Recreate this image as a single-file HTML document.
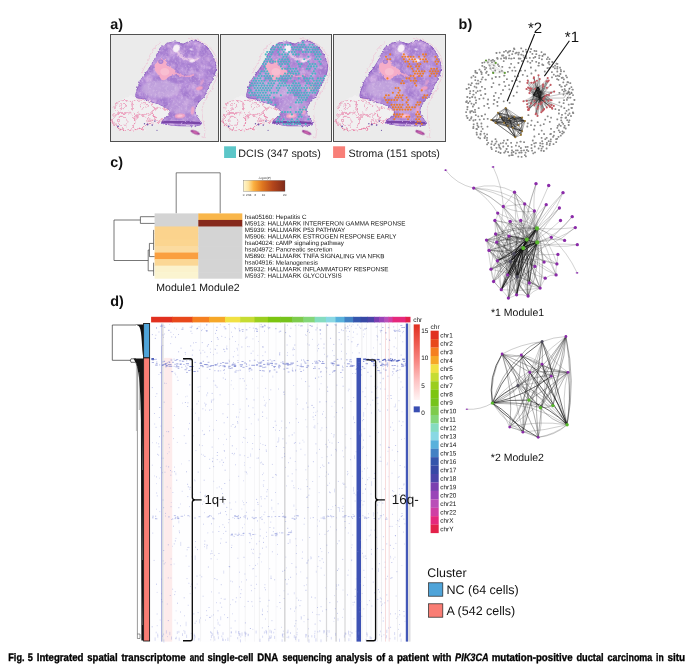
<!DOCTYPE html>
<html lang="en"><head><meta charset="utf-8"><title>Fig. 5</title>
<style>
html,body{margin:0;padding:0;background:#fff;}
body{width:692px;height:666px;overflow:hidden;position:relative;font-family:"Liberation Sans",sans-serif;}
svg{position:absolute;left:0;top:0;display:block;will-change:transform}
text{font-family:"Liberation Sans",sans-serif;text-rendering:geometricPrecision;}
</style></head><body>
<svg width="692" height="666" viewBox="0 0 692 666">
<defs><filter id="b1" x="-10%" y="-10%" width="120%" height="120%"><feGaussianBlur stdDeviation="0.5"/></filter><filter id="b2" x="-20%" y="-20%" width="140%" height="140%"><feGaussianBlur stdDeviation="1.1"/></filter><filter id="b3" x="-5%" y="-5%" width="110%" height="110%"><feGaussianBlur stdDeviation="0.35"/></filter><filter id="rg" x="-10%" y="-10%" width="120%" height="120%"><feTurbulence type="fractalNoise" baseFrequency="0.4" numOctaves="2" seed="5" result="n"/><feDisplacementMap in="SourceGraphic" in2="n" scale="3" xChannelSelector="R" yChannelSelector="G"/><feGaussianBlur stdDeviation="0.4"/></filter><filter id="rg2" x="-10%" y="-10%" width="120%" height="120%"><feTurbulence type="fractalNoise" baseFrequency="0.3" numOctaves="2" seed="9" result="n"/><feDisplacementMap in="SourceGraphic" in2="n" scale="3.5" xChannelSelector="R" yChannelSelector="G"/><feGaussianBlur stdDeviation="0.4"/></filter><filter id="rg3" x="-10%" y="-10%" width="120%" height="120%"><feTurbulence type="fractalNoise" baseFrequency="0.22" numOctaves="3" seed="14" result="n"/><feDisplacementMap in="SourceGraphic" in2="n" scale="7" xChannelSelector="R" yChannelSelector="G"/><feGaussianBlur stdDeviation="0.35"/></filter><filter id="tx" x="0" y="0" width="100%" height="100%"><feTurbulence type="fractalNoise" baseFrequency="0.45" numOctaves="2" seed="3" result="n"/><feColorMatrix in="n" type="matrix" values="0 0 0 0 0.88  0 0 0 0 0.76  0 0 0 0 0.93  2.0 0 0 0 -1.0"/><feGaussianBlur stdDeviation="0.4"/></filter><filter id="tx2" x="0" y="0" width="100%" height="100%"><feTurbulence type="fractalNoise" baseFrequency="0.1" numOctaves="3" seed="8" result="n"/><feColorMatrix in="n" type="matrix" values="0 0 0 0 0.53  0 0 0 0 0.33  0 0 0 0 0.74  0 2.6 0 0 -1.0"/></filter><filter id="tx3" x="0" y="0" width="100%" height="100%"><feTurbulence type="fractalNoise" baseFrequency="0.14" numOctaves="3" seed="21" result="n"/><feColorMatrix in="n" type="matrix" values="0 0 0 0 0.86  0 0 0 0 0.62  0 0 0 0 0.86  0 0 2.6 0 -1.15"/></filter><clipPath id="cT"><path d="M46,21.7C46.9,19.7 47.7,17.7 48.6,16.1C49.4,14.6 50,13.5 51.2,12.5C52.3,11.4 54.1,10.6 55.5,9.9C56.9,9.2 57.8,8.7 59.5,8.3C61.1,7.9 63.6,7.5 65.4,7.6C67.2,7.7 68.8,8.5 70.2,8.8C71.6,9.2 72.4,9.8 73.7,9.5C75,9.3 76.5,8 78,7.5C79.6,6.9 81.2,6.4 83.1,6.4C84.9,6.5 87.5,7.2 89.3,7.8C91.1,8.4 92.4,9.1 93.8,10.2C95.3,11.3 96.8,13 98,14.4C99.2,15.8 99.9,16.8 100.9,18.6C101.9,20.3 103.3,22.8 104,25.1C104.8,27.5 105.5,30.1 105.6,32.6C105.7,35.1 105.1,37.6 104.4,39.9C103.7,42.2 102.2,44.3 101.3,46.3C100.3,48.3 99.3,50.1 98.5,52C97.7,53.9 97,55.8 96.2,57.6C95.4,59.3 94.8,60.9 93.6,62.4C92.5,64 90.6,65.2 89.3,66.8C88,68.3 86.6,70.2 85.8,72C85.1,73.7 84.5,75.4 84.6,77.2C84.8,78.9 85.8,80.8 86.7,82.4C87.6,84 89.2,85.4 89.8,86.7C90.5,88 91.3,89.4 90.5,90.2C89.7,90.9 87,91.2 85,91.4C82.9,91.6 81.5,91.4 78,91.4C74.6,91.3 68.5,91.5 64.2,91C59.8,90.6 53.6,89.9 52,88.8C50.4,87.6 53.4,85.6 54.6,84.1C55.8,82.6 58.5,81.1 59.3,79.8C60.1,78.5 60.6,77.6 59.6,76.3C58.7,75 56.2,73.3 53.8,72C51.3,70.7 48.3,69.7 45.1,68.5C41.9,67.3 37.9,65.5 34.7,64.5C31.5,63.6 27.3,64.3 26,62.8C24.7,61.3 26.4,57.7 26.9,55.5C27.4,53.3 28.1,51.4 29,49.4C29.8,47.4 30.5,45.7 32.1,43.4C33.6,41 36.4,37.8 38.1,35.2C39.9,32.6 41.5,30.2 42.8,27.9C44.1,25.7 45,23.6 46,21.7Z"/></clipPath><clipPath id="cF"><path d="M2.6,82.4C2.5,80.6 2.7,79.2 3.5,77.2C4.2,75.1 5.5,72.3 6.9,70.2C8.4,68.2 10.1,66.3 12.1,65C14.2,63.7 16.8,62.9 19.1,62.4C21.4,61.9 23.4,61.8 26,62.1C28.6,62.4 31.5,63.1 34.7,64.2C37.9,65.2 41.9,67.2 45.1,68.5C48.3,69.8 51.4,70.7 53.8,72C56.1,73.3 58.4,75.1 59.3,76.3C60.2,77.5 59.7,77.6 59,78.9C58.2,80.2 55.8,82.5 54.6,84.1C53.5,85.7 53.9,87.4 52,88.4C50.1,89.4 46,89.6 43.4,90.2C40.7,90.7 38.3,90.9 36.4,91.9C34.5,92.9 34.1,95.5 32.1,96.2C30.1,97 27,96.7 24.3,96.6C21.5,96.4 18.2,96.2 15.6,95.4C13,94.6 10.5,93.2 8.7,91.9C6.8,90.6 5.3,89.2 4.3,87.6C3.3,86 2.7,84.1 2.6,82.4Z"/></clipPath><linearGradient id="lg" x1="0" x2="1" y1="0" y2="0"><stop offset="0" stop-color="#fff7d0"/><stop offset="0.12" stop-color="#fde4a0"/><stop offset="0.25" stop-color="#fbb040"/><stop offset="0.45" stop-color="#e07820"/><stop offset="0.7" stop-color="#b5471c"/><stop offset="1" stop-color="#7f2a1a"/></linearGradient><linearGradient id="vg" x1="0" x2="0" y1="0" y2="1"><stop offset="0" stop-color="#e02f20"/><stop offset="0.25" stop-color="#ee5a50"/><stop offset="0.5" stop-color="#f88a86"/><stop offset="0.75" stop-color="#fdc4c4"/><stop offset="1" stop-color="#fff4f4"/></linearGradient></defs>
<g id="panel-a">
<rect x="110.5" y="34.5" width="108.0" height="107" fill="#ebebeb" stroke="#505050" stroke-width="1"/>
<g transform="translate(110.2 34.4) scale(1.0000 1)"><g><g fill="none" stroke="#f0a0c2" stroke-opacity="0.8" stroke-width="0.5" filter="url(#rg2)"><path d="M50.3,8.1C49.4,9 46.8,11 45.1,13C43.4,15 41.5,17.6 40.2,19.9C38.9,22.3 38.4,24.6 37.3,26.9C36.2,29.2 34.8,31.8 33.8,33.8C32.9,35.8 31.9,38.1 31.6,39"/><path d="M78,4C79.2,4.2 82.7,4.6 85,5.2C87.3,5.8 89.6,6.6 91.9,7.8C94.2,9 96.8,10.3 98.8,12.3C100.9,14.3 102.9,16.8 104.4,19.9C105.8,23.1 107,27.7 107.5,31.2C108,34.7 107.8,37.7 107.2,40.7C106.5,43.8 105,46.9 103.7,49.8C102.4,52.7 100.7,55.3 99.2,58.1C97.7,60.9 95.7,63.9 94.5,66.8C93.3,69.6 92.2,72.3 91.9,75.4C91.6,78.6 92.3,82.7 92.8,85.8C93.2,89 94.3,91.8 94.5,94.5C94.7,97.2 94.5,100.8 94,102.3C93.4,103.8 91.7,103.3 91.2,103.5"/></g><path d="M2.6,82.4C2.5,80.6 2.7,79.2 3.5,77.2C4.2,75.1 5.5,72.3 6.9,70.2C8.4,68.2 10.1,66.3 12.1,65C14.2,63.7 16.8,62.9 19.1,62.4C21.4,61.9 23.4,61.8 26,62.1C28.6,62.4 31.5,63.1 34.7,64.2C37.9,65.2 41.9,67.2 45.1,68.5C48.3,69.8 51.4,70.7 53.8,72C56.1,73.3 58.4,75.1 59.3,76.3C60.2,77.5 59.7,77.6 59,78.9C58.2,80.2 55.8,82.5 54.6,84.1C53.5,85.7 53.9,87.4 52,88.4C50.1,89.4 46,89.6 43.4,90.2C40.7,90.7 38.3,90.9 36.4,91.9C34.5,92.9 34.1,95.5 32.1,96.2C30.1,97 27,96.7 24.3,96.6C21.5,96.4 18.2,96.2 15.6,95.4C13,94.6 10.5,93.2 8.7,91.9C6.8,90.6 5.3,89.2 4.3,87.6C3.3,86 2.7,84.1 2.6,82.4Z" fill="#f3f1f2" fill-opacity="0.8" stroke="none" filter="url(#rg3)"/><path d="M4.9,69.6C5.5,68.6 6.7,67.8 8.5,67.2C10.2,66.6 13.4,65.8 15.6,66C17.7,66.2 20.2,67.2 21.5,68.4C22.8,69.6 23.5,71.6 23.3,73.1C23.1,74.6 22,76.4 20.3,77.3C18.6,78.1 15.4,78.5 13.2,78.4C11,78.3 8.6,77.6 7.3,76.7C5.9,75.8 5.5,74.3 5.1,73.1C4.8,71.9 4.4,70.5 4.9,69.6ZM2.5,82.6C3.1,81.2 4.3,80.2 6.1,79.6C7.9,79 10.8,78.9 13.2,79C15.6,79.1 18.4,79.2 20.3,80.2C22.2,81.2 24,83.2 24.5,85C25,86.7 24.2,89.2 23.3,90.9C22.4,92.6 21,94.2 19.1,95C17.3,95.8 14.2,96 12,95.6C9.8,95.2 7.7,93.9 6.1,92.7C4.5,91.4 3.1,89.6 2.5,87.9C1.9,86.2 1.9,84 2.5,82.6ZM22.1,67.2C22.9,65.6 25.1,65.1 27.4,64.8C29.7,64.5 33.3,64.8 35.7,65.4C38.1,66 40.4,67 41.6,68.4C42.9,69.8 43.6,72 43.4,73.7C43.2,75.4 42.1,77.4 40.5,78.4C38.8,79.5 35.7,80.1 33.3,80.2C31,80.3 28,80 26.2,79C24.5,78 23.4,76.3 22.7,74.3C22,72.3 21.3,68.8 22.1,67.2ZM25.6,81.6C26.8,80.2 29.7,80.6 31.6,80.8C33.4,81.1 35.9,81.9 36.9,83.2C37.9,84.5 38.1,86.7 37.5,88.5C36.9,90.3 35,92.9 33.3,93.8C31.7,94.8 28.9,95.1 27.4,94.4C25.9,93.7 24.8,91.8 24.5,89.7C24.2,87.6 24.5,83.1 25.6,81.6ZM43.4,76.1C44.2,74.7 46.9,73.9 48.7,73.7C50.6,73.5 52.9,74.1 54.7,74.9C56.4,75.7 58.7,77 59.4,78.4C60.1,79.9 59.8,82.5 58.8,83.8C57.8,85.1 55.4,85.8 53.5,86.1C51.6,86.5 49.2,86.8 47.6,86.1C45.9,85.5 44.5,83.7 43.8,82C43.1,80.3 42.6,77.5 43.4,76.1ZM9.6,71.3C10,70.5 13.4,69.9 14.4,70.1C15.4,70.4 16,72.3 15.6,73.1C15.2,73.9 13,75.2 12,74.9C11,74.6 9.3,72.1 9.6,71.3ZM29.8,69.6C30.6,68.7 33.3,67.9 34.5,68.4C35.7,68.9 37.1,71.3 36.9,72.5C36.7,73.7 34.6,75.3 33.3,75.5C32.1,75.7 30.1,74.7 29.6,73.7C29,72.7 29,70.4 29.8,69.6ZM38.1,81.4C38.4,80.3 41.7,79.6 42.8,80.2C43.9,80.8 44.9,83.9 44.6,85C44.3,86 42.1,87.3 41,86.7C40,86.1 37.8,82.5 38.1,81.4ZM8.5,83.8C9.4,82.8 13,82.6 14.4,83.2C15.8,83.8 17,86 16.8,87.3C16.6,88.6 14.5,90.6 13.2,90.9C11.9,91.2 9.8,90.3 9.1,89.1C8.3,87.9 7.6,84.8 8.5,83.8Z" fill="none" stroke="#e8729f" stroke-opacity="0.9" stroke-width="0.7" filter="url(#rg3)"/><path d="M3.1,86.1C3.4,86.9 3.8,89.5 4.9,90.9C6,92.3 7.7,93.8 9.6,94.7C11.6,95.6 14.2,96.1 16.8,96.2C19.3,96.3 22.5,95.6 25.1,95.4C27.6,95.1 30.4,95.4 32.2,94.7C33.9,93.9 34.1,91.9 35.7,90.9C37.3,89.9 39.7,88.9 41.6,88.5C43.6,88.1 46.6,88.3 47.6,88.3" fill="none" stroke="#e6608f" stroke-opacity="0.85" stroke-width="0.9" stroke-dasharray="3 1.5 1.5 1" filter="url(#rg3)"/><path d="M46,21.7C46.9,19.7 47.7,17.7 48.6,16.1C49.4,14.6 50,13.5 51.2,12.5C52.3,11.4 54.1,10.6 55.5,9.9C56.9,9.2 57.8,8.7 59.5,8.3C61.1,7.9 63.6,7.5 65.4,7.6C67.2,7.7 68.8,8.5 70.2,8.8C71.6,9.2 72.4,9.8 73.7,9.5C75,9.3 76.5,8 78,7.5C79.6,6.9 81.2,6.4 83.1,6.4C84.9,6.5 87.5,7.2 89.3,7.8C91.1,8.4 92.4,9.1 93.8,10.2C95.3,11.3 96.8,13 98,14.4C99.2,15.8 99.9,16.8 100.9,18.6C101.9,20.3 103.3,22.8 104,25.1C104.8,27.5 105.5,30.1 105.6,32.6C105.7,35.1 105.1,37.6 104.4,39.9C103.7,42.2 102.2,44.3 101.3,46.3C100.3,48.3 99.3,50.1 98.5,52C97.7,53.9 97,55.8 96.2,57.6C95.4,59.3 94.8,60.9 93.6,62.4C92.5,64 90.6,65.2 89.3,66.8C88,68.3 86.6,70.2 85.8,72C85.1,73.7 84.5,75.4 84.6,77.2C84.8,78.9 85.8,80.8 86.7,82.4C87.6,84 89.2,85.4 89.8,86.7C90.5,88 91.3,89.4 90.5,90.2C89.7,90.9 87,91.2 85,91.4C82.9,91.6 81.5,91.4 78,91.4C74.6,91.3 68.5,91.5 64.2,91C59.8,90.6 53.6,89.9 52,88.8C50.4,87.6 53.4,85.6 54.6,84.1C55.8,82.6 58.5,81.1 59.3,79.8C60.1,78.5 60.6,77.6 59.6,76.3C58.7,75 56.2,73.3 53.8,72C51.3,70.7 48.3,69.7 45.1,68.5C41.9,67.3 37.9,65.5 34.7,64.5C31.5,63.6 27.3,64.3 26,62.8C24.7,61.3 26.4,57.7 26.9,55.5C27.4,53.3 28.1,51.4 29,49.4C29.8,47.4 30.5,45.7 32.1,43.4C33.6,41 36.4,37.8 38.1,35.2C39.9,32.6 41.5,30.2 42.8,27.9C44.1,25.7 45,23.6 46,21.7Z" fill="#a47cd0" stroke="#8c5cc0" stroke-width="1" filter="url(#rg)"/><g clip-path="url(#cT)"><rect x="0" y="0" width="109" height="107" fill="#fff" opacity="0.9" filter="url(#tx2)"/><rect x="0" y="0" width="109" height="107" fill="#fff" opacity="0.5" filter="url(#tx3)"/><ellipse cx="50.3" cy="54.6" rx="19" ry="9" fill="#c9aee0" opacity="0.7" filter="url(#b2)"/><ellipse cx="72.8" cy="72" rx="14" ry="8" fill="#c5a6de" opacity="0.6" filter="url(#b2)"/><rect x="0" y="0" width="109" height="107" fill="#fff" opacity="0.45" filter="url(#tx)"/><path d="M44.4,31.2C44.7,29.8 45.9,28.8 46.8,27.7C47.7,26.7 48.6,25.5 49.9,25.1C51.2,24.8 53.6,24.8 54.6,25.5C55.7,26.2 55.6,28.3 56.4,29.5C57.1,30.6 58,31.5 59.3,32.4C60.6,33.4 63,34.2 64.2,35.2C65.3,36.2 66.2,37.3 66.2,38.1C66.2,39 65.4,39.7 64.2,40.4C62.9,41.1 60.4,41.4 59,42.1C57.5,42.9 56.7,44.5 55.5,45.1C54.3,45.7 52.8,46.3 51.7,45.6C50.5,44.9 49.7,42.6 48.6,41.1C47.5,39.6 45.8,38.1 45.1,36.4C44.4,34.8 44.1,32.7 44.4,31.2Z" fill="#f5adc8" filter="url(#rg)"/><ellipse cx="54.6" cy="37.3" rx="4.5" ry="3.8" fill="#f9c0d2" opacity="0.9" filter="url(#b1)"/><path d="M64.2,38.1C65.3,38.6 68.8,40.4 71.1,41.1C73.4,41.8 76,42.3 78,42.1C80.1,42 82.4,40.7 83.2,40.4" fill="none" stroke="#f3a8c8" stroke-width="1.8" stroke-linecap="round" opacity="0.8" filter="url(#rg2)"/><ellipse cx="50.6" cy="27.2" rx="2.6" ry="2.4" fill="#a87fd0" opacity="1" filter="url(#b1)"/><ellipse cx="50.6" cy="27.2" rx="1.2" ry="1.2" fill="#bf98da" opacity="1" filter="url(#b1)"/><ellipse cx="66.2" cy="14" rx="3.3" ry="4" fill="#f8f0f7" opacity="1" transform="rotate(25 66.2 14)" filter="url(#b1)"/><ellipse cx="81" cy="15.1" rx="1.7" ry="1" fill="#f2e6f4" opacity="0.9" transform="rotate(20 81 15.1)" filter="url(#b1)"/><path d="M67.6,17.9C68.4,18.7 70.2,21.7 72.5,23.1C74.8,24.4 78.9,25.6 81.5,25.8C84.1,26.1 87,24.7 88.1,24.4" fill="none" stroke="#f0d0e8" stroke-width="2" stroke-linecap="round" opacity="0.75" filter="url(#rg2)"/><ellipse cx="82" cy="26.5" rx="2.4" ry="1.4" fill="#f7eef6" opacity="0.95" transform="rotate(-8 82 26.5)" filter="url(#b1)"/><ellipse cx="89.3" cy="53.8" rx="3.5" ry="1.9" fill="#f3a2c2" opacity="0.95" transform="rotate(-15 89.3 53.8)" filter="url(#b1)"/><ellipse cx="69.7" cy="81.5" rx="5.2" ry="2.3" fill="#f5a6c4" opacity="0.95" transform="rotate(-5 69.7 81.5)" filter="url(#b1)"/><ellipse cx="69.7" cy="81.5" rx="2.8" ry="0.9" fill="#fbd0dc" opacity="0.9" transform="rotate(-5 69.7 81.5)" filter="url(#b1)"/><ellipse cx="82.4" cy="76.3" rx="1.6" ry="4.2" fill="#f0a6c8" opacity="0.9" transform="rotate(5 82.4 76.3)" filter="url(#b1)"/><ellipse cx="91.9" cy="47.7" rx="1.4" ry="3.1" fill="#eaa0cc" opacity="0.6" transform="rotate(25 91.9 47.7)" filter="url(#b1)"/><path d="M52.4,87.2C54.3,87.3 59.9,87.8 64.2,87.9C68.4,88.1 73.6,87.9 78,88.1C82.4,88.3 88.4,88.8 90.5,89" fill="none" stroke="#7a46a8" stroke-width="2.6" stroke-linecap="round" filter="url(#rg)"/></g><ellipse cx="85" cy="98" rx="4.9" ry="1.7" fill="#a2459c" opacity="1" transform="rotate(22 85 98)" filter="url(#b1)"/><ellipse cx="85" cy="98" rx="2.8" ry="0.7" fill="#e070b0" opacity="1" transform="rotate(22 85 98)" filter="url(#b1)"/><circle cx="7.8" cy="91.9" r="0.9" fill="#6f55a8" filter="url(#b3)"/><circle cx="37.3" cy="90.2" r="1.0" fill="#6f55a8" filter="url(#b3)"/><circle cx="42" cy="90.7" r="0.8" fill="#6f55a8" filter="url(#b3)"/><circle cx="46.8" cy="95.9" r="0.6" fill="#6f55a8" filter="url(#b3)"/><circle cx="34.3" cy="89.3" r="0.7" fill="#6f55a8" filter="url(#b3)"/><circle cx="44.7" cy="86.7" r="0.8" fill="#6f55a8" filter="url(#b3)"/></g>
</g>
<rect x="220.5" y="34.5" width="111.0" height="107" fill="#ebebeb" stroke="#505050" stroke-width="1"/>
<g transform="translate(220.8 34.4) scale(1.0100 1)"><g><g fill="none" stroke="#f0a0c2" stroke-opacity="0.8" stroke-width="0.5" filter="url(#rg2)"><path d="M50.3,8.1C49.4,9 46.8,11 45.1,13C43.4,15 41.5,17.6 40.2,19.9C38.9,22.3 38.4,24.6 37.3,26.9C36.2,29.2 34.8,31.8 33.8,33.8C32.9,35.8 31.9,38.1 31.6,39"/><path d="M78,4C79.2,4.2 82.7,4.6 85,5.2C87.3,5.8 89.6,6.6 91.9,7.8C94.2,9 96.8,10.3 98.8,12.3C100.9,14.3 102.9,16.8 104.4,19.9C105.8,23.1 107,27.7 107.5,31.2C108,34.7 107.8,37.7 107.2,40.7C106.5,43.8 105,46.9 103.7,49.8C102.4,52.7 100.7,55.3 99.2,58.1C97.7,60.9 95.7,63.9 94.5,66.8C93.3,69.6 92.2,72.3 91.9,75.4C91.6,78.6 92.3,82.7 92.8,85.8C93.2,89 94.3,91.8 94.5,94.5C94.7,97.2 94.5,100.8 94,102.3C93.4,103.8 91.7,103.3 91.2,103.5"/></g><path d="M2.6,82.4C2.5,80.6 2.7,79.2 3.5,77.2C4.2,75.1 5.5,72.3 6.9,70.2C8.4,68.2 10.1,66.3 12.1,65C14.2,63.7 16.8,62.9 19.1,62.4C21.4,61.9 23.4,61.8 26,62.1C28.6,62.4 31.5,63.1 34.7,64.2C37.9,65.2 41.9,67.2 45.1,68.5C48.3,69.8 51.4,70.7 53.8,72C56.1,73.3 58.4,75.1 59.3,76.3C60.2,77.5 59.7,77.6 59,78.9C58.2,80.2 55.8,82.5 54.6,84.1C53.5,85.7 53.9,87.4 52,88.4C50.1,89.4 46,89.6 43.4,90.2C40.7,90.7 38.3,90.9 36.4,91.9C34.5,92.9 34.1,95.5 32.1,96.2C30.1,97 27,96.7 24.3,96.6C21.5,96.4 18.2,96.2 15.6,95.4C13,94.6 10.5,93.2 8.7,91.9C6.8,90.6 5.3,89.2 4.3,87.6C3.3,86 2.7,84.1 2.6,82.4Z" fill="#f3f1f2" fill-opacity="0.8" stroke="none" filter="url(#rg3)"/><path d="M4.9,69.6C5.5,68.6 6.7,67.8 8.5,67.2C10.2,66.6 13.4,65.8 15.6,66C17.7,66.2 20.2,67.2 21.5,68.4C22.8,69.6 23.5,71.6 23.3,73.1C23.1,74.6 22,76.4 20.3,77.3C18.6,78.1 15.4,78.5 13.2,78.4C11,78.3 8.6,77.6 7.3,76.7C5.9,75.8 5.5,74.3 5.1,73.1C4.8,71.9 4.4,70.5 4.9,69.6ZM2.5,82.6C3.1,81.2 4.3,80.2 6.1,79.6C7.9,79 10.8,78.9 13.2,79C15.6,79.1 18.4,79.2 20.3,80.2C22.2,81.2 24,83.2 24.5,85C25,86.7 24.2,89.2 23.3,90.9C22.4,92.6 21,94.2 19.1,95C17.3,95.8 14.2,96 12,95.6C9.8,95.2 7.7,93.9 6.1,92.7C4.5,91.4 3.1,89.6 2.5,87.9C1.9,86.2 1.9,84 2.5,82.6ZM22.1,67.2C22.9,65.6 25.1,65.1 27.4,64.8C29.7,64.5 33.3,64.8 35.7,65.4C38.1,66 40.4,67 41.6,68.4C42.9,69.8 43.6,72 43.4,73.7C43.2,75.4 42.1,77.4 40.5,78.4C38.8,79.5 35.7,80.1 33.3,80.2C31,80.3 28,80 26.2,79C24.5,78 23.4,76.3 22.7,74.3C22,72.3 21.3,68.8 22.1,67.2ZM25.6,81.6C26.8,80.2 29.7,80.6 31.6,80.8C33.4,81.1 35.9,81.9 36.9,83.2C37.9,84.5 38.1,86.7 37.5,88.5C36.9,90.3 35,92.9 33.3,93.8C31.7,94.8 28.9,95.1 27.4,94.4C25.9,93.7 24.8,91.8 24.5,89.7C24.2,87.6 24.5,83.1 25.6,81.6ZM43.4,76.1C44.2,74.7 46.9,73.9 48.7,73.7C50.6,73.5 52.9,74.1 54.7,74.9C56.4,75.7 58.7,77 59.4,78.4C60.1,79.9 59.8,82.5 58.8,83.8C57.8,85.1 55.4,85.8 53.5,86.1C51.6,86.5 49.2,86.8 47.6,86.1C45.9,85.5 44.5,83.7 43.8,82C43.1,80.3 42.6,77.5 43.4,76.1ZM9.6,71.3C10,70.5 13.4,69.9 14.4,70.1C15.4,70.4 16,72.3 15.6,73.1C15.2,73.9 13,75.2 12,74.9C11,74.6 9.3,72.1 9.6,71.3ZM29.8,69.6C30.6,68.7 33.3,67.9 34.5,68.4C35.7,68.9 37.1,71.3 36.9,72.5C36.7,73.7 34.6,75.3 33.3,75.5C32.1,75.7 30.1,74.7 29.6,73.7C29,72.7 29,70.4 29.8,69.6ZM38.1,81.4C38.4,80.3 41.7,79.6 42.8,80.2C43.9,80.8 44.9,83.9 44.6,85C44.3,86 42.1,87.3 41,86.7C40,86.1 37.8,82.5 38.1,81.4ZM8.5,83.8C9.4,82.8 13,82.6 14.4,83.2C15.8,83.8 17,86 16.8,87.3C16.6,88.6 14.5,90.6 13.2,90.9C11.9,91.2 9.8,90.3 9.1,89.1C8.3,87.9 7.6,84.8 8.5,83.8Z" fill="none" stroke="#e8729f" stroke-opacity="0.9" stroke-width="0.7" filter="url(#rg3)"/><path d="M3.1,86.1C3.4,86.9 3.8,89.5 4.9,90.9C6,92.3 7.7,93.8 9.6,94.7C11.6,95.6 14.2,96.1 16.8,96.2C19.3,96.3 22.5,95.6 25.1,95.4C27.6,95.1 30.4,95.4 32.2,94.7C33.9,93.9 34.1,91.9 35.7,90.9C37.3,89.9 39.7,88.9 41.6,88.5C43.6,88.1 46.6,88.3 47.6,88.3" fill="none" stroke="#e6608f" stroke-opacity="0.85" stroke-width="0.9" stroke-dasharray="3 1.5 1.5 1" filter="url(#rg3)"/><path d="M46,21.7C46.9,19.7 47.7,17.7 48.6,16.1C49.4,14.6 50,13.5 51.2,12.5C52.3,11.4 54.1,10.6 55.5,9.9C56.9,9.2 57.8,8.7 59.5,8.3C61.1,7.9 63.6,7.5 65.4,7.6C67.2,7.7 68.8,8.5 70.2,8.8C71.6,9.2 72.4,9.8 73.7,9.5C75,9.3 76.5,8 78,7.5C79.6,6.9 81.2,6.4 83.1,6.4C84.9,6.5 87.5,7.2 89.3,7.8C91.1,8.4 92.4,9.1 93.8,10.2C95.3,11.3 96.8,13 98,14.4C99.2,15.8 99.9,16.8 100.9,18.6C101.9,20.3 103.3,22.8 104,25.1C104.8,27.5 105.5,30.1 105.6,32.6C105.7,35.1 105.1,37.6 104.4,39.9C103.7,42.2 102.2,44.3 101.3,46.3C100.3,48.3 99.3,50.1 98.5,52C97.7,53.9 97,55.8 96.2,57.6C95.4,59.3 94.8,60.9 93.6,62.4C92.5,64 90.6,65.2 89.3,66.8C88,68.3 86.6,70.2 85.8,72C85.1,73.7 84.5,75.4 84.6,77.2C84.8,78.9 85.8,80.8 86.7,82.4C87.6,84 89.2,85.4 89.8,86.7C90.5,88 91.3,89.4 90.5,90.2C89.7,90.9 87,91.2 85,91.4C82.9,91.6 81.5,91.4 78,91.4C74.6,91.3 68.5,91.5 64.2,91C59.8,90.6 53.6,89.9 52,88.8C50.4,87.6 53.4,85.6 54.6,84.1C55.8,82.6 58.5,81.1 59.3,79.8C60.1,78.5 60.6,77.6 59.6,76.3C58.7,75 56.2,73.3 53.8,72C51.3,70.7 48.3,69.7 45.1,68.5C41.9,67.3 37.9,65.5 34.7,64.5C31.5,63.6 27.3,64.3 26,62.8C24.7,61.3 26.4,57.7 26.9,55.5C27.4,53.3 28.1,51.4 29,49.4C29.8,47.4 30.5,45.7 32.1,43.4C33.6,41 36.4,37.8 38.1,35.2C39.9,32.6 41.5,30.2 42.8,27.9C44.1,25.7 45,23.6 46,21.7Z" fill="#a47cd0" stroke="#8c5cc0" stroke-width="1" filter="url(#rg)"/><g clip-path="url(#cT)"><rect x="0" y="0" width="109" height="107" fill="#fff" opacity="0.9" filter="url(#tx2)"/><rect x="0" y="0" width="109" height="107" fill="#fff" opacity="0.5" filter="url(#tx3)"/><ellipse cx="50.3" cy="54.6" rx="19" ry="9" fill="#c9aee0" opacity="0.7" filter="url(#b2)"/><ellipse cx="72.8" cy="72" rx="14" ry="8" fill="#c5a6de" opacity="0.6" filter="url(#b2)"/><rect x="0" y="0" width="109" height="107" fill="#fff" opacity="0.45" filter="url(#tx)"/><path d="M44.4,31.2C44.7,29.8 45.9,28.8 46.8,27.7C47.7,26.7 48.6,25.5 49.9,25.1C51.2,24.8 53.6,24.8 54.6,25.5C55.7,26.2 55.6,28.3 56.4,29.5C57.1,30.6 58,31.5 59.3,32.4C60.6,33.4 63,34.2 64.2,35.2C65.3,36.2 66.2,37.3 66.2,38.1C66.2,39 65.4,39.7 64.2,40.4C62.9,41.1 60.4,41.4 59,42.1C57.5,42.9 56.7,44.5 55.5,45.1C54.3,45.7 52.8,46.3 51.7,45.6C50.5,44.9 49.7,42.6 48.6,41.1C47.5,39.6 45.8,38.1 45.1,36.4C44.4,34.8 44.1,32.7 44.4,31.2Z" fill="#f5adc8" filter="url(#rg)"/><ellipse cx="54.6" cy="37.3" rx="4.5" ry="3.8" fill="#f9c0d2" opacity="0.9" filter="url(#b1)"/><path d="M64.2,38.1C65.3,38.6 68.8,40.4 71.1,41.1C73.4,41.8 76,42.3 78,42.1C80.1,42 82.4,40.7 83.2,40.4" fill="none" stroke="#f3a8c8" stroke-width="1.8" stroke-linecap="round" opacity="0.8" filter="url(#rg2)"/><ellipse cx="50.6" cy="27.2" rx="2.6" ry="2.4" fill="#a87fd0" opacity="1" filter="url(#b1)"/><ellipse cx="50.6" cy="27.2" rx="1.2" ry="1.2" fill="#bf98da" opacity="1" filter="url(#b1)"/><ellipse cx="66.2" cy="14" rx="3.3" ry="4" fill="#f8f0f7" opacity="1" transform="rotate(25 66.2 14)" filter="url(#b1)"/><ellipse cx="81" cy="15.1" rx="1.7" ry="1" fill="#f2e6f4" opacity="0.9" transform="rotate(20 81 15.1)" filter="url(#b1)"/><path d="M67.6,17.9C68.4,18.7 70.2,21.7 72.5,23.1C74.8,24.4 78.9,25.6 81.5,25.8C84.1,26.1 87,24.7 88.1,24.4" fill="none" stroke="#f0d0e8" stroke-width="2" stroke-linecap="round" opacity="0.75" filter="url(#rg2)"/><ellipse cx="82" cy="26.5" rx="2.4" ry="1.4" fill="#f7eef6" opacity="0.95" transform="rotate(-8 82 26.5)" filter="url(#b1)"/><ellipse cx="89.3" cy="53.8" rx="3.5" ry="1.9" fill="#f3a2c2" opacity="0.95" transform="rotate(-15 89.3 53.8)" filter="url(#b1)"/><ellipse cx="69.7" cy="81.5" rx="5.2" ry="2.3" fill="#f5a6c4" opacity="0.95" transform="rotate(-5 69.7 81.5)" filter="url(#b1)"/><ellipse cx="69.7" cy="81.5" rx="2.8" ry="0.9" fill="#fbd0dc" opacity="0.9" transform="rotate(-5 69.7 81.5)" filter="url(#b1)"/><ellipse cx="82.4" cy="76.3" rx="1.6" ry="4.2" fill="#f0a6c8" opacity="0.9" transform="rotate(5 82.4 76.3)" filter="url(#b1)"/><ellipse cx="91.9" cy="47.7" rx="1.4" ry="3.1" fill="#eaa0cc" opacity="0.6" transform="rotate(25 91.9 47.7)" filter="url(#b1)"/><path d="M52.4,87.2C54.3,87.3 59.9,87.8 64.2,87.9C68.4,88.1 73.6,87.9 78,88.1C82.4,88.3 88.4,88.8 90.5,89" fill="none" stroke="#7a46a8" stroke-width="2.6" stroke-linecap="round" filter="url(#rg)"/></g><ellipse cx="85" cy="98" rx="4.9" ry="1.7" fill="#a2459c" opacity="1" transform="rotate(22 85 98)" filter="url(#b1)"/><ellipse cx="85" cy="98" rx="2.8" ry="0.7" fill="#e070b0" opacity="1" transform="rotate(22 85 98)" filter="url(#b1)"/><circle cx="7.8" cy="91.9" r="0.9" fill="#6f55a8" filter="url(#b3)"/><circle cx="37.3" cy="90.2" r="1.0" fill="#6f55a8" filter="url(#b3)"/><circle cx="42" cy="90.7" r="0.8" fill="#6f55a8" filter="url(#b3)"/><circle cx="46.8" cy="95.9" r="0.6" fill="#6f55a8" filter="url(#b3)"/><circle cx="34.3" cy="89.3" r="0.7" fill="#6f55a8" filter="url(#b3)"/><circle cx="44.7" cy="86.7" r="0.8" fill="#6f55a8" filter="url(#b3)"/></g>
<g fill="#3fb6c2" fill-opacity="0.95"><circle cx="81.2" cy="8" r="1.05"/><circle cx="55.4" cy="10.4" r="1.05"/><circle cx="58.1" cy="10.4" r="1.05"/><circle cx="60.8" cy="10.4" r="1.05"/><circle cx="63.6" cy="10.4" r="1.05"/><circle cx="66.3" cy="10.4" r="1.05"/><circle cx="69" cy="10.4" r="1.05"/><circle cx="77.2" cy="10.4" r="1.05"/><circle cx="79.9" cy="10.4" r="1.05"/><circle cx="82.6" cy="10.4" r="1.05"/><circle cx="88" cy="10.4" r="1.05"/><circle cx="90.8" cy="10.4" r="1.05"/><circle cx="51.3" cy="12.8" r="1.05"/><circle cx="54" cy="12.8" r="1.05"/><circle cx="56.8" cy="12.8" r="1.05"/><circle cx="59.5" cy="12.8" r="1.05"/><circle cx="70.4" cy="12.8" r="1.05"/><circle cx="73.1" cy="12.8" r="1.05"/><circle cx="75.8" cy="12.8" r="1.05"/><circle cx="78.5" cy="12.8" r="1.05"/><circle cx="81.2" cy="12.8" r="1.05"/><circle cx="84" cy="12.8" r="1.05"/><circle cx="86.7" cy="12.8" r="1.05"/><circle cx="89.4" cy="12.8" r="1.05"/><circle cx="92.1" cy="12.8" r="1.05"/><circle cx="94.8" cy="12.8" r="1.05"/><circle cx="50" cy="15.2" r="1.05"/><circle cx="52.7" cy="15.2" r="1.05"/><circle cx="58.1" cy="15.2" r="1.05"/><circle cx="60.8" cy="15.2" r="1.05"/><circle cx="63.6" cy="15.2" r="1.05"/><circle cx="71.7" cy="15.2" r="1.05"/><circle cx="74.4" cy="15.2" r="1.05"/><circle cx="77.2" cy="15.2" r="1.05"/><circle cx="79.9" cy="15.2" r="1.05"/><circle cx="85.3" cy="15.2" r="1.05"/><circle cx="88" cy="15.2" r="1.05"/><circle cx="90.8" cy="15.2" r="1.05"/><circle cx="93.5" cy="15.2" r="1.05"/><circle cx="96.2" cy="15.2" r="1.05"/><circle cx="45.9" cy="17.6" r="1.05"/><circle cx="48.6" cy="17.6" r="1.05"/><circle cx="51.3" cy="17.6" r="1.05"/><circle cx="56.8" cy="17.6" r="1.05"/><circle cx="62.2" cy="17.6" r="1.05"/><circle cx="67.6" cy="17.6" r="1.05"/><circle cx="70.4" cy="17.6" r="1.05"/><circle cx="73.1" cy="17.6" r="1.05"/><circle cx="81.2" cy="17.6" r="1.05"/><circle cx="84" cy="17.6" r="1.05"/><circle cx="86.7" cy="17.6" r="1.05"/><circle cx="89.4" cy="17.6" r="1.05"/><circle cx="92.1" cy="17.6" r="1.05"/><circle cx="94.8" cy="17.6" r="1.05"/><circle cx="97.6" cy="17.6" r="1.05"/><circle cx="44.5" cy="20" r="1.05"/><circle cx="50" cy="20" r="1.05"/><circle cx="58.1" cy="20" r="1.05"/><circle cx="60.8" cy="20" r="1.05"/><circle cx="63.6" cy="20" r="1.05"/><circle cx="66.3" cy="20" r="1.05"/><circle cx="71.7" cy="20" r="1.05"/><circle cx="74.4" cy="20" r="1.05"/><circle cx="77.2" cy="20" r="1.05"/><circle cx="93.5" cy="20" r="1.05"/><circle cx="96.2" cy="20" r="1.05"/><circle cx="98.9" cy="20" r="1.05"/><circle cx="45.9" cy="22.4" r="1.05"/><circle cx="48.6" cy="22.4" r="1.05"/><circle cx="62.2" cy="22.4" r="1.05"/><circle cx="64.9" cy="22.4" r="1.05"/><circle cx="86.7" cy="22.4" r="1.05"/><circle cx="94.8" cy="22.4" r="1.05"/><circle cx="97.6" cy="22.4" r="1.05"/><circle cx="44.5" cy="24.8" r="1.05"/><circle cx="47.2" cy="24.8" r="1.05"/><circle cx="50" cy="24.8" r="1.05"/><circle cx="58.1" cy="24.8" r="1.05"/><circle cx="60.8" cy="24.8" r="1.05"/><circle cx="63.6" cy="24.8" r="1.05"/><circle cx="66.3" cy="24.8" r="1.05"/><circle cx="82.6" cy="24.8" r="1.05"/><circle cx="93.5" cy="24.8" r="1.05"/><circle cx="96.2" cy="24.8" r="1.05"/><circle cx="98.9" cy="24.8" r="1.05"/><circle cx="43.2" cy="27.2" r="1.05"/><circle cx="45.9" cy="27.2" r="1.05"/><circle cx="48.6" cy="27.2" r="1.05"/><circle cx="51.3" cy="27.2" r="1.05"/><circle cx="54" cy="27.2" r="1.05"/><circle cx="56.8" cy="27.2" r="1.05"/><circle cx="59.5" cy="27.2" r="1.05"/><circle cx="62.2" cy="27.2" r="1.05"/><circle cx="64.9" cy="27.2" r="1.05"/><circle cx="67.6" cy="27.2" r="1.05"/><circle cx="75.8" cy="27.2" r="1.05"/><circle cx="86.7" cy="27.2" r="1.05"/><circle cx="97.6" cy="27.2" r="1.05"/><circle cx="41.8" cy="29.6" r="1.05"/><circle cx="44.5" cy="29.6" r="1.05"/><circle cx="58.1" cy="29.6" r="1.05"/><circle cx="60.8" cy="29.6" r="1.05"/><circle cx="63.6" cy="29.6" r="1.05"/><circle cx="66.3" cy="29.6" r="1.05"/><circle cx="77.2" cy="29.6" r="1.05"/><circle cx="79.9" cy="29.6" r="1.05"/><circle cx="88" cy="29.6" r="1.05"/><circle cx="90.8" cy="29.6" r="1.05"/><circle cx="93.5" cy="29.6" r="1.05"/><circle cx="98.9" cy="29.6" r="1.05"/><circle cx="43.2" cy="32" r="1.05"/><circle cx="59.5" cy="32" r="1.05"/><circle cx="67.6" cy="32" r="1.05"/><circle cx="78.5" cy="32" r="1.05"/><circle cx="86.7" cy="32" r="1.05"/><circle cx="89.4" cy="32" r="1.05"/><circle cx="92.1" cy="32" r="1.05"/><circle cx="94.8" cy="32" r="1.05"/><circle cx="44.5" cy="34.4" r="1.05"/><circle cx="60.8" cy="34.4" r="1.05"/><circle cx="63.6" cy="34.4" r="1.05"/><circle cx="66.3" cy="34.4" r="1.05"/><circle cx="69" cy="34.4" r="1.05"/><circle cx="71.7" cy="34.4" r="1.05"/><circle cx="74.4" cy="34.4" r="1.05"/><circle cx="85.3" cy="34.4" r="1.05"/><circle cx="88" cy="34.4" r="1.05"/><circle cx="93.5" cy="34.4" r="1.05"/><circle cx="40.4" cy="36.8" r="1.05"/><circle cx="43.2" cy="36.8" r="1.05"/><circle cx="45.9" cy="36.8" r="1.05"/><circle cx="67.6" cy="36.8" r="1.05"/><circle cx="70.4" cy="36.8" r="1.05"/><circle cx="73.1" cy="36.8" r="1.05"/><circle cx="75.8" cy="36.8" r="1.05"/><circle cx="92.1" cy="36.8" r="1.05"/><circle cx="39.1" cy="39.2" r="1.05"/><circle cx="44.5" cy="39.2" r="1.05"/><circle cx="47.2" cy="39.2" r="1.05"/><circle cx="63.6" cy="39.2" r="1.05"/><circle cx="66.3" cy="39.2" r="1.05"/><circle cx="69" cy="39.2" r="1.05"/><circle cx="71.7" cy="39.2" r="1.05"/><circle cx="74.4" cy="39.2" r="1.05"/><circle cx="77.2" cy="39.2" r="1.05"/><circle cx="90.8" cy="39.2" r="1.05"/><circle cx="93.5" cy="39.2" r="1.05"/><circle cx="37.7" cy="41.6" r="1.05"/><circle cx="40.4" cy="41.6" r="1.05"/><circle cx="43.2" cy="41.6" r="1.05"/><circle cx="45.9" cy="41.6" r="1.05"/><circle cx="48.6" cy="41.6" r="1.05"/><circle cx="51.3" cy="41.6" r="1.05"/><circle cx="59.5" cy="41.6" r="1.05"/><circle cx="62.2" cy="41.6" r="1.05"/><circle cx="64.9" cy="41.6" r="1.05"/><circle cx="67.6" cy="41.6" r="1.05"/><circle cx="70.4" cy="41.6" r="1.05"/><circle cx="81.2" cy="41.6" r="1.05"/><circle cx="89.4" cy="41.6" r="1.05"/><circle cx="103" cy="41.6" r="1.05"/><circle cx="33.6" cy="44" r="1.05"/><circle cx="36.4" cy="44" r="1.05"/><circle cx="39.1" cy="44" r="1.05"/><circle cx="44.5" cy="44" r="1.05"/><circle cx="47.2" cy="44" r="1.05"/><circle cx="50" cy="44" r="1.05"/><circle cx="55.4" cy="44" r="1.05"/><circle cx="58.1" cy="44" r="1.05"/><circle cx="60.8" cy="44" r="1.05"/><circle cx="63.6" cy="44" r="1.05"/><circle cx="66.3" cy="44" r="1.05"/><circle cx="69" cy="44" r="1.05"/><circle cx="77.2" cy="44" r="1.05"/><circle cx="82.6" cy="44" r="1.05"/><circle cx="85.3" cy="44" r="1.05"/><circle cx="88" cy="44" r="1.05"/><circle cx="90.8" cy="44" r="1.05"/><circle cx="96.2" cy="44" r="1.05"/><circle cx="98.9" cy="44" r="1.05"/><circle cx="101.6" cy="44" r="1.05"/><circle cx="32.3" cy="46.4" r="1.05"/><circle cx="35" cy="46.4" r="1.05"/><circle cx="37.7" cy="46.4" r="1.05"/><circle cx="40.4" cy="46.4" r="1.05"/><circle cx="43.2" cy="46.4" r="1.05"/><circle cx="48.6" cy="46.4" r="1.05"/><circle cx="51.3" cy="46.4" r="1.05"/><circle cx="54" cy="46.4" r="1.05"/><circle cx="56.8" cy="46.4" r="1.05"/><circle cx="59.5" cy="46.4" r="1.05"/><circle cx="62.2" cy="46.4" r="1.05"/><circle cx="64.9" cy="46.4" r="1.05"/><circle cx="73.1" cy="46.4" r="1.05"/><circle cx="84" cy="46.4" r="1.05"/><circle cx="86.7" cy="46.4" r="1.05"/><circle cx="92.1" cy="46.4" r="1.05"/><circle cx="94.8" cy="46.4" r="1.05"/><circle cx="97.6" cy="46.4" r="1.05"/><circle cx="100.3" cy="46.4" r="1.05"/><circle cx="30.9" cy="48.8" r="1.05"/><circle cx="33.6" cy="48.8" r="1.05"/><circle cx="36.4" cy="48.8" r="1.05"/><circle cx="39.1" cy="48.8" r="1.05"/><circle cx="41.8" cy="48.8" r="1.05"/><circle cx="47.2" cy="48.8" r="1.05"/><circle cx="50" cy="48.8" r="1.05"/><circle cx="52.7" cy="48.8" r="1.05"/><circle cx="58.1" cy="48.8" r="1.05"/><circle cx="60.8" cy="48.8" r="1.05"/><circle cx="63.6" cy="48.8" r="1.05"/><circle cx="71.7" cy="48.8" r="1.05"/><circle cx="74.4" cy="48.8" r="1.05"/><circle cx="77.2" cy="48.8" r="1.05"/><circle cx="85.3" cy="48.8" r="1.05"/><circle cx="88" cy="48.8" r="1.05"/><circle cx="90.8" cy="48.8" r="1.05"/><circle cx="93.5" cy="48.8" r="1.05"/><circle cx="96.2" cy="48.8" r="1.05"/><circle cx="98.9" cy="48.8" r="1.05"/><circle cx="29.6" cy="51.2" r="1.05"/><circle cx="32.3" cy="51.2" r="1.05"/><circle cx="35" cy="51.2" r="1.05"/><circle cx="37.7" cy="51.2" r="1.05"/><circle cx="40.4" cy="51.2" r="1.05"/><circle cx="43.2" cy="51.2" r="1.05"/><circle cx="45.9" cy="51.2" r="1.05"/><circle cx="48.6" cy="51.2" r="1.05"/><circle cx="51.3" cy="51.2" r="1.05"/><circle cx="56.8" cy="51.2" r="1.05"/><circle cx="59.5" cy="51.2" r="1.05"/><circle cx="62.2" cy="51.2" r="1.05"/><circle cx="64.9" cy="51.2" r="1.05"/><circle cx="67.6" cy="51.2" r="1.05"/><circle cx="70.4" cy="51.2" r="1.05"/><circle cx="73.1" cy="51.2" r="1.05"/><circle cx="75.8" cy="51.2" r="1.05"/><circle cx="78.5" cy="51.2" r="1.05"/><circle cx="84" cy="51.2" r="1.05"/><circle cx="89.4" cy="51.2" r="1.05"/><circle cx="92.1" cy="51.2" r="1.05"/><circle cx="94.8" cy="51.2" r="1.05"/><circle cx="97.6" cy="51.2" r="1.05"/><circle cx="28.2" cy="53.6" r="1.05"/><circle cx="33.6" cy="53.6" r="1.05"/><circle cx="36.4" cy="53.6" r="1.05"/><circle cx="39.1" cy="53.6" r="1.05"/><circle cx="41.8" cy="53.6" r="1.05"/><circle cx="44.5" cy="53.6" r="1.05"/><circle cx="47.2" cy="53.6" r="1.05"/><circle cx="50" cy="53.6" r="1.05"/><circle cx="55.4" cy="53.6" r="1.05"/><circle cx="58.1" cy="53.6" r="1.05"/><circle cx="66.3" cy="53.6" r="1.05"/><circle cx="69" cy="53.6" r="1.05"/><circle cx="71.7" cy="53.6" r="1.05"/><circle cx="74.4" cy="53.6" r="1.05"/><circle cx="77.2" cy="53.6" r="1.05"/><circle cx="79.9" cy="53.6" r="1.05"/><circle cx="82.6" cy="53.6" r="1.05"/><circle cx="85.3" cy="53.6" r="1.05"/><circle cx="88" cy="53.6" r="1.05"/><circle cx="90.8" cy="53.6" r="1.05"/><circle cx="93.5" cy="53.6" r="1.05"/><circle cx="96.2" cy="53.6" r="1.05"/><circle cx="29.6" cy="56" r="1.05"/><circle cx="35" cy="56" r="1.05"/><circle cx="37.7" cy="56" r="1.05"/><circle cx="40.4" cy="56" r="1.05"/><circle cx="43.2" cy="56" r="1.05"/><circle cx="45.9" cy="56" r="1.05"/><circle cx="48.6" cy="56" r="1.05"/><circle cx="56.8" cy="56" r="1.05"/><circle cx="67.6" cy="56" r="1.05"/><circle cx="70.4" cy="56" r="1.05"/><circle cx="73.1" cy="56" r="1.05"/><circle cx="75.8" cy="56" r="1.05"/><circle cx="78.5" cy="56" r="1.05"/><circle cx="84" cy="56" r="1.05"/><circle cx="89.4" cy="56" r="1.05"/><circle cx="92.1" cy="56" r="1.05"/><circle cx="94.8" cy="56" r="1.05"/><circle cx="28.2" cy="58.4" r="1.05"/><circle cx="30.9" cy="58.4" r="1.05"/><circle cx="33.6" cy="58.4" r="1.05"/><circle cx="36.4" cy="58.4" r="1.05"/><circle cx="39.1" cy="58.4" r="1.05"/><circle cx="41.8" cy="58.4" r="1.05"/><circle cx="44.5" cy="58.4" r="1.05"/><circle cx="50" cy="58.4" r="1.05"/><circle cx="52.7" cy="58.4" r="1.05"/><circle cx="55.4" cy="58.4" r="1.05"/><circle cx="66.3" cy="58.4" r="1.05"/><circle cx="69" cy="58.4" r="1.05"/><circle cx="71.7" cy="58.4" r="1.05"/><circle cx="74.4" cy="58.4" r="1.05"/><circle cx="77.2" cy="58.4" r="1.05"/><circle cx="79.9" cy="58.4" r="1.05"/><circle cx="82.6" cy="58.4" r="1.05"/><circle cx="85.3" cy="58.4" r="1.05"/><circle cx="88" cy="58.4" r="1.05"/><circle cx="90.8" cy="58.4" r="1.05"/><circle cx="93.5" cy="58.4" r="1.05"/><circle cx="29.6" cy="60.8" r="1.05"/><circle cx="32.3" cy="60.8" r="1.05"/><circle cx="35" cy="60.8" r="1.05"/><circle cx="37.7" cy="60.8" r="1.05"/><circle cx="40.4" cy="60.8" r="1.05"/><circle cx="43.2" cy="60.8" r="1.05"/><circle cx="45.9" cy="60.8" r="1.05"/><circle cx="48.6" cy="60.8" r="1.05"/><circle cx="59.5" cy="60.8" r="1.05"/><circle cx="73.1" cy="60.8" r="1.05"/><circle cx="75.8" cy="60.8" r="1.05"/><circle cx="78.5" cy="60.8" r="1.05"/><circle cx="81.2" cy="60.8" r="1.05"/><circle cx="84" cy="60.8" r="1.05"/><circle cx="86.7" cy="60.8" r="1.05"/><circle cx="36.4" cy="63.2" r="1.05"/><circle cx="39.1" cy="63.2" r="1.05"/><circle cx="41.8" cy="63.2" r="1.05"/><circle cx="44.5" cy="63.2" r="1.05"/><circle cx="47.2" cy="63.2" r="1.05"/><circle cx="52.7" cy="63.2" r="1.05"/><circle cx="77.2" cy="63.2" r="1.05"/><circle cx="79.9" cy="63.2" r="1.05"/><circle cx="82.6" cy="63.2" r="1.05"/><circle cx="85.3" cy="63.2" r="1.05"/><circle cx="40.4" cy="65.6" r="1.05"/><circle cx="43.2" cy="65.6" r="1.05"/><circle cx="45.9" cy="65.6" r="1.05"/><circle cx="48.6" cy="65.6" r="1.05"/><circle cx="75.8" cy="65.6" r="1.05"/><circle cx="78.5" cy="65.6" r="1.05"/><circle cx="81.2" cy="65.6" r="1.05"/><circle cx="84" cy="65.6" r="1.05"/><circle cx="47.2" cy="68" r="1.05"/><circle cx="50" cy="68" r="1.05"/><circle cx="74.4" cy="68" r="1.05"/><circle cx="77.2" cy="68" r="1.05"/><circle cx="79.9" cy="68" r="1.05"/><circle cx="54" cy="70.4" r="1.05"/><circle cx="69" cy="72.8" r="1.05"/><circle cx="82.6" cy="72.8" r="1.05"/><circle cx="78.5" cy="75.2" r="1.05"/><circle cx="81.2" cy="75.2" r="1.05"/><circle cx="84" cy="75.2" r="1.05"/><circle cx="60.8" cy="77.6" r="1.05"/><circle cx="63.6" cy="77.6" r="1.05"/><circle cx="66.3" cy="77.6" r="1.05"/><circle cx="69" cy="77.6" r="1.05"/><circle cx="74.4" cy="77.6" r="1.05"/><circle cx="77.2" cy="77.6" r="1.05"/><circle cx="79.9" cy="77.6" r="1.05"/><circle cx="70.4" cy="80" r="1.05"/><circle cx="78.5" cy="80" r="1.05"/><circle cx="58.1" cy="82.4" r="1.05"/><circle cx="77.2" cy="82.4" r="1.05"/><circle cx="79.9" cy="82.4" r="1.05"/><circle cx="56.8" cy="84.8" r="1.05"/><circle cx="62.2" cy="84.8" r="1.05"/><circle cx="70.4" cy="84.8" r="1.05"/><circle cx="75.8" cy="84.8" r="1.05"/><circle cx="86.7" cy="84.8" r="1.05"/><circle cx="55.4" cy="87.2" r="1.05"/><circle cx="58.1" cy="87.2" r="1.05"/><circle cx="60.8" cy="87.2" r="1.05"/><circle cx="66.3" cy="87.2" r="1.05"/><circle cx="69" cy="87.2" r="1.05"/><circle cx="71.7" cy="87.2" r="1.05"/><circle cx="74.4" cy="87.2" r="1.05"/><circle cx="77.2" cy="87.2" r="1.05"/><circle cx="62.2" cy="89.6" r="1.05"/><circle cx="64.9" cy="89.6" r="1.05"/><circle cx="67.6" cy="89.6" r="1.05"/><circle cx="70.4" cy="89.6" r="1.05"/><circle cx="73.1" cy="89.6" r="1.05"/><circle cx="75.8" cy="89.6" r="1.05"/><circle cx="78.5" cy="89.6" r="1.05"/><circle cx="84" cy="89.6" r="1.05"/></g>
</g>
<rect x="333.5" y="34.5" width="112.0" height="107" fill="#ebebeb" stroke="#505050" stroke-width="1"/>
<g transform="translate(334.2 34.4) scale(1.0100 1)"><g><g fill="none" stroke="#f0a0c2" stroke-opacity="0.8" stroke-width="0.5" filter="url(#rg2)"><path d="M50.3,8.1C49.4,9 46.8,11 45.1,13C43.4,15 41.5,17.6 40.2,19.9C38.9,22.3 38.4,24.6 37.3,26.9C36.2,29.2 34.8,31.8 33.8,33.8C32.9,35.8 31.9,38.1 31.6,39"/><path d="M78,4C79.2,4.2 82.7,4.6 85,5.2C87.3,5.8 89.6,6.6 91.9,7.8C94.2,9 96.8,10.3 98.8,12.3C100.9,14.3 102.9,16.8 104.4,19.9C105.8,23.1 107,27.7 107.5,31.2C108,34.7 107.8,37.7 107.2,40.7C106.5,43.8 105,46.9 103.7,49.8C102.4,52.7 100.7,55.3 99.2,58.1C97.7,60.9 95.7,63.9 94.5,66.8C93.3,69.6 92.2,72.3 91.9,75.4C91.6,78.6 92.3,82.7 92.8,85.8C93.2,89 94.3,91.8 94.5,94.5C94.7,97.2 94.5,100.8 94,102.3C93.4,103.8 91.7,103.3 91.2,103.5"/></g><path d="M2.6,82.4C2.5,80.6 2.7,79.2 3.5,77.2C4.2,75.1 5.5,72.3 6.9,70.2C8.4,68.2 10.1,66.3 12.1,65C14.2,63.7 16.8,62.9 19.1,62.4C21.4,61.9 23.4,61.8 26,62.1C28.6,62.4 31.5,63.1 34.7,64.2C37.9,65.2 41.9,67.2 45.1,68.5C48.3,69.8 51.4,70.7 53.8,72C56.1,73.3 58.4,75.1 59.3,76.3C60.2,77.5 59.7,77.6 59,78.9C58.2,80.2 55.8,82.5 54.6,84.1C53.5,85.7 53.9,87.4 52,88.4C50.1,89.4 46,89.6 43.4,90.2C40.7,90.7 38.3,90.9 36.4,91.9C34.5,92.9 34.1,95.5 32.1,96.2C30.1,97 27,96.7 24.3,96.6C21.5,96.4 18.2,96.2 15.6,95.4C13,94.6 10.5,93.2 8.7,91.9C6.8,90.6 5.3,89.2 4.3,87.6C3.3,86 2.7,84.1 2.6,82.4Z" fill="#f3f1f2" fill-opacity="0.8" stroke="none" filter="url(#rg3)"/><path d="M4.9,69.6C5.5,68.6 6.7,67.8 8.5,67.2C10.2,66.6 13.4,65.8 15.6,66C17.7,66.2 20.2,67.2 21.5,68.4C22.8,69.6 23.5,71.6 23.3,73.1C23.1,74.6 22,76.4 20.3,77.3C18.6,78.1 15.4,78.5 13.2,78.4C11,78.3 8.6,77.6 7.3,76.7C5.9,75.8 5.5,74.3 5.1,73.1C4.8,71.9 4.4,70.5 4.9,69.6ZM2.5,82.6C3.1,81.2 4.3,80.2 6.1,79.6C7.9,79 10.8,78.9 13.2,79C15.6,79.1 18.4,79.2 20.3,80.2C22.2,81.2 24,83.2 24.5,85C25,86.7 24.2,89.2 23.3,90.9C22.4,92.6 21,94.2 19.1,95C17.3,95.8 14.2,96 12,95.6C9.8,95.2 7.7,93.9 6.1,92.7C4.5,91.4 3.1,89.6 2.5,87.9C1.9,86.2 1.9,84 2.5,82.6ZM22.1,67.2C22.9,65.6 25.1,65.1 27.4,64.8C29.7,64.5 33.3,64.8 35.7,65.4C38.1,66 40.4,67 41.6,68.4C42.9,69.8 43.6,72 43.4,73.7C43.2,75.4 42.1,77.4 40.5,78.4C38.8,79.5 35.7,80.1 33.3,80.2C31,80.3 28,80 26.2,79C24.5,78 23.4,76.3 22.7,74.3C22,72.3 21.3,68.8 22.1,67.2ZM25.6,81.6C26.8,80.2 29.7,80.6 31.6,80.8C33.4,81.1 35.9,81.9 36.9,83.2C37.9,84.5 38.1,86.7 37.5,88.5C36.9,90.3 35,92.9 33.3,93.8C31.7,94.8 28.9,95.1 27.4,94.4C25.9,93.7 24.8,91.8 24.5,89.7C24.2,87.6 24.5,83.1 25.6,81.6ZM43.4,76.1C44.2,74.7 46.9,73.9 48.7,73.7C50.6,73.5 52.9,74.1 54.7,74.9C56.4,75.7 58.7,77 59.4,78.4C60.1,79.9 59.8,82.5 58.8,83.8C57.8,85.1 55.4,85.8 53.5,86.1C51.6,86.5 49.2,86.8 47.6,86.1C45.9,85.5 44.5,83.7 43.8,82C43.1,80.3 42.6,77.5 43.4,76.1ZM9.6,71.3C10,70.5 13.4,69.9 14.4,70.1C15.4,70.4 16,72.3 15.6,73.1C15.2,73.9 13,75.2 12,74.9C11,74.6 9.3,72.1 9.6,71.3ZM29.8,69.6C30.6,68.7 33.3,67.9 34.5,68.4C35.7,68.9 37.1,71.3 36.9,72.5C36.7,73.7 34.6,75.3 33.3,75.5C32.1,75.7 30.1,74.7 29.6,73.7C29,72.7 29,70.4 29.8,69.6ZM38.1,81.4C38.4,80.3 41.7,79.6 42.8,80.2C43.9,80.8 44.9,83.9 44.6,85C44.3,86 42.1,87.3 41,86.7C40,86.1 37.8,82.5 38.1,81.4ZM8.5,83.8C9.4,82.8 13,82.6 14.4,83.2C15.8,83.8 17,86 16.8,87.3C16.6,88.6 14.5,90.6 13.2,90.9C11.9,91.2 9.8,90.3 9.1,89.1C8.3,87.9 7.6,84.8 8.5,83.8Z" fill="none" stroke="#e8729f" stroke-opacity="0.9" stroke-width="0.7" filter="url(#rg3)"/><path d="M3.1,86.1C3.4,86.9 3.8,89.5 4.9,90.9C6,92.3 7.7,93.8 9.6,94.7C11.6,95.6 14.2,96.1 16.8,96.2C19.3,96.3 22.5,95.6 25.1,95.4C27.6,95.1 30.4,95.4 32.2,94.7C33.9,93.9 34.1,91.9 35.7,90.9C37.3,89.9 39.7,88.9 41.6,88.5C43.6,88.1 46.6,88.3 47.6,88.3" fill="none" stroke="#e6608f" stroke-opacity="0.85" stroke-width="0.9" stroke-dasharray="3 1.5 1.5 1" filter="url(#rg3)"/><path d="M46,21.7C46.9,19.7 47.7,17.7 48.6,16.1C49.4,14.6 50,13.5 51.2,12.5C52.3,11.4 54.1,10.6 55.5,9.9C56.9,9.2 57.8,8.7 59.5,8.3C61.1,7.9 63.6,7.5 65.4,7.6C67.2,7.7 68.8,8.5 70.2,8.8C71.6,9.2 72.4,9.8 73.7,9.5C75,9.3 76.5,8 78,7.5C79.6,6.9 81.2,6.4 83.1,6.4C84.9,6.5 87.5,7.2 89.3,7.8C91.1,8.4 92.4,9.1 93.8,10.2C95.3,11.3 96.8,13 98,14.4C99.2,15.8 99.9,16.8 100.9,18.6C101.9,20.3 103.3,22.8 104,25.1C104.8,27.5 105.5,30.1 105.6,32.6C105.7,35.1 105.1,37.6 104.4,39.9C103.7,42.2 102.2,44.3 101.3,46.3C100.3,48.3 99.3,50.1 98.5,52C97.7,53.9 97,55.8 96.2,57.6C95.4,59.3 94.8,60.9 93.6,62.4C92.5,64 90.6,65.2 89.3,66.8C88,68.3 86.6,70.2 85.8,72C85.1,73.7 84.5,75.4 84.6,77.2C84.8,78.9 85.8,80.8 86.7,82.4C87.6,84 89.2,85.4 89.8,86.7C90.5,88 91.3,89.4 90.5,90.2C89.7,90.9 87,91.2 85,91.4C82.9,91.6 81.5,91.4 78,91.4C74.6,91.3 68.5,91.5 64.2,91C59.8,90.6 53.6,89.9 52,88.8C50.4,87.6 53.4,85.6 54.6,84.1C55.8,82.6 58.5,81.1 59.3,79.8C60.1,78.5 60.6,77.6 59.6,76.3C58.7,75 56.2,73.3 53.8,72C51.3,70.7 48.3,69.7 45.1,68.5C41.9,67.3 37.9,65.5 34.7,64.5C31.5,63.6 27.3,64.3 26,62.8C24.7,61.3 26.4,57.7 26.9,55.5C27.4,53.3 28.1,51.4 29,49.4C29.8,47.4 30.5,45.7 32.1,43.4C33.6,41 36.4,37.8 38.1,35.2C39.9,32.6 41.5,30.2 42.8,27.9C44.1,25.7 45,23.6 46,21.7Z" fill="#a47cd0" stroke="#8c5cc0" stroke-width="1" filter="url(#rg)"/><g clip-path="url(#cT)"><rect x="0" y="0" width="109" height="107" fill="#fff" opacity="0.9" filter="url(#tx2)"/><rect x="0" y="0" width="109" height="107" fill="#fff" opacity="0.5" filter="url(#tx3)"/><ellipse cx="50.3" cy="54.6" rx="19" ry="9" fill="#c9aee0" opacity="0.7" filter="url(#b2)"/><ellipse cx="72.8" cy="72" rx="14" ry="8" fill="#c5a6de" opacity="0.6" filter="url(#b2)"/><rect x="0" y="0" width="109" height="107" fill="#fff" opacity="0.45" filter="url(#tx)"/><path d="M44.4,31.2C44.7,29.8 45.9,28.8 46.8,27.7C47.7,26.7 48.6,25.5 49.9,25.1C51.2,24.8 53.6,24.8 54.6,25.5C55.7,26.2 55.6,28.3 56.4,29.5C57.1,30.6 58,31.5 59.3,32.4C60.6,33.4 63,34.2 64.2,35.2C65.3,36.2 66.2,37.3 66.2,38.1C66.2,39 65.4,39.7 64.2,40.4C62.9,41.1 60.4,41.4 59,42.1C57.5,42.9 56.7,44.5 55.5,45.1C54.3,45.7 52.8,46.3 51.7,45.6C50.5,44.9 49.7,42.6 48.6,41.1C47.5,39.6 45.8,38.1 45.1,36.4C44.4,34.8 44.1,32.7 44.4,31.2Z" fill="#f5adc8" filter="url(#rg)"/><ellipse cx="54.6" cy="37.3" rx="4.5" ry="3.8" fill="#f9c0d2" opacity="0.9" filter="url(#b1)"/><path d="M64.2,38.1C65.3,38.6 68.8,40.4 71.1,41.1C73.4,41.8 76,42.3 78,42.1C80.1,42 82.4,40.7 83.2,40.4" fill="none" stroke="#f3a8c8" stroke-width="1.8" stroke-linecap="round" opacity="0.8" filter="url(#rg2)"/><ellipse cx="50.6" cy="27.2" rx="2.6" ry="2.4" fill="#a87fd0" opacity="1" filter="url(#b1)"/><ellipse cx="50.6" cy="27.2" rx="1.2" ry="1.2" fill="#bf98da" opacity="1" filter="url(#b1)"/><ellipse cx="66.2" cy="14" rx="3.3" ry="4" fill="#f8f0f7" opacity="1" transform="rotate(25 66.2 14)" filter="url(#b1)"/><ellipse cx="81" cy="15.1" rx="1.7" ry="1" fill="#f2e6f4" opacity="0.9" transform="rotate(20 81 15.1)" filter="url(#b1)"/><path d="M67.6,17.9C68.4,18.7 70.2,21.7 72.5,23.1C74.8,24.4 78.9,25.6 81.5,25.8C84.1,26.1 87,24.7 88.1,24.4" fill="none" stroke="#f0d0e8" stroke-width="2" stroke-linecap="round" opacity="0.75" filter="url(#rg2)"/><ellipse cx="82" cy="26.5" rx="2.4" ry="1.4" fill="#f7eef6" opacity="0.95" transform="rotate(-8 82 26.5)" filter="url(#b1)"/><ellipse cx="89.3" cy="53.8" rx="3.5" ry="1.9" fill="#f3a2c2" opacity="0.95" transform="rotate(-15 89.3 53.8)" filter="url(#b1)"/><ellipse cx="69.7" cy="81.5" rx="5.2" ry="2.3" fill="#f5a6c4" opacity="0.95" transform="rotate(-5 69.7 81.5)" filter="url(#b1)"/><ellipse cx="69.7" cy="81.5" rx="2.8" ry="0.9" fill="#fbd0dc" opacity="0.9" transform="rotate(-5 69.7 81.5)" filter="url(#b1)"/><ellipse cx="82.4" cy="76.3" rx="1.6" ry="4.2" fill="#f0a6c8" opacity="0.9" transform="rotate(5 82.4 76.3)" filter="url(#b1)"/><ellipse cx="91.9" cy="47.7" rx="1.4" ry="3.1" fill="#eaa0cc" opacity="0.6" transform="rotate(25 91.9 47.7)" filter="url(#b1)"/><path d="M52.4,87.2C54.3,87.3 59.9,87.8 64.2,87.9C68.4,88.1 73.6,87.9 78,88.1C82.4,88.3 88.4,88.8 90.5,89" fill="none" stroke="#7a46a8" stroke-width="2.6" stroke-linecap="round" filter="url(#rg)"/></g><ellipse cx="85" cy="98" rx="4.9" ry="1.7" fill="#a2459c" opacity="1" transform="rotate(22 85 98)" filter="url(#b1)"/><ellipse cx="85" cy="98" rx="2.8" ry="0.7" fill="#e070b0" opacity="1" transform="rotate(22 85 98)" filter="url(#b1)"/><circle cx="7.8" cy="91.9" r="0.9" fill="#6f55a8" filter="url(#b3)"/><circle cx="37.3" cy="90.2" r="1.0" fill="#6f55a8" filter="url(#b3)"/><circle cx="42" cy="90.7" r="0.8" fill="#6f55a8" filter="url(#b3)"/><circle cx="46.8" cy="95.9" r="0.6" fill="#6f55a8" filter="url(#b3)"/><circle cx="34.3" cy="89.3" r="0.7" fill="#6f55a8" filter="url(#b3)"/><circle cx="44.7" cy="86.7" r="0.8" fill="#6f55a8" filter="url(#b3)"/></g>
<g fill="#f07a1c" fill-opacity="0.95"><circle cx="55.4" cy="20" r="1.05"/><circle cx="69" cy="20" r="1.05"/><circle cx="88" cy="20" r="1.05"/><circle cx="90.8" cy="20" r="1.05"/><circle cx="51.3" cy="22.4" r="1.05"/><circle cx="67.6" cy="22.4" r="1.05"/><circle cx="70.4" cy="22.4" r="1.05"/><circle cx="73.1" cy="22.4" r="1.05"/><circle cx="75.8" cy="22.4" r="1.05"/><circle cx="78.5" cy="22.4" r="1.05"/><circle cx="84" cy="22.4" r="1.05"/><circle cx="89.4" cy="22.4" r="1.05"/><circle cx="100.3" cy="22.4" r="1.05"/><circle cx="52.7" cy="24.8" r="1.05"/><circle cx="55.4" cy="24.8" r="1.05"/><circle cx="69" cy="24.8" r="1.05"/><circle cx="74.4" cy="24.8" r="1.05"/><circle cx="77.2" cy="24.8" r="1.05"/><circle cx="79.9" cy="24.8" r="1.05"/><circle cx="85.3" cy="24.8" r="1.05"/><circle cx="88" cy="24.8" r="1.05"/><circle cx="90.8" cy="24.8" r="1.05"/><circle cx="101.6" cy="24.8" r="1.05"/><circle cx="70.4" cy="27.2" r="1.05"/><circle cx="73.1" cy="27.2" r="1.05"/><circle cx="78.5" cy="27.2" r="1.05"/><circle cx="81.2" cy="27.2" r="1.05"/><circle cx="89.4" cy="27.2" r="1.05"/><circle cx="92.1" cy="27.2" r="1.05"/><circle cx="100.3" cy="27.2" r="1.05"/><circle cx="103" cy="27.2" r="1.05"/><circle cx="74.4" cy="29.6" r="1.05"/><circle cx="82.6" cy="29.6" r="1.05"/><circle cx="85.3" cy="29.6" r="1.05"/><circle cx="101.6" cy="29.6" r="1.05"/><circle cx="73.1" cy="32" r="1.05"/><circle cx="75.8" cy="32" r="1.05"/><circle cx="81.2" cy="32" r="1.05"/><circle cx="84" cy="32" r="1.05"/><circle cx="77.2" cy="34.4" r="1.05"/><circle cx="82.6" cy="34.4" r="1.05"/><circle cx="96.2" cy="34.4" r="1.05"/><circle cx="98.9" cy="34.4" r="1.05"/><circle cx="101.6" cy="34.4" r="1.05"/><circle cx="78.5" cy="36.8" r="1.05"/><circle cx="81.2" cy="36.8" r="1.05"/><circle cx="84" cy="36.8" r="1.05"/><circle cx="86.7" cy="36.8" r="1.05"/><circle cx="89.4" cy="36.8" r="1.05"/><circle cx="94.8" cy="36.8" r="1.05"/><circle cx="97.6" cy="36.8" r="1.05"/><circle cx="100.3" cy="36.8" r="1.05"/><circle cx="103" cy="36.8" r="1.05"/><circle cx="79.9" cy="39.2" r="1.05"/><circle cx="82.6" cy="39.2" r="1.05"/><circle cx="85.3" cy="39.2" r="1.05"/><circle cx="88" cy="39.2" r="1.05"/><circle cx="96.2" cy="39.2" r="1.05"/><circle cx="98.9" cy="39.2" r="1.05"/><circle cx="101.6" cy="39.2" r="1.05"/><circle cx="75.8" cy="41.6" r="1.05"/><circle cx="78.5" cy="41.6" r="1.05"/><circle cx="84" cy="41.6" r="1.05"/><circle cx="86.7" cy="41.6" r="1.05"/><circle cx="94.8" cy="41.6" r="1.05"/><circle cx="100.3" cy="41.6" r="1.05"/><circle cx="52.7" cy="44" r="1.05"/><circle cx="71.7" cy="44" r="1.05"/><circle cx="74.4" cy="44" r="1.05"/><circle cx="79.9" cy="44" r="1.05"/><circle cx="67.6" cy="46.4" r="1.05"/><circle cx="75.8" cy="46.4" r="1.05"/><circle cx="78.5" cy="46.4" r="1.05"/><circle cx="81.2" cy="46.4" r="1.05"/><circle cx="66.3" cy="48.8" r="1.05"/><circle cx="69" cy="48.8" r="1.05"/><circle cx="79.9" cy="48.8" r="1.05"/><circle cx="81.2" cy="51.2" r="1.05"/><circle cx="60.8" cy="53.6" r="1.05"/><circle cx="63.6" cy="53.6" r="1.05"/><circle cx="64.9" cy="56" r="1.05"/><circle cx="86.7" cy="56" r="1.05"/><circle cx="58.1" cy="58.4" r="1.05"/><circle cx="63.6" cy="58.4" r="1.05"/><circle cx="51.3" cy="60.8" r="1.05"/><circle cx="54" cy="60.8" r="1.05"/><circle cx="62.2" cy="60.8" r="1.05"/><circle cx="64.9" cy="60.8" r="1.05"/><circle cx="67.6" cy="60.8" r="1.05"/><circle cx="89.4" cy="60.8" r="1.05"/><circle cx="92.1" cy="60.8" r="1.05"/><circle cx="50" cy="63.2" r="1.05"/><circle cx="60.8" cy="63.2" r="1.05"/><circle cx="63.6" cy="63.2" r="1.05"/><circle cx="66.3" cy="63.2" r="1.05"/><circle cx="71.7" cy="63.2" r="1.05"/><circle cx="88" cy="63.2" r="1.05"/><circle cx="90.8" cy="63.2" r="1.05"/><circle cx="51.3" cy="65.6" r="1.05"/><circle cx="54" cy="65.6" r="1.05"/><circle cx="56.8" cy="65.6" r="1.05"/><circle cx="59.5" cy="65.6" r="1.05"/><circle cx="62.2" cy="65.6" r="1.05"/><circle cx="67.6" cy="65.6" r="1.05"/><circle cx="73.1" cy="65.6" r="1.05"/><circle cx="52.7" cy="68" r="1.05"/><circle cx="71.7" cy="68" r="1.05"/><circle cx="82.6" cy="68" r="1.05"/><circle cx="85.3" cy="68" r="1.05"/><circle cx="56.8" cy="70.4" r="1.05"/><circle cx="59.5" cy="70.4" r="1.05"/><circle cx="62.2" cy="70.4" r="1.05"/><circle cx="64.9" cy="70.4" r="1.05"/><circle cx="67.6" cy="70.4" r="1.05"/><circle cx="73.1" cy="70.4" r="1.05"/><circle cx="81.2" cy="70.4" r="1.05"/><circle cx="84" cy="70.4" r="1.05"/><circle cx="58.1" cy="72.8" r="1.05"/><circle cx="60.8" cy="72.8" r="1.05"/><circle cx="63.6" cy="72.8" r="1.05"/><circle cx="66.3" cy="72.8" r="1.05"/><circle cx="71.7" cy="72.8" r="1.05"/><circle cx="74.4" cy="72.8" r="1.05"/><circle cx="77.2" cy="72.8" r="1.05"/><circle cx="79.9" cy="72.8" r="1.05"/><circle cx="59.5" cy="75.2" r="1.05"/><circle cx="62.2" cy="75.2" r="1.05"/><circle cx="64.9" cy="75.2" r="1.05"/><circle cx="67.6" cy="75.2" r="1.05"/><circle cx="70.4" cy="75.2" r="1.05"/><circle cx="73.1" cy="75.2" r="1.05"/><circle cx="75.8" cy="75.2" r="1.05"/><circle cx="82.6" cy="77.6" r="1.05"/><circle cx="59.5" cy="80" r="1.05"/><circle cx="62.2" cy="80" r="1.05"/><circle cx="64.9" cy="80" r="1.05"/><circle cx="67.6" cy="80" r="1.05"/><circle cx="81.2" cy="80" r="1.05"/><circle cx="84" cy="80" r="1.05"/><circle cx="60.8" cy="82.4" r="1.05"/><circle cx="63.6" cy="82.4" r="1.05"/><circle cx="66.3" cy="82.4" r="1.05"/><circle cx="71.7" cy="82.4" r="1.05"/><circle cx="74.4" cy="82.4" r="1.05"/><circle cx="82.6" cy="82.4" r="1.05"/><circle cx="85.3" cy="82.4" r="1.05"/><circle cx="59.5" cy="84.8" r="1.05"/><circle cx="73.1" cy="84.8" r="1.05"/><circle cx="81.2" cy="84.8" r="1.05"/><circle cx="84" cy="84.8" r="1.05"/><circle cx="82.6" cy="87.2" r="1.05"/><circle cx="85.3" cy="87.2" r="1.05"/><circle cx="81.2" cy="89.6" r="1.05"/><circle cx="86.7" cy="89.6" r="1.05"/></g>
</g>
<rect x="224.1" y="146.3" width="11.9" height="11.7" fill="#5cc6c8"/>
<text x="238.3" y="156.6" font-size="10.75" fill="#1a1a1a">DCIS (347 spots)</text>
<rect x="333.1" y="146.3" width="12" height="11.7" fill="#f87f78"/>
<text x="348.5" y="156.6" font-size="10.75" fill="#1a1a1a">Stroma (151 spots)</text>
</g>
<text x="110.3" y="28.6" font-size="14.4" font-weight="bold" fill="#111">a)</text>
<text x="458.6" y="28.7" font-size="14.4" font-weight="bold" fill="#111">b)</text>
<text x="110.3" y="167.1" font-size="14.4" font-weight="bold" fill="#111">c)</text>
<text x="110.3" y="306.0" font-size="14.4" font-weight="bold" fill="#111">d)</text>
<g id="panel-b">
<g fill="#8a8a8a"><rect x="545.7" y="147.6" width="1.8" height="1.8" rx="0.45"/><rect x="542.9" y="150.1" width="1.8" height="1.8" rx="0.45"/><rect x="540.3" y="149.7" width="1.8" height="1.8" rx="0.45"/><rect x="534.1" y="151.5" width="1.8" height="1.8" rx="0.45"/><rect x="532.4" y="152.4" width="1.8" height="1.8" rx="0.45"/><rect x="525" y="155.5" width="1.8" height="1.8" rx="0.45"/><rect x="524" y="154.2" width="1.8" height="1.8" rx="0.45"/><rect x="520.7" y="156" width="1.8" height="1.8" rx="0.45"/><rect x="517.4" y="155.7" width="1.8" height="1.8" rx="0.45"/><rect x="511.8" y="154.3" width="1.8" height="1.8" rx="0.45"/><rect x="510.6" y="154.2" width="1.8" height="1.8" rx="0.45"/><rect x="508.3" y="154.8" width="1.8" height="1.8" rx="0.45"/><rect x="503.4" y="151.8" width="1.8" height="1.8" rx="0.45"/><rect x="499.6" y="152.1" width="1.8" height="1.8" rx="0.45"/><rect x="497.7" y="151.2" width="1.8" height="1.8" rx="0.45"/><rect x="495" y="150.3" width="1.8" height="1.8" rx="0.45"/><rect x="490.9" y="148.2" width="1.8" height="1.8" rx="0.45"/><rect x="490.3" y="146.6" width="1.8" height="1.8" rx="0.45"/><rect x="486.2" y="143.5" width="1.8" height="1.8" rx="0.45"/><rect x="479.2" y="137.4" width="1.8" height="1.8" rx="0.45"/><rect x="477.6" y="136.5" width="1.8" height="1.8" rx="0.45"/><rect x="475.9" y="133.6" width="1.8" height="1.8" rx="0.45"/><rect x="475.7" y="131.7" width="1.8" height="1.8" rx="0.45"/><rect x="472.4" y="127.3" width="1.8" height="1.8" rx="0.45"/><rect x="472.5" y="126" width="1.8" height="1.8" rx="0.45"/><rect x="468.7" y="119.3" width="1.8" height="1.8" rx="0.45"/><rect x="466.6" y="117.1" width="1.8" height="1.8" rx="0.45"/><rect x="465.7" y="114.9" width="1.8" height="1.8" rx="0.45"/><rect x="465.2" y="111.2" width="1.8" height="1.8" rx="0.45"/><rect x="466.4" y="108.5" width="1.8" height="1.8" rx="0.45"/><rect x="466.6" y="106.1" width="1.8" height="1.8" rx="0.45"/><rect x="465.3" y="101.1" width="1.8" height="1.8" rx="0.45"/><rect x="465.9" y="100.3" width="1.8" height="1.8" rx="0.45"/><rect x="466.4" y="96.1" width="1.8" height="1.8" rx="0.45"/><rect x="465.7" y="88.1" width="1.8" height="1.8" rx="0.45"/><rect x="468" y="86.9" width="1.8" height="1.8" rx="0.45"/><rect x="467.8" y="83.4" width="1.8" height="1.8" rx="0.45"/><rect x="470.5" y="76.6" width="1.8" height="1.8" rx="0.45"/><rect x="472.5" y="75" width="1.8" height="1.8" rx="0.45"/><rect x="474.8" y="71.8" width="1.8" height="1.8" rx="0.45"/><rect x="474.5" y="70.1" width="1.8" height="1.8" rx="0.45"/><rect x="481.4" y="64.9" width="1.8" height="1.8" rx="0.45"/><rect x="481.4" y="61.9" width="1.8" height="1.8" rx="0.45"/><rect x="483.5" y="61.5" width="1.8" height="1.8" rx="0.45"/><rect x="488" y="58.8" width="1.8" height="1.8" rx="0.45"/><rect x="495.6" y="52.1" width="1.8" height="1.8" rx="0.45"/><rect x="498.8" y="51.7" width="1.8" height="1.8" rx="0.45"/><rect x="503.1" y="51" width="1.8" height="1.8" rx="0.45"/><rect x="505" y="50" width="1.8" height="1.8" rx="0.45"/><rect x="509.3" y="50" width="1.8" height="1.8" rx="0.45"/><rect x="513.1" y="47.5" width="1.8" height="1.8" rx="0.45"/><rect x="513.5" y="48.3" width="1.8" height="1.8" rx="0.45"/><rect x="520.3" y="47.4" width="1.8" height="1.8" rx="0.45"/><rect x="525" y="48.7" width="1.8" height="1.8" rx="0.45"/><rect x="530.2" y="48.1" width="1.8" height="1.8" rx="0.45"/><rect x="533.6" y="49.9" width="1.8" height="1.8" rx="0.45"/><rect x="535.4" y="50.3" width="1.8" height="1.8" rx="0.45"/><rect x="540.6" y="51.2" width="1.8" height="1.8" rx="0.45"/><rect x="542.9" y="53.5" width="1.8" height="1.8" rx="0.45"/><rect x="544.2" y="53.4" width="1.8" height="1.8" rx="0.45"/><rect x="547" y="56.5" width="1.8" height="1.8" rx="0.45"/><rect x="548.6" y="58.3" width="1.8" height="1.8" rx="0.45"/><rect x="555.6" y="62.7" width="1.8" height="1.8" rx="0.45"/><rect x="556.5" y="62.9" width="1.8" height="1.8" rx="0.45"/><rect x="559.2" y="66.8" width="1.8" height="1.8" rx="0.45"/><rect x="559.9" y="69" width="1.8" height="1.8" rx="0.45"/><rect x="563.1" y="70.5" width="1.8" height="1.8" rx="0.45"/><rect x="565.1" y="74.8" width="1.8" height="1.8" rx="0.45"/><rect x="566.1" y="76.5" width="1.8" height="1.8" rx="0.45"/><rect x="567.3" y="81.4" width="1.8" height="1.8" rx="0.45"/><rect x="569.4" y="82.3" width="1.8" height="1.8" rx="0.45"/><rect x="570.5" y="86.2" width="1.8" height="1.8" rx="0.45"/><rect x="571.8" y="88.8" width="1.8" height="1.8" rx="0.45"/><rect x="570.8" y="92.2" width="1.8" height="1.8" rx="0.45"/><rect x="572.1" y="94.2" width="1.8" height="1.8" rx="0.45"/><rect x="573.5" y="99.1" width="1.8" height="1.8" rx="0.45"/><rect x="572" y="103.3" width="1.8" height="1.8" rx="0.45"/><rect x="570.9" y="107.1" width="1.8" height="1.8" rx="0.45"/><rect x="572" y="111.6" width="1.8" height="1.8" rx="0.45"/><rect x="572.4" y="112.2" width="1.8" height="1.8" rx="0.45"/><rect x="570.1" y="115.1" width="1.8" height="1.8" rx="0.45"/><rect x="568.5" y="119.5" width="1.8" height="1.8" rx="0.45"/><rect x="567.8" y="121.3" width="1.8" height="1.8" rx="0.45"/><rect x="567.8" y="124.1" width="1.8" height="1.8" rx="0.45"/><rect x="564.8" y="127.6" width="1.8" height="1.8" rx="0.45"/><rect x="563" y="131.4" width="1.8" height="1.8" rx="0.45"/><rect x="561.4" y="132.8" width="1.8" height="1.8" rx="0.45"/><rect x="559.9" y="134.7" width="1.8" height="1.8" rx="0.45"/><rect x="556.2" y="137.9" width="1.8" height="1.8" rx="0.45"/><rect x="555.3" y="141.2" width="1.8" height="1.8" rx="0.45"/><rect x="552.6" y="143.3" width="1.8" height="1.8" rx="0.45"/><rect x="548.7" y="144.2" width="1.8" height="1.8" rx="0.45"/><rect x="469.9" y="84.3" width="1.8" height="1.8" rx="0.45"/><rect x="470.9" y="82.3" width="1.8" height="1.8" rx="0.45"/><rect x="474.4" y="79.2" width="1.8" height="1.8" rx="0.45"/><rect x="474.5" y="76.2" width="1.8" height="1.8" rx="0.45"/><rect x="476.2" y="72.1" width="1.8" height="1.8" rx="0.45"/><rect x="480" y="70.6" width="1.8" height="1.8" rx="0.45"/><rect x="478.6" y="68.7" width="1.8" height="1.8" rx="0.45"/><rect x="483.5" y="66" width="1.8" height="1.8" rx="0.45"/><rect x="487" y="61.4" width="1.8" height="1.8" rx="0.45"/><rect x="490.4" y="59.8" width="1.8" height="1.8" rx="0.45"/><rect x="492" y="58.9" width="1.8" height="1.8" rx="0.45"/><rect x="496.3" y="57.1" width="1.8" height="1.8" rx="0.45"/><rect x="501.2" y="54.6" width="1.8" height="1.8" rx="0.45"/><rect x="502.5" y="54.6" width="1.8" height="1.8" rx="0.45"/><rect x="506.9" y="51.6" width="1.8" height="1.8" rx="0.45"/><rect x="508.1" y="50.6" width="1.8" height="1.8" rx="0.45"/><rect x="512.2" y="50.5" width="1.8" height="1.8" rx="0.45"/><rect x="515.8" y="51.8" width="1.8" height="1.8" rx="0.45"/><rect x="518" y="51.8" width="1.8" height="1.8" rx="0.45"/><rect x="522.1" y="50.4" width="1.8" height="1.8" rx="0.45"/><rect x="525.7" y="51.1" width="1.8" height="1.8" rx="0.45"/><rect x="529.4" y="50.9" width="1.8" height="1.8" rx="0.45"/><rect x="531.5" y="53" width="1.8" height="1.8" rx="0.45"/><rect x="535.4" y="53.3" width="1.8" height="1.8" rx="0.45"/><rect x="538.4" y="54.8" width="1.8" height="1.8" rx="0.45"/><rect x="541.6" y="55.1" width="1.8" height="1.8" rx="0.45"/><rect x="546" y="58.2" width="1.8" height="1.8" rx="0.45"/><rect x="548" y="60.9" width="1.8" height="1.8" rx="0.45"/><rect x="551.4" y="61.1" width="1.8" height="1.8" rx="0.45"/><rect x="554.2" y="64.8" width="1.8" height="1.8" rx="0.45"/><rect x="556.5" y="65.9" width="1.8" height="1.8" rx="0.45"/><rect x="556.4" y="67.6" width="1.8" height="1.8" rx="0.45"/><rect x="560.1" y="70.4" width="1.8" height="1.8" rx="0.45"/><rect x="559.5" y="73.1" width="1.8" height="1.8" rx="0.45"/><rect x="561.8" y="76.8" width="1.8" height="1.8" rx="0.45"/><rect x="563" y="78.4" width="1.8" height="1.8" rx="0.45"/><rect x="566.6" y="81.3" width="1.8" height="1.8" rx="0.45"/><rect x="565.7" y="83.7" width="1.8" height="1.8" rx="0.45"/><rect x="568.5" y="87.7" width="1.8" height="1.8" rx="0.45"/><rect x="567.9" y="91.1" width="1.8" height="1.8" rx="0.45"/><rect x="568.9" y="93.2" width="1.8" height="1.8" rx="0.45"/><rect x="569.3" y="96.8" width="1.8" height="1.8" rx="0.45"/><rect x="570.4" y="103.3" width="1.8" height="1.8" rx="0.45"/><rect x="570.6" y="106.9" width="1.8" height="1.8" rx="0.45"/><rect x="567.8" y="108.7" width="1.8" height="1.8" rx="0.45"/><rect x="568.6" y="112.6" width="1.8" height="1.8" rx="0.45"/><rect x="567.2" y="114.2" width="1.8" height="1.8" rx="0.45"/><rect x="566.3" y="119.2" width="1.8" height="1.8" rx="0.45"/><rect x="563.8" y="124.9" width="1.8" height="1.8" rx="0.45"/><rect x="563.3" y="126.7" width="1.8" height="1.8" rx="0.45"/><rect x="561.6" y="130.5" width="1.8" height="1.8" rx="0.45"/><rect x="559" y="131.3" width="1.8" height="1.8" rx="0.45"/><rect x="557.6" y="135.9" width="1.8" height="1.8" rx="0.45"/><rect x="555.2" y="138.2" width="1.8" height="1.8" rx="0.45"/><rect x="549.8" y="140.5" width="1.8" height="1.8" rx="0.45"/><rect x="549" y="142.8" width="1.8" height="1.8" rx="0.45"/><rect x="545.9" y="143.5" width="1.8" height="1.8" rx="0.45"/><rect x="541.9" y="145.8" width="1.8" height="1.8" rx="0.45"/><rect x="540.7" y="147.7" width="1.8" height="1.8" rx="0.45"/><rect x="537.7" y="147.6" width="1.8" height="1.8" rx="0.45"/><rect x="531.2" y="149.7" width="1.8" height="1.8" rx="0.45"/><rect x="527.4" y="150.2" width="1.8" height="1.8" rx="0.45"/><rect x="524.7" y="151.7" width="1.8" height="1.8" rx="0.45"/><rect x="520.5" y="151.8" width="1.8" height="1.8" rx="0.45"/><rect x="518.4" y="151.8" width="1.8" height="1.8" rx="0.45"/><rect x="514.9" y="152.4" width="1.8" height="1.8" rx="0.45"/><rect x="512.6" y="151.1" width="1.8" height="1.8" rx="0.45"/><rect x="510.8" y="152" width="1.8" height="1.8" rx="0.45"/><rect x="507.2" y="151.1" width="1.8" height="1.8" rx="0.45"/><rect x="504.6" y="150.2" width="1.8" height="1.8" rx="0.45"/><rect x="499.8" y="148" width="1.8" height="1.8" rx="0.45"/><rect x="498.8" y="146.8" width="1.8" height="1.8" rx="0.45"/><rect x="495.6" y="146.9" width="1.8" height="1.8" rx="0.45"/><rect x="493.3" y="144.2" width="1.8" height="1.8" rx="0.45"/><rect x="490.5" y="143.3" width="1.8" height="1.8" rx="0.45"/><rect x="487.3" y="141.9" width="1.8" height="1.8" rx="0.45"/><rect x="486" y="139.3" width="1.8" height="1.8" rx="0.45"/><rect x="483.7" y="137.1" width="1.8" height="1.8" rx="0.45"/><rect x="479.6" y="133.7" width="1.8" height="1.8" rx="0.45"/><rect x="479.6" y="132.9" width="1.8" height="1.8" rx="0.45"/><rect x="476.1" y="128.2" width="1.8" height="1.8" rx="0.45"/><rect x="475.5" y="128" width="1.8" height="1.8" rx="0.45"/><rect x="472.8" y="123.4" width="1.8" height="1.8" rx="0.45"/><rect x="472.5" y="119.6" width="1.8" height="1.8" rx="0.45"/><rect x="470.1" y="117.7" width="1.8" height="1.8" rx="0.45"/><rect x="470.6" y="116.2" width="1.8" height="1.8" rx="0.45"/><rect x="469.4" y="111.7" width="1.8" height="1.8" rx="0.45"/><rect x="469.4" y="110.4" width="1.8" height="1.8" rx="0.45"/><rect x="467.3" y="102.1" width="1.8" height="1.8" rx="0.45"/><rect x="469" y="100.4" width="1.8" height="1.8" rx="0.45"/><rect x="468.9" y="96.9" width="1.8" height="1.8" rx="0.45"/><rect x="469" y="92.5" width="1.8" height="1.8" rx="0.45"/><rect x="469.3" y="90.2" width="1.8" height="1.8" rx="0.45"/><rect x="473.7" y="85.7" width="1.8" height="1.8" rx="0.45"/><rect x="475.7" y="82.8" width="1.8" height="1.8" rx="0.45"/><rect x="477.1" y="79.7" width="1.8" height="1.8" rx="0.45"/><rect x="480.7" y="73.2" width="1.8" height="1.8" rx="0.45"/><rect x="480.8" y="71.7" width="1.8" height="1.8" rx="0.45"/><rect x="484.1" y="68.4" width="1.8" height="1.8" rx="0.45"/><rect x="485.2" y="67" width="1.8" height="1.8" rx="0.45"/><rect x="488.7" y="64.4" width="1.8" height="1.8" rx="0.45"/><rect x="491.1" y="61.4" width="1.8" height="1.8" rx="0.45"/><rect x="493.3" y="60.1" width="1.8" height="1.8" rx="0.45"/><rect x="496.7" y="57.9" width="1.8" height="1.8" rx="0.45"/><rect x="500.2" y="57.8" width="1.8" height="1.8" rx="0.45"/><rect x="503.2" y="57.1" width="1.8" height="1.8" rx="0.45"/><rect x="505.1" y="56.2" width="1.8" height="1.8" rx="0.45"/><rect x="508.4" y="54.5" width="1.8" height="1.8" rx="0.45"/><rect x="511.3" y="53.2" width="1.8" height="1.8" rx="0.45"/><rect x="514.6" y="52.5" width="1.8" height="1.8" rx="0.45"/><rect x="517.5" y="53.6" width="1.8" height="1.8" rx="0.45"/><rect x="520.5" y="53.8" width="1.8" height="1.8" rx="0.45"/><rect x="522.5" y="54.7" width="1.8" height="1.8" rx="0.45"/><rect x="525" y="55.3" width="1.8" height="1.8" rx="0.45"/><rect x="532.7" y="56.9" width="1.8" height="1.8" rx="0.45"/><rect x="534.3" y="56.1" width="1.8" height="1.8" rx="0.45"/><rect x="538.3" y="57.2" width="1.8" height="1.8" rx="0.45"/><rect x="541" y="58.4" width="1.8" height="1.8" rx="0.45"/><rect x="547.3" y="62" width="1.8" height="1.8" rx="0.45"/><rect x="548.5" y="63.5" width="1.8" height="1.8" rx="0.45"/><rect x="552.3" y="66" width="1.8" height="1.8" rx="0.45"/><rect x="554" y="67.4" width="1.8" height="1.8" rx="0.45"/><rect x="556.4" y="70.6" width="1.8" height="1.8" rx="0.45"/><rect x="556.9" y="74.7" width="1.8" height="1.8" rx="0.45"/><rect x="558.4" y="75.3" width="1.8" height="1.8" rx="0.45"/><rect x="560.8" y="77" width="1.8" height="1.8" rx="0.45"/><rect x="562.4" y="81.5" width="1.8" height="1.8" rx="0.45"/><rect x="564.1" y="85.1" width="1.8" height="1.8" rx="0.45"/><rect x="563.7" y="88.2" width="1.8" height="1.8" rx="0.45"/><rect x="564.5" y="89.8" width="1.8" height="1.8" rx="0.45"/><rect x="566.6" y="92.8" width="1.8" height="1.8" rx="0.45"/><rect x="567" y="97" width="1.8" height="1.8" rx="0.45"/><rect x="566" y="99" width="1.8" height="1.8" rx="0.45"/><rect x="567.8" y="103.7" width="1.8" height="1.8" rx="0.45"/><rect x="565.7" y="110" width="1.8" height="1.8" rx="0.45"/><rect x="564.5" y="112.5" width="1.8" height="1.8" rx="0.45"/><rect x="565.2" y="116.6" width="1.8" height="1.8" rx="0.45"/><rect x="564.6" y="117" width="1.8" height="1.8" rx="0.45"/><rect x="561.2" y="121.5" width="1.8" height="1.8" rx="0.45"/><rect x="562.3" y="123" width="1.8" height="1.8" rx="0.45"/><rect x="559.8" y="124.9" width="1.8" height="1.8" rx="0.45"/><rect x="557.9" y="129.5" width="1.8" height="1.8" rx="0.45"/><rect x="552.9" y="134.7" width="1.8" height="1.8" rx="0.45"/><rect x="552.2" y="136" width="1.8" height="1.8" rx="0.45"/><rect x="549.9" y="138.5" width="1.8" height="1.8" rx="0.45"/><rect x="547.8" y="140.3" width="1.8" height="1.8" rx="0.45"/><rect x="546" y="142" width="1.8" height="1.8" rx="0.45"/><rect x="541.6" y="142.8" width="1.8" height="1.8" rx="0.45"/><rect x="539.3" y="144.7" width="1.8" height="1.8" rx="0.45"/><rect x="533.9" y="145.6" width="1.8" height="1.8" rx="0.45"/><rect x="530.6" y="147.3" width="1.8" height="1.8" rx="0.45"/><rect x="526" y="149.1" width="1.8" height="1.8" rx="0.45"/><rect x="523.1" y="149.5" width="1.8" height="1.8" rx="0.45"/><rect x="520.4" y="149.8" width="1.8" height="1.8" rx="0.45"/><rect x="516.8" y="149.5" width="1.8" height="1.8" rx="0.45"/><rect x="515.1" y="149.5" width="1.8" height="1.8" rx="0.45"/><rect x="511.1" y="149.6" width="1.8" height="1.8" rx="0.45"/><rect x="505.7" y="148.1" width="1.8" height="1.8" rx="0.45"/><rect x="502.4" y="145.6" width="1.8" height="1.8" rx="0.45"/><rect x="498.3" y="145" width="1.8" height="1.8" rx="0.45"/><rect x="497.8" y="143.7" width="1.8" height="1.8" rx="0.45"/><rect x="494.5" y="142.7" width="1.8" height="1.8" rx="0.45"/><rect x="491.1" y="140.6" width="1.8" height="1.8" rx="0.45"/><rect x="486.2" y="137" width="1.8" height="1.8" rx="0.45"/><rect x="484.3" y="135.2" width="1.8" height="1.8" rx="0.45"/><rect x="483.4" y="132.7" width="1.8" height="1.8" rx="0.45"/><rect x="480.3" y="130.5" width="1.8" height="1.8" rx="0.45"/><rect x="477.5" y="126.1" width="1.8" height="1.8" rx="0.45"/><rect x="476.6" y="124.4" width="1.8" height="1.8" rx="0.45"/><rect x="476.3" y="122.4" width="1.8" height="1.8" rx="0.45"/><rect x="474.5" y="118.9" width="1.8" height="1.8" rx="0.45"/><rect x="472.7" y="111.2" width="1.8" height="1.8" rx="0.45"/><rect x="471" y="110.1" width="1.8" height="1.8" rx="0.45"/><rect x="472" y="105.6" width="1.8" height="1.8" rx="0.45"/><rect x="470.6" y="102.7" width="1.8" height="1.8" rx="0.45"/><rect x="471.3" y="96.1" width="1.8" height="1.8" rx="0.45"/><rect x="472.5" y="93.8" width="1.8" height="1.8" rx="0.45"/><rect x="472.5" y="90" width="1.8" height="1.8" rx="0.45"/><rect x="541.3" y="140.2" width="1.8" height="1.8" rx="0.45"/><rect x="539.3" y="142.2" width="1.8" height="1.8" rx="0.45"/><rect x="535" y="142" width="1.8" height="1.8" rx="0.45"/><rect x="533.3" y="142.4" width="1.8" height="1.8" rx="0.45"/><rect x="530.7" y="143.9" width="1.8" height="1.8" rx="0.45"/><rect x="526.8" y="146" width="1.8" height="1.8" rx="0.45"/><rect x="524.9" y="146.1" width="1.8" height="1.8" rx="0.45"/><rect x="520" y="147.1" width="1.8" height="1.8" rx="0.45"/><rect x="518.2" y="145.5" width="1.8" height="1.8" rx="0.45"/><rect x="515" y="144.7" width="1.8" height="1.8" rx="0.45"/><rect x="510.8" y="146" width="1.8" height="1.8" rx="0.45"/><rect x="507.1" y="145.1" width="1.8" height="1.8" rx="0.45"/><rect x="505.3" y="142.6" width="1.8" height="1.8" rx="0.45"/><rect x="502.1" y="142" width="1.8" height="1.8" rx="0.45"/><rect x="499.8" y="142.5" width="1.8" height="1.8" rx="0.45"/><rect x="495.6" y="140.6" width="1.8" height="1.8" rx="0.45"/><rect x="494.6" y="138.3" width="1.8" height="1.8" rx="0.45"/><rect x="486.2" y="133.5" width="1.8" height="1.8" rx="0.45"/><rect x="481.8" y="128" width="1.8" height="1.8" rx="0.45"/><rect x="480.6" y="125.7" width="1.8" height="1.8" rx="0.45"/><rect x="480.5" y="122.6" width="1.8" height="1.8" rx="0.45"/><rect x="478.8" y="118.7" width="1.8" height="1.8" rx="0.45"/><rect x="477.4" y="115.5" width="1.8" height="1.8" rx="0.45"/><rect x="474.9" y="114.2" width="1.8" height="1.8" rx="0.45"/><rect x="474.3" y="111.2" width="1.8" height="1.8" rx="0.45"/><rect x="474.1" y="108.9" width="1.8" height="1.8" rx="0.45"/><rect x="473.1" y="103.6" width="1.8" height="1.8" rx="0.45"/><rect x="475" y="101.9" width="1.8" height="1.8" rx="0.45"/><rect x="475.2" y="99.4" width="1.8" height="1.8" rx="0.45"/><rect x="474.3" y="96.6" width="1.8" height="1.8" rx="0.45"/><rect x="475.2" y="91.8" width="1.8" height="1.8" rx="0.45"/><rect x="476.8" y="90.2" width="1.8" height="1.8" rx="0.45"/><rect x="475.5" y="86.6" width="1.8" height="1.8" rx="0.45"/><rect x="477.5" y="82.7" width="1.8" height="1.8" rx="0.45"/><rect x="479.6" y="80.9" width="1.8" height="1.8" rx="0.45"/><rect x="480.8" y="78.4" width="1.8" height="1.8" rx="0.45"/><rect x="481.8" y="76.4" width="1.8" height="1.8" rx="0.45"/><rect x="485.2" y="72" width="1.8" height="1.8" rx="0.45"/><rect x="485.9" y="70.7" width="1.8" height="1.8" rx="0.45"/><rect x="489.5" y="67.6" width="1.8" height="1.8" rx="0.45"/><rect x="492.2" y="67.2" width="1.8" height="1.8" rx="0.45"/><rect x="492.9" y="64.5" width="1.8" height="1.8" rx="0.45"/><rect x="497" y="63.6" width="1.8" height="1.8" rx="0.45"/><rect x="502.8" y="60.2" width="1.8" height="1.8" rx="0.45"/><rect x="505.2" y="57.7" width="1.8" height="1.8" rx="0.45"/><rect x="508.1" y="57.5" width="1.8" height="1.8" rx="0.45"/><rect x="510.4" y="57.8" width="1.8" height="1.8" rx="0.45"/><rect x="513.2" y="57.3" width="1.8" height="1.8" rx="0.45"/><rect x="517.9" y="57.6" width="1.8" height="1.8" rx="0.45"/><rect x="519.3" y="57.8" width="1.8" height="1.8" rx="0.45"/><rect x="523.6" y="56.8" width="1.8" height="1.8" rx="0.45"/><rect x="525.4" y="57.3" width="1.8" height="1.8" rx="0.45"/><rect x="528.9" y="57" width="1.8" height="1.8" rx="0.45"/><rect x="531.3" y="59.9" width="1.8" height="1.8" rx="0.45"/><rect x="535.3" y="60.9" width="1.8" height="1.8" rx="0.45"/><rect x="538" y="62.1" width="1.8" height="1.8" rx="0.45"/><rect x="541.4" y="63.6" width="1.8" height="1.8" rx="0.45"/><rect x="542.4" y="64.2" width="1.8" height="1.8" rx="0.45"/><rect x="546.6" y="67.3" width="1.8" height="1.8" rx="0.45"/><rect x="548.3" y="67" width="1.8" height="1.8" rx="0.45"/><rect x="551" y="71.2" width="1.8" height="1.8" rx="0.45"/><rect x="552.9" y="73.7" width="1.8" height="1.8" rx="0.45"/><rect x="555" y="75.2" width="1.8" height="1.8" rx="0.45"/><rect x="556.2" y="78.2" width="1.8" height="1.8" rx="0.45"/><rect x="557.6" y="79" width="1.8" height="1.8" rx="0.45"/><rect x="558.8" y="84.1" width="1.8" height="1.8" rx="0.45"/><rect x="560.5" y="85.8" width="1.8" height="1.8" rx="0.45"/><rect x="561.4" y="89" width="1.8" height="1.8" rx="0.45"/><rect x="563" y="90.7" width="1.8" height="1.8" rx="0.45"/><rect x="562.6" y="93.7" width="1.8" height="1.8" rx="0.45"/><rect x="563.1" y="99.3" width="1.8" height="1.8" rx="0.45"/><rect x="562.7" y="102.3" width="1.8" height="1.8" rx="0.45"/><rect x="563.4" y="107.3" width="1.8" height="1.8" rx="0.45"/><rect x="561.1" y="113.9" width="1.8" height="1.8" rx="0.45"/><rect x="560.4" y="116.8" width="1.8" height="1.8" rx="0.45"/><rect x="560.3" y="119.5" width="1.8" height="1.8" rx="0.45"/><rect x="558.3" y="123.6" width="1.8" height="1.8" rx="0.45"/><rect x="556.9" y="124.9" width="1.8" height="1.8" rx="0.45"/><rect x="556.4" y="127" width="1.8" height="1.8" rx="0.45"/><rect x="553.3" y="130.9" width="1.8" height="1.8" rx="0.45"/><rect x="550" y="133" width="1.8" height="1.8" rx="0.45"/><rect x="549.4" y="133.3" width="1.8" height="1.8" rx="0.45"/><rect x="545.8" y="136.9" width="1.8" height="1.8" rx="0.45"/><rect x="544.4" y="138.3" width="1.8" height="1.8" rx="0.45"/><rect x="529.4" y="61.9" width="1.8" height="1.8" rx="0.45"/><rect x="537.7" y="64.8" width="1.8" height="1.8" rx="0.45"/><rect x="543.9" y="70.6" width="1.8" height="1.8" rx="0.45"/><rect x="551.1" y="76.4" width="1.8" height="1.8" rx="0.45"/><rect x="558.5" y="91.9" width="1.8" height="1.8" rx="0.45"/><rect x="558.5" y="101.4" width="1.8" height="1.8" rx="0.45"/><rect x="560.4" y="105.6" width="1.8" height="1.8" rx="0.45"/><rect x="558.1" y="109.1" width="1.8" height="1.8" rx="0.45"/><rect x="558" y="112.6" width="1.8" height="1.8" rx="0.45"/><rect x="556.4" y="118.4" width="1.8" height="1.8" rx="0.45"/><rect x="550.1" y="127.9" width="1.8" height="1.8" rx="0.45"/><rect x="543.2" y="133.1" width="1.8" height="1.8" rx="0.45"/><rect x="540.7" y="137" width="1.8" height="1.8" rx="0.45"/><rect x="531.9" y="139.6" width="1.8" height="1.8" rx="0.45"/><rect x="523.2" y="141.3" width="1.8" height="1.8" rx="0.45"/><rect x="519.7" y="140.8" width="1.8" height="1.8" rx="0.45"/><rect x="516" y="141.8" width="1.8" height="1.8" rx="0.45"/><rect x="510.2" y="141.9" width="1.8" height="1.8" rx="0.45"/><rect x="506.7" y="139.1" width="1.8" height="1.8" rx="0.45"/><rect x="503" y="139.7" width="1.8" height="1.8" rx="0.45"/><rect x="486.6" y="125.7" width="1.8" height="1.8" rx="0.45"/><rect x="483" y="118.2" width="1.8" height="1.8" rx="0.45"/><rect x="480.9" y="115.1" width="1.8" height="1.8" rx="0.45"/><rect x="477.8" y="107.3" width="1.8" height="1.8" rx="0.45"/><rect x="478.5" y="97.9" width="1.8" height="1.8" rx="0.45"/><rect x="480.1" y="94.2" width="1.8" height="1.8" rx="0.45"/><rect x="479.3" y="89.8" width="1.8" height="1.8" rx="0.45"/><rect x="481" y="85.9" width="1.8" height="1.8" rx="0.45"/><rect x="484.8" y="78.8" width="1.8" height="1.8" rx="0.45"/><rect x="487.6" y="74.1" width="1.8" height="1.8" rx="0.45"/><rect x="492.3" y="71.7" width="1.8" height="1.8" rx="0.45"/><rect x="494.3" y="69.6" width="1.8" height="1.8" rx="0.45"/><rect x="498" y="65.3" width="1.8" height="1.8" rx="0.45"/><rect x="501.4" y="65.9" width="1.8" height="1.8" rx="0.45"/><rect x="510.2" y="63" width="1.8" height="1.8" rx="0.45"/><rect x="517.5" y="62.1" width="1.8" height="1.8" rx="0.45"/><rect x="521.1" y="60.1" width="1.8" height="1.8" rx="0.45"/><rect x="526.8" y="60.6" width="1.8" height="1.8" rx="0.45"/><rect x="540.8" y="129.7" width="1.8" height="1.8" rx="0.45"/><rect x="538" y="133.2" width="1.8" height="1.8" rx="0.45"/><rect x="533.5" y="135.6" width="1.8" height="1.8" rx="0.45"/><rect x="486.8" y="117.9" width="1.8" height="1.8" rx="0.45"/><rect x="484.2" y="113.5" width="1.8" height="1.8" rx="0.45"/><rect x="483.3" y="105" width="1.8" height="1.8" rx="0.45"/><rect x="482.6" y="97.4" width="1.8" height="1.8" rx="0.45"/><rect x="484.4" y="93.1" width="1.8" height="1.8" rx="0.45"/><rect x="484.1" y="87.9" width="1.8" height="1.8" rx="0.45"/><rect x="491.2" y="77.6" width="1.8" height="1.8" rx="0.45"/><rect x="494.9" y="76.1" width="1.8" height="1.8" rx="0.45"/><rect x="498.7" y="70.9" width="1.8" height="1.8" rx="0.45"/><rect x="501" y="70" width="1.8" height="1.8" rx="0.45"/><rect x="508.8" y="66.8" width="1.8" height="1.8" rx="0.45"/><rect x="513.6" y="66.5" width="1.8" height="1.8" rx="0.45"/><rect x="530" y="66.6" width="1.8" height="1.8" rx="0.45"/><rect x="534.7" y="69.6" width="1.8" height="1.8" rx="0.45"/><rect x="554.5" y="108.2" width="1.8" height="1.8" rx="0.45"/><rect x="550.2" y="116.8" width="1.8" height="1.8" rx="0.45"/><rect x="548.9" y="120.9" width="1.8" height="1.8" rx="0.45"/><rect x="486.7" y="103.1" width="1.8" height="1.8" rx="0.45"/><rect x="487.2" y="98.6" width="1.8" height="1.8" rx="0.45"/><rect x="490.8" y="86.1" width="1.8" height="1.8" rx="0.45"/><rect x="492.5" y="82.2" width="1.8" height="1.8" rx="0.45"/><rect x="498.6" y="75.9" width="1.8" height="1.8" rx="0.45"/><rect x="503.3" y="74.8" width="1.8" height="1.8" rx="0.45"/><rect x="507" y="70.9" width="1.8" height="1.8" rx="0.45"/><rect x="511.4" y="69.7" width="1.8" height="1.8" rx="0.45"/><rect x="514.6" y="69.9" width="1.8" height="1.8" rx="0.45"/><rect x="519.7" y="69.8" width="1.8" height="1.8" rx="0.45"/><rect x="524.2" y="69.7" width="1.8" height="1.8" rx="0.45"/><rect x="530.5" y="72.6" width="1.8" height="1.8" rx="0.45"/><rect x="546.8" y="115.4" width="1.8" height="1.8" rx="0.45"/><rect x="544.3" y="118.7" width="1.8" height="1.8" rx="0.45"/><rect x="542.9" y="123.2" width="1.8" height="1.8" rx="0.45"/><rect x="539.6" y="124.5" width="1.8" height="1.8" rx="0.45"/><rect x="533.1" y="128.6" width="1.8" height="1.8" rx="0.45"/><rect x="487.9" y="107" width="1.8" height="1.8" rx="0.45"/><rect x="536.8" y="121.3" width="1.8" height="1.8" rx="0.45"/><rect x="533.9" y="124.7" width="1.8" height="1.8" rx="0.45"/><rect x="530.1" y="124.2" width="1.8" height="1.8" rx="0.45"/><rect x="526.4" y="125.6" width="1.8" height="1.8" rx="0.45"/><rect x="492.7" y="103" width="1.8" height="1.8" rx="0.45"/><rect x="493.4" y="99.1" width="1.8" height="1.8" rx="0.45"/><rect x="493" y="95.1" width="1.8" height="1.8" rx="0.45"/><rect x="494.7" y="91.9" width="1.8" height="1.8" rx="0.45"/><rect x="498.3" y="83.8" width="1.8" height="1.8" rx="0.45"/><rect x="503.2" y="81" width="1.8" height="1.8" rx="0.45"/><rect x="506" y="78.3" width="1.8" height="1.8" rx="0.45"/><rect x="514" y="75.5" width="1.8" height="1.8" rx="0.45"/><rect x="517.2" y="75.2" width="1.8" height="1.8" rx="0.45"/><rect x="521.9" y="73.9" width="1.8" height="1.8" rx="0.45"/><rect x="526.4" y="75.2" width="1.8" height="1.8" rx="0.45"/><rect x="530.7" y="119.7" width="1.8" height="1.8" rx="0.45"/><rect x="526.9" y="122.4" width="1.8" height="1.8" rx="0.45"/><rect x="496.6" y="104.9" width="1.8" height="1.8" rx="0.45"/><rect x="496.4" y="101.1" width="1.8" height="1.8" rx="0.45"/><rect x="497.9" y="97" width="1.8" height="1.8" rx="0.45"/><rect x="500.1" y="92.9" width="1.8" height="1.8" rx="0.45"/><rect x="502.1" y="89.1" width="1.8" height="1.8" rx="0.45"/><rect x="504.3" y="85.3" width="1.8" height="1.8" rx="0.45"/><rect x="508.1" y="84.2" width="1.8" height="1.8" rx="0.45"/><rect x="511.3" y="80.1" width="1.8" height="1.8" rx="0.45"/><rect x="515.7" y="79.3" width="1.8" height="1.8" rx="0.45"/><rect x="518.9" y="80.8" width="1.8" height="1.8" rx="0.45"/><rect x="527.5" y="114.3" width="1.8" height="1.8" rx="0.45"/><rect x="502.8" y="100.5" width="1.8" height="1.8" rx="0.45"/><rect x="508.5" y="88.5" width="1.8" height="1.8" rx="0.45"/><rect x="516.6" y="85.5" width="1.8" height="1.8" rx="0.45"/><rect x="508.7" y="101.9" width="1.8" height="1.8" rx="0.45"/><rect x="512.7" y="95" width="1.8" height="1.8" rx="0.45"/><rect x="515.9" y="91.5" width="1.8" height="1.8" rx="0.45"/></g>
<path d="M486,60.5L495.7,62.9M486,60.5L493.2,72.9M486,60.5L504.8,72.9M486,60.5L489.5,66M495.7,62.9L493.2,72.9M495.7,62.9L504.8,72.9M495.7,62.9L489.5,66M493.2,72.9L504.8,72.9M493.2,72.9L489.5,66M504.8,72.9L489.5,66" stroke="#b0b0b0" stroke-width="0.35" fill="none"/>
<g fill="#5f9a35"><circle cx="486" cy="60.5" r="1.1"/><circle cx="495.7" cy="62.9" r="1.1"/><circle cx="493.2" cy="72.9" r="1.1"/><circle cx="504.8" cy="72.9" r="1.1"/></g>
<path d="M539.8,98.2L531,103.4M539.8,98.2L544.3,97.9M539.8,98.2L527.4,82.9M539.8,98.2L546.4,81.3M539.8,98.2L541.3,112.3M539.8,98.2L538.1,106.7M539.8,98.2L535.5,103.8M539.8,98.2L552.3,108.8M539.8,98.2L553.8,105.9M539.8,98.2L533.8,78.3M539.8,98.2L550.3,106.8M539.8,98.2L543.1,110.2M539.8,98.2L523.5,101.2M539.8,98.2L543.3,99M539.8,98.2L528.1,87.5M539.8,98.2L535.1,88.7M539.8,98.2L529.1,108.5M539.8,98.2L530.4,88.4M539.8,98.2L545.2,95.8M539.8,98.2L546.9,87.8M539.8,98.2L548.4,100.8M539.8,98.2L542.4,110.9M539.8,98.2L551.6,100.2M539.8,98.2L531.3,82.7M539.8,98.2L531.4,88.8M539.8,98.2L527.5,107M539.8,98.2L535.7,114.2M539.8,98.2L543.8,109.5M539.8,98.2L550.6,84.9M539.8,98.2L537.4,108.8M539.8,98.2L536.2,113.5M539.8,98.2L528.7,109.9M539.8,98.2L533.9,77.2M539.8,98.2L529.4,93.1M539.8,98.2L534.6,81.9M539.8,98.2L550.7,100.1M539.8,98.2L541.8,102.8M539.8,98.2L537.5,115.9M539.8,98.2L533.4,82.7M539.8,98.2L529.3,88.5M539.8,98.2L530.2,90.8M539.8,98.2L548.7,80.5M539.8,98.2L526.8,100.9M539.8,98.2L528.6,108.8M539.8,98.2L547.7,78M539.8,98.2L552.1,107.9M539.8,98.2L540.6,104.2M539.8,98.2L527.1,104.3M539.8,98.2L549.8,106.8M539.8,98.2L554.2,91.6M539.8,98.2L543,86.6M539.8,98.2L534.3,105.4M539.8,98.2L528.1,109.9M539.8,98.2L549,95.1M539.8,98.2L526.5,89M539.8,98.2L551.1,92.8M539.8,98.2L544.5,101.3M539.8,98.2L546.8,107.4M539.8,98.2L551.4,105.1M539.8,98.2L541.3,102.2M539.8,98.2L536.9,80.7M539.8,98.2L539.7,79M539.8,98.2L534.4,100.8M539.8,98.2L547.9,81.4M539.8,98.2L538.7,103.7M539.8,98.2L527.8,80.6M539.8,98.2L538.5,75.2M539.8,98.2L546.8,95M539.8,98.2L544.1,109.1M539.8,98.2L548.7,105.2M539.8,98.2L543.1,84.5M539.8,98.2L543.2,84.7M539.8,98.2L564,98 L570,88 M539.8,98.2L572,92 L566,99 M539.8,98.2L560,106" stroke="#222" stroke-opacity="0.8" stroke-width="0.35" fill="none"/>
<path d="M533.5,95L531,103.4M541,92L531,103.4M538,87L531,103.4M533.5,95L544.3,97.9M533.5,95L527.4,82.9M536.5,90L546.4,81.3M533.5,95L541.3,112.3M541,92L538.1,106.7M533.5,95L535.5,103.8M538,87L535.5,103.8M536.5,90L553.8,105.9M538,87L553.8,105.9M536.5,90L533.8,78.3M541,92L533.8,78.3M538,87L533.8,78.3M533.5,95L550.3,106.8M538,87L550.3,106.8M541,92L543.1,110.2M541,92L523.5,101.2M536.5,90L543.3,99M538,87L543.3,99M533.5,95L528.1,87.5M538,87L528.1,87.5M541,92L535.1,88.7M538,87L535.1,88.7M533.5,95L529.1,108.5M541,92L529.1,108.5M538,87L529.1,108.5M536.5,90L530.4,88.4M541,92L530.4,88.4M536.5,90L545.2,95.8M536.5,90L546.9,87.8M533.5,95L548.4,100.8M541,92L548.4,100.8M536.5,90L542.4,110.9M533.5,95L542.4,110.9M538,87L542.4,110.9M536.5,90L551.6,100.2M533.5,95L551.6,100.2M541,92L551.6,100.2M541,92L531.4,88.8M538,87L531.4,88.8M536.5,90L527.5,107M536.5,90L535.7,114.2M541,92L535.7,114.2M536.5,90L543.8,109.5M541,92L550.6,84.9M536.5,90L536.2,113.5M533.5,95L536.2,113.5M538,87L536.2,113.5M536.5,90L528.7,109.9M541,92L528.7,109.9M536.5,90L533.9,77.2M541,92L529.4,93.1M541,92L550.7,100.1M538,87L550.7,100.1M536.5,90L541.8,102.8M538,87L541.8,102.8M536.5,90L537.5,115.9M541,92L537.5,115.9M533.5,95L533.4,82.7M541,92L533.4,82.7M533.5,95L548.7,80.5M541,92L548.7,80.5M533.5,95L526.8,100.9M538,87L528.6,108.8M536.5,90L547.7,78M541,92L552.1,107.9M538,87L540.6,104.2M533.5,95L527.1,104.3M541,92L527.1,104.3M538,87L527.1,104.3M533.5,95L554.2,91.6M541,92L554.2,91.6M536.5,90L543,86.6M533.5,95L543,86.6M541,92L543,86.6M538,87L543,86.6M536.5,90L534.3,105.4M533.5,95L534.3,105.4M536.5,90L528.1,109.9M538,87L528.1,109.9M536.5,90L549,95.1M541,92L549,95.1M536.5,90L551.1,92.8M533.5,95L544.5,101.3M536.5,90L546.8,107.4M533.5,95L546.8,107.4M541,92L546.8,107.4M538,87L546.8,107.4M541,92L551.4,105.1M533.5,95L541.3,102.2M541,92L541.3,102.2M536.5,90L539.7,79M533.5,95L539.7,79M536.5,90L534.4,100.8M541,92L547.9,81.4M538,87L547.9,81.4M533.5,95L527.8,80.6M541,92L527.8,80.6M536.5,90L538.5,75.2M533.5,95L546.8,95M538,87L544.1,109.1M533.5,95L548.7,105.2M533.5,95L543.2,84.7M538,87L543.2,84.7" stroke="#333" stroke-opacity="0.55" stroke-width="0.3" fill="none"/>
<path d="M539.8,98.2L536.5,90M539.8,98.2L533.5,95M539.8,98.2L541,92M539.8,98.2L538,87M536.5,90L533.5,95M536.5,90L541,92M536.5,90L538,87M533.5,95L541,92M533.5,95L538,87M541,92L538,87" stroke="#111" stroke-width="0.7" fill="none"/>
<g fill="#c25a62"><circle cx="531" cy="103.4" r="1.05"/><circle cx="544.3" cy="97.9" r="1.05"/><circle cx="527.4" cy="82.9" r="1.05"/><circle cx="546.4" cy="81.3" r="1.05"/><circle cx="541.3" cy="112.3" r="1.05"/><circle cx="538.1" cy="106.7" r="1.05"/><circle cx="535.5" cy="103.8" r="1.05"/><circle cx="552.3" cy="108.8" r="1.05"/><circle cx="553.8" cy="105.9" r="1.05"/><circle cx="533.8" cy="78.3" r="1.05"/><circle cx="550.3" cy="106.8" r="1.05"/><circle cx="543.1" cy="110.2" r="1.05"/><circle cx="523.5" cy="101.2" r="1.05"/><circle cx="543.3" cy="99" r="1.05"/><circle cx="528.1" cy="87.5" r="1.05"/><circle cx="535.1" cy="88.7" r="1.05"/><circle cx="529.1" cy="108.5" r="1.05"/><circle cx="530.4" cy="88.4" r="1.05"/><circle cx="545.2" cy="95.8" r="1.05"/><circle cx="546.9" cy="87.8" r="1.05"/><circle cx="548.4" cy="100.8" r="1.05"/><circle cx="542.4" cy="110.9" r="1.05"/><circle cx="551.6" cy="100.2" r="1.05"/><circle cx="531.3" cy="82.7" r="1.05"/><circle cx="531.4" cy="88.8" r="1.05"/><circle cx="527.5" cy="107" r="1.05"/><circle cx="535.7" cy="114.2" r="1.05"/><circle cx="543.8" cy="109.5" r="1.05"/><circle cx="550.6" cy="84.9" r="1.05"/><circle cx="537.4" cy="108.8" r="1.05"/><circle cx="536.2" cy="113.5" r="1.05"/><circle cx="528.7" cy="109.9" r="1.05"/><circle cx="533.9" cy="77.2" r="1.05"/><circle cx="529.4" cy="93.1" r="1.05"/><circle cx="534.6" cy="81.9" r="1.05"/><circle cx="550.7" cy="100.1" r="1.05"/><circle cx="541.8" cy="102.8" r="1.05"/><circle cx="537.5" cy="115.9" r="1.05"/><circle cx="533.4" cy="82.7" r="1.05"/><circle cx="529.3" cy="88.5" r="1.05"/><circle cx="530.2" cy="90.8" r="1.05"/><circle cx="548.7" cy="80.5" r="1.05"/><circle cx="526.8" cy="100.9" r="1.05"/><circle cx="528.6" cy="108.8" r="1.05"/><circle cx="547.7" cy="78" r="1.05"/><circle cx="552.1" cy="107.9" r="1.05"/><circle cx="540.6" cy="104.2" r="1.05"/><circle cx="527.1" cy="104.3" r="1.05"/><circle cx="549.8" cy="106.8" r="1.05"/><circle cx="554.2" cy="91.6" r="1.05"/><circle cx="543" cy="86.6" r="1.05"/><circle cx="534.3" cy="105.4" r="1.05"/><circle cx="528.1" cy="109.9" r="1.05"/><circle cx="549" cy="95.1" r="1.05"/><circle cx="526.5" cy="89" r="1.05"/><circle cx="551.1" cy="92.8" r="1.05"/><circle cx="544.5" cy="101.3" r="1.05"/><circle cx="546.8" cy="107.4" r="1.05"/><circle cx="551.4" cy="105.1" r="1.05"/><circle cx="541.3" cy="102.2" r="1.05"/><circle cx="536.9" cy="80.7" r="1.05"/><circle cx="539.7" cy="79" r="1.05"/><circle cx="534.4" cy="100.8" r="1.05"/><circle cx="547.9" cy="81.4" r="1.05"/><circle cx="538.7" cy="103.7" r="1.05"/><circle cx="527.8" cy="80.6" r="1.05"/><circle cx="538.5" cy="75.2" r="1.05"/><circle cx="546.8" cy="95" r="1.05"/><circle cx="544.1" cy="109.1" r="1.05"/><circle cx="548.7" cy="105.2" r="1.05"/><circle cx="543.1" cy="84.5" r="1.05"/><circle cx="543.2" cy="84.7" r="1.05"/></g>
<path d="M505.7,108L498,112.8M505.7,108L491.3,120M505.7,108L495.6,122.9M505.7,108L508.9,118.6M505.7,108L514.4,116.9M505.7,108L525,121M505.7,108L507.7,125.8M505.7,108L512.9,127.7M505.7,108L518.5,125.3M505.7,108L515.3,137.3M505.7,108L504.1,122.9M498,112.8L491.3,120M498,112.8L495.6,122.9M498,112.8L514.4,116.9M498,112.8L522.1,117.6M498,112.8L525,121M498,112.8L507.7,125.8M498,112.8L518.5,125.3M498,112.8L522.1,131.3M498,112.8L520.9,134.9M498,112.8L515.3,137.3M498,112.8L504.1,122.9M498,112.8L500.5,116.9M491.3,120L495.6,122.9M491.3,120L508.9,118.6M491.3,120L522.1,117.6M491.3,120L525,121M491.3,120L507.7,125.8M491.3,120L518.5,125.3M491.3,120L522.1,131.3M491.3,120L515.3,137.3M491.3,120L504.1,122.9M495.6,122.9L514.4,116.9M495.6,122.9L522.1,117.6M495.6,122.9L525,121M495.6,122.9L512.9,127.7M495.6,122.9L522.1,131.3M495.6,122.9L515.3,137.3M495.6,122.9L504.1,122.9M495.6,122.9L500.5,116.9M508.9,118.6L514.4,116.9M508.9,118.6L522.1,117.6M508.9,118.6L525,121M508.9,118.6L507.7,125.8M508.9,118.6L512.9,127.7M508.9,118.6L520.9,134.9M508.9,118.6L515.3,137.3M508.9,118.6L504.1,122.9M508.9,118.6L500.5,116.9M514.4,116.9L525,121M514.4,116.9L507.7,125.8M514.4,116.9L512.9,127.7M514.4,116.9L518.5,125.3M514.4,116.9L522.1,131.3M514.4,116.9L515.3,137.3M514.4,116.9L504.1,122.9M514.4,116.9L500.5,116.9M522.1,117.6L507.7,125.8M522.1,117.6L512.9,127.7M522.1,117.6L518.5,125.3M522.1,117.6L522.1,131.3M522.1,117.6L520.9,134.9M522.1,117.6L504.1,122.9M522.1,117.6L500.5,116.9M525,121L512.9,127.7M525,121L518.5,125.3M525,121L520.9,134.9M525,121L515.3,137.3M525,121L504.1,122.9M525,121L500.5,116.9M507.7,125.8L515.3,137.3M507.7,125.8L500.5,116.9M512.9,127.7L518.5,125.3M512.9,127.7L522.1,131.3M512.9,127.7L520.9,134.9M512.9,127.7L515.3,137.3M512.9,127.7L504.1,122.9M512.9,127.7L500.5,116.9M518.5,125.3L520.9,134.9M518.5,125.3L500.5,116.9M522.1,131.3L515.3,137.3M522.1,131.3L504.1,122.9M522.1,131.3L500.5,116.9M520.9,134.9L515.3,137.3M515.3,137.3L504.1,122.9M515.3,137.3L500.5,116.9M504.1,122.9L500.5,116.9" stroke="#1a1a1a" stroke-opacity="0.8" stroke-width="0.45" fill="none"/>
<g fill="#9a7a3a"><circle cx="505.7" cy="108" r="1.05"/><circle cx="498" cy="112.8" r="1.05"/><circle cx="491.3" cy="120" r="1.05"/><circle cx="495.6" cy="122.9" r="1.05"/><circle cx="508.9" cy="118.6" r="1.05"/><circle cx="514.4" cy="116.9" r="1.05"/><circle cx="522.1" cy="117.6" r="1.05"/><circle cx="525" cy="121" r="1.05"/><circle cx="507.7" cy="125.8" r="1.05"/><circle cx="512.9" cy="127.7" r="1.05"/><circle cx="518.5" cy="125.3" r="1.05"/><circle cx="522.1" cy="131.3" r="1.05"/><circle cx="520.9" cy="134.9" r="1.05"/><circle cx="515.3" cy="137.3" r="1.05"/><circle cx="504.1" cy="122.9" r="1.05"/><circle cx="500.5" cy="116.9" r="1.05"/></g>
<path d="M534.6,34 L507.2,101.3 M569.4,40.8 L544.4,76.1" stroke="#111" stroke-width="1.1" fill="none"/>
<text x="528" y="32.8" font-size="15" fill="#111">*2</text>
<text x="564.8" y="41.7" font-size="15" fill="#111">*1</text>
</g>
<g id="panel-c">
<rect x="154.6" y="213.40" width="44.0" height="7.13" fill="#d4d4d4"/>
<rect x="198.3" y="213.40" width="44.0" height="7.13" fill="#f9b64a"/>
<rect x="154.6" y="219.93" width="44.0" height="7.13" fill="#d4d4d4"/>
<rect x="198.3" y="219.93" width="44.0" height="7.13" fill="#86291c"/>
<rect x="154.6" y="226.46" width="44.0" height="7.13" fill="#fbd38d"/>
<rect x="198.3" y="226.46" width="44.0" height="7.13" fill="#d4d4d4"/>
<rect x="154.6" y="232.99" width="44.0" height="7.13" fill="#fbd38d"/>
<rect x="198.3" y="232.99" width="44.0" height="7.13" fill="#d4d4d4"/>
<rect x="154.6" y="239.52" width="44.0" height="7.13" fill="#fbd590"/>
<rect x="198.3" y="239.52" width="44.0" height="7.13" fill="#d4d4d4"/>
<rect x="154.6" y="246.05" width="44.0" height="7.13" fill="#fbdba0"/>
<rect x="198.3" y="246.05" width="44.0" height="7.13" fill="#d4d4d4"/>
<rect x="154.6" y="252.58" width="44.0" height="7.13" fill="#fa9f40"/>
<rect x="198.3" y="252.58" width="44.0" height="7.13" fill="#d4d4d4"/>
<rect x="154.6" y="259.11" width="44.0" height="7.13" fill="#fbd795"/>
<rect x="198.3" y="259.11" width="44.0" height="7.13" fill="#d4d4d4"/>
<rect x="154.6" y="265.64" width="44.0" height="7.13" fill="#fbf2cc"/>
<rect x="198.3" y="265.64" width="44.0" height="7.13" fill="#d4d4d4"/>
<rect x="154.6" y="272.17" width="44.0" height="6.53" fill="#fbf4d0"/>
<rect x="198.3" y="272.17" width="44.0" height="6.53" fill="#d4d4d4"/>
<path d="M176.2,213.2 V172.8 H220.2 V213.2" stroke="#2a2a2a" stroke-width="0.6" fill="none"/>
<path d="M140.4,220 H114 V260.5 H148.2 M154.6,216.7 H140.4 V223.4 H154.6 M148.2,250 V270.8 H153.6 M148.2,250 H149.4 M149.4,243.4 V256.6 H154.6 M149.4,243.4 H153.6 M153.6,229.9 V250 M153.6,262.7 V275.9" stroke="#4a4a4a" stroke-width="0.75" fill="none"/>
<text x="244.8" y="218.90" font-size="6.27" fill="#111" transform="rotate(0.03 244.8 218.90)">hsa05160: Hepatitis C</text>
<text x="244.8" y="225.43" font-size="6.27" fill="#111" transform="rotate(0.03 244.8 225.43)">M5913: HALLMARK INTERFERON GAMMA RESPONSE</text>
<text x="244.8" y="231.96" font-size="6.27" fill="#111" transform="rotate(0.03 244.8 231.96)">M5939: HALLMARK P53 PATHWAY</text>
<text x="244.8" y="238.49" font-size="6.27" fill="#111" transform="rotate(0.03 244.8 238.49)">M5906: HALLMARK ESTROGEN RESPONSE EARLY</text>
<text x="244.8" y="245.02" font-size="6.27" fill="#111" transform="rotate(0.03 244.8 245.02)">hsa04024: cAMP signaling pathway</text>
<text x="244.8" y="251.55" font-size="6.27" fill="#111" transform="rotate(0.03 244.8 251.55)">hsa04972: Pancreatic secretion</text>
<text x="244.8" y="258.08" font-size="6.27" fill="#111" transform="rotate(0.03 244.8 258.08)">M5890: HALLMARK TNFA SIGNALING VIA NFKB</text>
<text x="244.8" y="264.61" font-size="6.27" fill="#111" transform="rotate(0.03 244.8 264.61)">hsa04916: Melanogenesis</text>
<text x="244.8" y="271.14" font-size="6.27" fill="#111" transform="rotate(0.03 244.8 271.14)">M5932: HALLMARK INFLAMMATORY RESPONSE</text>
<text x="244.8" y="277.67" font-size="6.27" fill="#111" transform="rotate(0.03 244.8 277.67)">M5937: HALLMARK GLYCOLYSIS</text>
<text x="156.3" y="291.2" font-size="10.5" fill="#111">Module1</text>
<text x="199.3" y="291.2" font-size="10.5" fill="#111">Module2</text>
<rect x="243.3" y="180.4" width="41.7" height="10.9" fill="url(#lg)" stroke="#555" stroke-width="0.3"/>
<text x="264.5" y="178.6" font-size="3" text-anchor="middle" fill="#333">-log10(P)</text>
<text x="243.6" y="196.4" font-size="3" text-anchor="middle" fill="#333">0</text>
<text x="246.8" y="196.4" font-size="3" text-anchor="middle" fill="#333">2</text>
<text x="248.8" y="196.4" font-size="3" text-anchor="middle" fill="#333">3</text>
<text x="250.6" y="196.4" font-size="3" text-anchor="middle" fill="#333">4</text>
<text x="255.3" y="196.4" font-size="3" text-anchor="middle" fill="#333">6</text>
<text x="263.5" y="196.4" font-size="3" text-anchor="middle" fill="#333">10</text>
<text x="284.7" y="196.4" font-size="3" text-anchor="middle" fill="#333">20</text>
</g>
<g id="panel-d">
<rect x="151.1" y="323.5" width="259.4" height="318.1" fill="#fefeff"/>
<rect x="151.10" y="316.8" width="21.49" height="5.6" fill="#e1301f"/>
<rect x="171.99" y="316.8" width="20.98" height="5.6" fill="#e8481b"/>
<rect x="192.37" y="316.8" width="17.21" height="5.6" fill="#f57f20"/>
<rect x="208.98" y="316.8" width="16.62" height="5.6" fill="#f6a727"/>
<rect x="225.00" y="316.8" width="15.78" height="5.6" fill="#f1e143"/>
<rect x="240.18" y="316.8" width="14.94" height="5.6" fill="#c6dc33"/>
<rect x="254.53" y="316.8" width="13.94" height="5.6" fill="#9bce1f"/>
<rect x="267.87" y="316.8" width="12.85" height="5.6" fill="#7cc510"/>
<rect x="280.11" y="316.8" width="12.43" height="5.6" fill="#76c31c"/>
<rect x="291.94" y="316.8" width="11.97" height="5.6" fill="#7ecb4c"/>
<rect x="303.31" y="316.8" width="11.92" height="5.6" fill="#84d679"/>
<rect x="314.63" y="316.8" width="11.84" height="5.6" fill="#85dcc0"/>
<rect x="325.87" y="316.8" width="10.25" height="5.6" fill="#89d8e4"/>
<rect x="335.52" y="316.8" width="9.58" height="5.6" fill="#58b1dc"/>
<rect x="344.49" y="316.8" width="9.20" height="5.6" fill="#4281c4"/>
<rect x="353.09" y="316.8" width="8.18" height="5.6" fill="#3455ac"/>
<rect x="360.67" y="316.8" width="7.39" height="5.6" fill="#3748a5"/>
<rect x="367.47" y="316.8" width="7.14" height="5.6" fill="#4a44a8"/>
<rect x="374.01" y="316.8" width="5.55" height="5.6" fill="#7a3fb0"/>
<rect x="378.96" y="316.8" width="5.88" height="5.6" fill="#9a44b8"/>
<rect x="384.24" y="316.8" width="4.63" height="5.6" fill="#b94fb8"/>
<rect x="388.27" y="316.8" width="4.88" height="5.6" fill="#cf3fa4"/>
<rect x="392.55" y="316.8" width="13.60" height="5.6" fill="#e5287c"/>
<rect x="405.55" y="316.8" width="4.95" height="5.6" fill="#e3214a"/>
<rect x="200.30" y="323.5" width="0.8" height="318.1" fill="#f0f0f2"/>
<rect x="213.20" y="323.5" width="0.8" height="318.1" fill="#f1f1f3"/>
<rect x="229.10" y="323.5" width="1.0" height="318.1" fill="#efeff1"/>
<rect x="238.65" y="323.5" width="0.7" height="318.1" fill="#f3f3f5"/>
<rect x="244.80" y="323.5" width="0.8" height="318.1" fill="#f0f0f2"/>
<rect x="253.95" y="323.5" width="0.7" height="318.1" fill="#f2f2f4"/>
<rect x="258.85" y="323.5" width="0.9" height="318.1" fill="#eeeef0"/>
<rect x="268.10" y="323.5" width="0.8" height="318.1" fill="#f0f0f2"/>
<rect x="275.65" y="323.5" width="0.7" height="318.1" fill="#f3f3f5"/>
<rect x="295.55" y="323.5" width="0.9" height="318.1" fill="#ececee"/>
<rect x="316.75" y="323.5" width="0.9" height="318.1" fill="#ececee"/>
<rect x="361.50" y="323.5" width="0.8" height="318.1" fill="#e8e8ec"/>
<rect x="377.00" y="323.5" width="0.8" height="318.1" fill="#ececee"/>
<rect x="381.10" y="323.5" width="0.8" height="318.1" fill="#e9e9ec"/>
<rect x="397.10" y="323.5" width="0.8" height="318.1" fill="#ececee"/>
<rect x="350.65" y="323.5" width="0.7" height="318.1" fill="#f0f0f2"/>
<rect x="366.15" y="323.5" width="0.7" height="318.1" fill="#f0f0f2"/>
<rect x="370.65" y="323.5" width="0.7" height="318.1" fill="#f0f0f2"/>
<rect x="161.80" y="323.5" width="1.8" height="318.1" fill="#dcdcde"/>
<rect x="284.05" y="323.5" width="1.5" height="318.1" fill="#d6d6d8"/>
<rect x="307.40" y="323.5" width="1.0" height="318.1" fill="#dedee0"/>
<rect x="325.90" y="323.5" width="1.2" height="318.1" fill="#d8d8da"/>
<rect x="335.35" y="323.5" width="1.5" height="318.1" fill="#d3d3d6"/>
<rect x="344.40" y="323.5" width="1.2" height="318.1" fill="#d8d8da"/>
<rect x="408.10" y="323.5" width="2.4" height="318.1" fill="#dddddf"/>
<rect x="161.1" y="323.5" width="0.7" height="22" fill="#b4b9e4"/>
<rect x="161.1" y="345.5" width="0.7" height="296.1" fill="#8f96d6"/>
<rect x="164.1" y="357.9" width="8.1" height="283.7" fill="#fdebeb"/>
<rect x="356.5" y="357.9" width="4.5" height="283.7" fill="#3d52b4"/>
<rect x="405.8" y="323.5" width="2.2" height="318.1" fill="#4358b8"/>
<rect x="385.1" y="323.5" width="0.6" height="318.1" fill="#f2c4c4"/>
<rect x="388.8" y="323.5" width="0.6" height="318.1" fill="#f2c4c4"/>
<path d="M254,331h0.6M214.6,349.1h0.7M248.7,346.7h0.8M389.4,340.4h0.8M307,331.5h1M246.4,337.1h0.9M190.2,345.9h1M237.5,355.2h0.8M347.9,339.7h0.7M219.9,324.7h0.6M402.4,341.8h0.8M379.7,344.1h1.1M242.2,331.5h1.1M192.3,350.2h0.9M400.7,355.1h0.9M161,325.3h0.8M359.3,327.1h0.8M173.4,334.5h0.5M235.1,341.5h0.6M351.1,326.3h0.6M216.9,337.6h1M241.3,347h1.1M184.8,352.5h0.9M340.9,344.2h0.7M176,329.2h0.6M196.6,329.2h0.6M293.7,349.5h1M366,328.3h1M198.7,326.8h0.7M300,326h0.6M252.7,351.1h0.7M256.5,336.5h0.6M374.5,354.4h0.9M252.6,338.9h0.7M317.4,345.7h0.7M373.1,347.9h0.6M356.7,346.3h0.6M226.7,348.8h0.5M262.5,355.7h0.7M279.1,353.9h1M351.3,341.8h1.1M216.7,353.1h0.7M318.4,344.3h0.7M323.5,344.1h1.1M320.6,338.8h0.7M376.5,335.7h0.9M327.5,355.8h0.6M320.1,330.1h0.9M318.1,348.6h1M210.2,352.4h0.7M252.9,328.1h0.8M151.9,334.6h0.9M341,329.9h1M264.1,331.2h0.9M338.8,339.7h0.8M308.7,345h1M346.4,331h0.5M178.2,334.5h0.8M395.2,338h0.7M292.8,355.2h0.9M226.4,349h1.1M352.7,337.4h0.6M268.4,328.7h0.6M264.8,352h0.9M257.6,355.4h0.6M215,333.4h0.8M377.1,336.9h1M389,340h1M376.9,339.9h0.6M170.5,332.3h0.8M155.5,335.2h0.8M236.7,348.3h0.8M286.7,345h0.8M256.5,329.9h0.9M163.6,325.7h0.7M209.9,349h0.6M262.9,347h0.8M355.7,328.3h0.6M221.4,336.3h0.8M201.8,342.6h0.9M317,350.9h0.5M323.4,348h1M189.7,327.3h1M315.5,329.9h1M333.3,344.4h1M306.4,335.5h0.5M238.4,344.8h0.6M197.1,328.1h0.8M396.5,348.2h0.5M247.1,346.6h0.6M353,332.1h0.8M352.5,352.8h0.5M358.7,352.9h1M347.7,336.6h0.7M163.2,337.3h0.7M191.8,355.1h1M356.8,334.1h0.6M259.9,326.8h0.7M305.3,334.8h0.7M234.5,351.4h0.5M357.8,344.3h0.8M327.4,325.1h1M224.8,337.4h0.8M380,331.9h0.8M402.9,331.4h0.9M193.1,342.9h0.8M294.9,325.4h0.6M379.8,330.3h0.7M402.3,332.7h0.8M260.7,324.6h0.9M279.1,354.9h1.1M170.4,343.6h0.7M185.1,354.2h0.6M278.8,332h0.8M204.4,352.2h0.8M202.7,350.4h0.6M338.6,332.5h1M216.6,345.6h0.9M279.4,352.7h0.8M211.1,341.5h0.9M258.3,341.5h0.5M215.1,349.4h0.7M199.5,350.2h0.5M161.3,326.5h0.6M164.3,334h0.7M385.5,332.8h0.8M226.4,348h0.6M238.9,329.1h0.7M217.6,339.2h1.1M158.5,332h0.9M363.1,336.8h0.7M232.2,336.7h0.8M349.2,325.2h0.6M207.9,344.6h1M169.5,324.5h0.6M262,346.9h1.1M245.3,338.2h1M346.1,353.8h0.7M332,350.7h0.7M213.3,354.6h0.6M234.2,327.8h1M309,332.4h0.8M264.3,325h0.9M171.3,336.9h0.9M223.1,349.3h1M330,338.3h1.1M232.9,356.8h0.9M287.1,352.7h0.6M224.2,349.6h0.5M386.1,339.2h0.8M404,327.3h0.5M294.3,345h1M200.3,353.1h0.9M298.3,325.1h1M206.9,346.1h1.1M154.8,338.4h1.1M224.3,351.6h1M326.6,356.8h0.9M178.1,351.8h1M249.5,327.6h0.7M285,332.6h1.1M191.7,333.4h0.6M341.3,351.3h0.7M250.7,353.3h0.9M206.7,356.8h1M229.3,339h0.8M312.4,339.4h0.6M235,328.7h0.8M307.1,344h0.5M292.4,349.8h0.8M237.2,349.9h0.7M352.7,324.8h0.6M267.6,327.2h0.6M388.1,349.7h0.7M180.6,348.2h0.9M195.5,342.5h0.9M174.2,328.1h0.5M363.8,334.1h0.7M162.5,345.5h0.7M289,335.8h0.7M162.5,335h1M390.6,354.1h1M357.1,344.8h0.9M333.6,355.6h0.9M292.8,348.1h1M286.9,325.2h0.9M238.8,328.7h0.5M286.9,355.4h0.8M362.9,330.1h0.7M393.7,346.8h0.9M226.5,346.1h0.7M201.9,329.6h0.6M175,337.2h1M289.7,336.6h0.9M385.3,332.9h1.1M400.4,335.9h0.5M324.2,354.3h0.7M231,332.2h0.6M319.9,333.9h1.1M254.9,328.7h0.9" stroke="#7780d2" stroke-opacity="0.62" stroke-width="0.8" fill="none"/>
<path d="M400.3,325.4h2M319.2,329.9h1.9M290.5,328.2h0.8M255.8,328.4h1M261.6,327.2h1.8M239.2,330.8h0.9M316.6,328h1M349.1,331.4h0.8M357.2,325h1.1M394.1,331.3h1.9M241.6,329.7h2M168,330.3h1.6M387.8,327.7h1.5M344.7,328h1.6M206.5,324.8h0.9M401.3,327.5h1.8M397.5,330.9h1.4M224.7,328.8h1.7M334.6,324.7h0.7M159.9,326.2h1.2M245.7,329.8h1.7M223.6,326.9h1.8M326.8,324.7h1.1M360.3,328.3h0.9M256.7,329.2h0.8M216,330.4h1.1M256.1,331.4h1.9M228.5,324.5h0.8M398.8,329.4h0.9M380.7,330.6h1.6M156.1,328.2h0.9M216.4,327.3h1.2M375.7,327.1h0.8M191.1,327.7h1M364.3,328.9h1.6M196.5,328.5h1.6M163.8,327.3h1.5M190.5,331.2h0.9M181.4,329.3h2M347.5,328.2h1.1M206.2,325h0.9M310.9,326.2h2M191.3,326.2h1.2M393.3,326.9h0.9M335.3,325.1h1.3M206.2,331.3h1.2M279.7,331.2h1.5M403.1,327.5h1.8M261.7,326.4h1.9M309.5,325.5h1.4M326.7,325.5h1.3M264.1,325.8h1.6M275.1,328.7h1.4M307.4,330h1.3M396.1,330.8h1.2M182.3,327.9h1.1M376.8,326.7h0.7M201.1,330.6h0.8M382.1,327.5h1.4M342.8,330.6h0.8M300.8,325.8h1.9M347.1,326.3h1.1M398.9,331.2h1.7M161.5,326h1.4M204,328.1h0.6M268.5,327.8h1.8M239.5,330.8h0.9M156,327.7h0.8M393.6,330.3h1.9M205.7,330.6h1.9" stroke="#6672cc" stroke-opacity="0.6" stroke-width="0.8" fill="none"/>
<path d="M223.2,370.3h1.2M198.8,368.4h1.1M228,367.9h1.6M155.3,359.3h1.5M174.5,360.4h2.1M392.8,368.9h2.1M326.4,371.9h0.6M246,364h1.1M219.9,363.4h1.8M392.2,371.8h1.2M304.4,362.1h1.1M382.6,366.4h0.7M273.7,369.9h1.7M179.8,364.3h1.1M207.6,362.3h1.9M291.8,370.1h1.2M365,359h1.1M199.9,362.7h1.8M196.9,371.2h1.5M373.5,359.2h0.7M159.9,372.7h1.4M166.7,362.9h1.2M217.2,363.3h1M214.5,364.9h0.8M303.2,370.2h0.9M313,368.5h1.1M249,360.9h1.6M399.5,369.8h0.9M260.1,366h1M395.7,371.2h1.3M209.1,369.4h1.4M332.8,371.1h2.2M350.5,361.8h1.5M333.5,361.3h2.2M220.5,370.8h0.6M173.7,359.1h0.7M170.5,360h1.8M384.9,370.1h1.9M349.1,361.3h1.2M163.5,361.4h0.9M269,371.8h1.2M326.2,368.1h1.1M162.4,361.9h0.9M282.2,363.3h1.6M306.7,360.5h2M257.1,361.9h0.7M273.4,360.6h1.8M202.7,361.3h1.3M171.2,371.6h2M172,362.3h1.9M346.2,366.4h1.7M263.3,367.4h1.6M340.2,372.5h1.4M184.5,369.7h2.2M287.7,372h1.8M341.8,370h1.6M179.1,360.8h2M314.4,361.3h1M373.2,360.7h1.5M344.3,363h0.6M249.2,368.3h2M303.2,359.9h0.9M280.6,362.4h0.8M190.8,369.8h1.2M367.4,372.3h1.1M322.2,361.8h1M207.9,366h0.8M356,368.7h0.8M222.1,362.5h2.1M379.6,361.9h1.6M342,366.2h1M367,359.1h2.1M342.5,367.6h1M174.4,364.3h1.4M296.8,361.4h1.2M191.1,359.2h1.4M273.7,367.4h1.3M320.1,372.1h1.2M299.6,366.2h1.4M152.3,360.1h1.5M300.6,364.1h1.2M177.7,368.4h1.6M181.8,361.2h1M223.7,366.8h1.9M295.1,370h1.1M248.6,368.3h1.9M383.3,369h0.9M301,360.1h0.9M262.3,367.6h0.9M259.9,363.1h0.8M377.2,370.5h1.9M188.2,370.5h2.1M169.1,362.4h1.1M202.1,366.7h1.8M300.3,371.5h1.6M337.2,365.2h1.8M187.5,365.4h1M246.3,364.2h0.7M282.1,361.9h1.4M286.9,365.1h2M286.3,368.3h2.1M263.5,371h1.3M156.3,362h1M315.8,361.3h1.6M230.9,368h2.1M318.4,368.7h1.5M296.7,365.6h1.8M256.2,364.6h1.9M340.8,359h1.1M233,362.7h0.8M271.4,365.3h1.6M250.6,369.9h1.8M388,359.3h1.9M396.8,366.1h1.4M381.5,363.3h1.9M269,370.8h1.8M271.4,361.1h1.1M312.2,363.5h0.9M219.8,365.6h1.5M336.7,359.4h1.6M173.7,366.3h0.9M332.9,365.6h0.8M278.3,365.2h1.7M379.5,372.9h2.2M166.4,366.3h1.2M358.1,362.5h2.1M186.2,360.9h1M239.6,370.2h1.2M295.1,370.9h0.8M278.2,367.8h1.8M165,364.1h1.6M184,359.1h1.9M185.2,366.1h1.1M261.8,370.7h1.8M333.8,370.7h2M346.1,359.8h1.5M193.2,371.5h1.8M356.7,366.5h1.2M234.5,372h2M189.2,360h1.7M224.2,366.3h1.6M262.3,360.4h1.4M380.5,365.4h0.8M186.1,372.4h1.7M234.2,366h2M260.5,361.9h1.9M300.9,365.8h0.9M314.4,366.5h1M404.8,365.7h1.6M303.9,361.2h0.7M373.6,363.7h1.3M206.6,367.2h1.8M248.8,365.1h0.9M304.7,363.2h1.9M371.4,358.9h1.5M237.6,362.5h1M228.7,360.2h0.8M164.7,363.5h2.1M237.6,370.7h0.9M332.2,372.2h0.9M299.7,369.1h0.6M159.2,364.9h1M245.6,366.4h1.8M214.4,370.7h1M320.7,371.4h0.8M392.2,358.9h0.7M305.9,367.4h2.1M319.5,361.5h1.5M396.7,370.4h1.7M214.9,365.1h1.5M183.3,364.5h1.3M248.6,369.7h1M275.9,372.1h1.6M283.4,369.1h1.7M291.3,364.1h1.5M386,364.8h1.7M218.6,366.2h1.1M228.9,361.7h0.9M176.1,359.6h2.1M322.2,361.6h1.3M364.9,360.6h0.9M176.1,365.4h1.3M165.2,366.8h1.5M325.1,367.4h0.7M166.4,365.8h1M229.5,368.5h1.7M235.7,370.4h0.8M182.2,361.3h2M292.1,368.1h0.6M292.1,371h1.4M332.2,363.7h1.1M361.2,369.6h0.6M237.5,360.5h0.9M243.9,363h2.1M377,367.7h1.1M248.9,371.3h0.7M253.8,360.2h1.6M278.1,366.7h0.8M241.5,361.5h2.1M269.7,359.8h0.9M271.4,363.4h1.6M387,365h1.5M217.7,370.9h1.5M402.2,365.8h2.1M194.5,371.5h1.5M181.3,367.3h1.1M151.6,359.8h0.6M259.4,370.5h1.6M318.4,360.6h1.6M263,360.6h1.3M363.5,368.3h1.9M151.8,362.5h2.2M163.9,361.3h1.2M168.2,362h2M314.1,368.2h1.8M372.6,360.6h1M155.9,363.6h1.7M242.4,367.4h2.2M264.8,367.1h1.5M267.3,360.5h1.2M355.6,369.3h2M378.9,370.8h1.2M401.1,363.8h1.1M194.4,362.4h1.7M349.6,359.7h1.9M387.1,366.6h0.8M285.9,363.3h1.6M154.1,359.5h1.2M224.1,369.6h0.7M185.9,368.1h1.7" stroke="#5b68c8" stroke-opacity="0.6" stroke-width="0.8" fill="none"/>
<path d="M391.6,365.6h2M222.4,365.9h2.8M155.2,365.1h2.5M330.6,363h2.9M383.7,365h2.5M199.5,363.4h2.6M256.1,365.2h1.7M240.3,366.3h1.8M209.3,366.3h2.1M251.3,365.3h3.8M381.3,364.6h2.8M284.5,364.1h3.3M161.9,365.5h1.6M232.2,364.2h3.4M203.9,364.5h2.6M165.6,365.5h2M175.5,366.8h3.8M274.6,363.9h2.6M278.7,366.1h2.1M189.8,366.5h3.7M352,365.7h2.7M349.6,366.4h3.7M176.2,363.9h2.2M314.9,363h3.6M373.2,363.9h2.1M358.4,364.7h2M269.4,363.3h3.3M287.5,364.7h3.8M365.6,363.7h2.4M266.8,363.2h1.9M233.6,365.9h2.6M210.4,365.6h3.6M263.1,364.4h2.2M287.2,363.4h1.7M321.3,363.5h3.3M306.7,365.9h2.4M386.5,363.1h1.7M282.8,363.9h1.6M273.3,366.5h2.5M258.8,366.1h3.7M200,365.7h3.2M224.8,363.2h3.5M205.6,364.7h2.6M336.4,365.2h3.3M394.2,365.5h1.5M401,364.4h2.5M228.2,366.3h2.4M162.3,364.6h2M258.2,363h3.5M380,365.4h2.5M185.9,363.7h3.1M167.8,364.6h3.7M401,366.2h2.8M239.7,364.8h3.3M189.2,366.6h3.4M233.8,366.3h2.1M179.6,364.1h2.4M168.5,366.3h3.7M404.8,364h3.1M266.8,364.7h3M346.9,363.8h2.9M372.8,365.7h3.9M164.2,364.3h1.9M214.8,364.8h2.8M300.8,366.7h3.1M290.3,363.1h3.7M231.4,365.1h1.9M331.6,363.8h3.2M350.2,365.3h2.2M361.8,366.7h1.6" stroke="#4c5ac2" stroke-opacity="0.7" stroke-width="0.8" fill="none"/>
<path d="M395.8,361.2h2.6M384.1,359.3h1.7M390.9,360.9h1.2M363.2,359.2h2.6M363.1,359.2h1.2M364.1,359.2h2.6M403.3,361.3h1.4M376.6,359.4h2.8M374.4,359.6h1.4M391.5,360.8h2.9M397.9,360.3h2.3M363.1,361.3h1.2M396.4,360.6h2.8M393.8,359.9h1.9M392,359.5h1M402.1,359.2h2.7M369.5,360.5h2.3M377.4,359.8h2.2M390,358.9h1.4M389.4,360.7h2.4M371.9,361.7h2.2M366.2,359.5h2.7M382,360.4h1.7M382.8,359.7h3M385,360.9h1.5M371,361.5h1.5M387.6,360.2h2M378.9,361.8h1M367.3,359.6h2.1M390.7,360.4h1.5" stroke="#3d4fb8" stroke-opacity="0.8" stroke-width="1" fill="none"/>
<path d="M377.2,599.4h1.1M386.3,594.9h0.9M392.1,422.8h0.6M361.4,616.3h0.8M290.4,532.7h0.9M265.8,403h0.6M264.1,400.4h0.5M303.7,615.6h0.7M352.7,514.6h0.8M297.1,629h0.6M294.9,442.5h0.9M343.1,456.8h0.7M239.7,378.7h0.9M205.1,410.1h0.6M298.1,600.2h1M239.5,455h1.1M376.5,420.9h0.6M255.7,576.3h0.7M224.3,373.3h0.7M167,453.6h0.5M196.6,500.1h0.7M379.9,500.9h0.6M197.7,472.1h1M197.7,612.6h0.8M189.2,506.6h0.7M395.1,445.5h1M286.4,584h1.1M261.8,614.3h0.6M188.6,566.3h0.8M180.2,504h0.6M227.1,617.6h1.1M333.9,416.9h0.6M341.9,508.4h0.8M232.4,613.8h0.6M253.5,399.9h1M322,414.1h1M392,490.7h0.9M290.1,577.3h1M160.6,426.1h0.6M187.5,402.8h0.9M184.2,615.8h0.7M308.7,386.2h0.8M234.7,620.9h0.9M316.9,411.1h0.6M352.1,518.5h1M173.8,543.9h0.9M351.3,547.7h0.6M226.2,507.4h1.1M291.7,434.9h1.1M163.2,550.5h1M159,436.7h1M363,585.4h0.8M202.7,596.2h0.8M400.5,389.1h0.6M264.4,587.7h0.8M220.8,498.1h0.7M391.7,473.2h0.7M306.8,486.5h1M166.9,604h0.7M254.6,588.5h0.6M270.4,522.1h0.8M185.7,556h0.8M327.1,391.3h1.1M328,509.4h0.8M235,464.8h0.8M342.2,407.8h0.5M359.9,583.3h0.5M305.5,469.8h0.7M330.7,509.5h0.7M404.3,544h0.6M320.7,383.7h0.7M198.7,391.3h0.9M363.1,419.5h1M255.6,534.3h0.5M252.4,553h0.6M210.6,558.8h1M328.3,552.7h0.7M360.4,465.1h0.7M202.2,504.2h0.7M243.5,557.3h1M226.9,417.3h1.1M192.2,533.1h0.6M261.9,627.9h0.9M342.3,559.4h0.9M314.7,597.9h1M161.7,458.2h0.6M215.7,385.8h0.6M268.1,626.5h0.8M161.2,593.7h0.8M293.2,485.6h0.5M168,466.9h1.1M154.3,475.9h0.5M325.2,417.6h0.6M175.4,374.7h0.7M313.2,407.6h1.1M381.9,604h0.7M231.6,545.3h0.6M352.8,604.9h0.6M271.9,551.8h0.9M165.8,383.4h0.7M195.8,621.2h0.8M401.2,439.4h0.7M368.8,535.9h0.8M205.4,404.3h1.1M211.3,551h0.9M263,542.4h1M170.6,564.7h0.9M221.1,488.8h1M399.3,610.5h0.7M222.8,378h0.9M284.1,570.3h1M189.4,489.2h0.8M228.3,522.7h0.6M342.6,386.2h1.1M318.2,556.7h1M257.3,502.5h0.9M381.2,599h0.8M274.7,421.2h1M263.4,473.1h0.6M318.8,492.6h0.6M213.2,466.6h0.9M403.4,485h0.8M151.8,387.6h1.1M219.6,513.5h1.1M312.6,417h1.1M279.3,602.5h1.1M287.6,594.1h0.9M176.9,394.2h0.7M364.6,396.7h1M231.1,547.5h0.9M239,572.2h0.8M265.1,589.8h0.9M362.4,448.5h0.5M253.1,549.3h0.8M183.7,597.8h1M387.2,519.1h0.5M159.5,511.6h0.7M380,388.9h0.9M262,614.7h0.9M230.6,628.1h0.9M390.1,627.3h1M156.1,476.9h0.9M211.7,393.4h1M401.8,411.8h0.5M363.5,501.3h1M369.2,600.6h0.7M385.7,578.9h0.8M194.9,587.9h1M393.3,548.5h0.8M232.5,517.6h0.8M379.9,457.2h0.8M337,613.4h0.8M180,625.8h0.8M162.6,500h0.9M325.3,476.2h0.5M297.2,404.3h0.7M374.2,592.8h1M240.9,589.7h0.7M286.8,535h0.7M214.3,578.6h1M231.8,445.8h1.1M264.6,584.7h0.7M236,417h1.1M347.2,471.7h0.9M162.3,472.7h0.7M232.4,599.8h0.9M299.3,443.2h0.9M182.3,403.1h0.6M348.8,523.5h0.7M344.3,484.1h0.8M246.2,502.6h0.8M211.5,553.4h1M151.7,626.8h1M397.9,477.5h0.6M280.3,608.4h0.6M363.5,570.3h0.8M320,621h0.8M371.4,606h0.9M295.5,608.6h0.6M327.2,485.3h1M203.5,434.6h0.8M174.8,620.2h0.5M324.6,534.4h0.8M399.3,614.7h0.9M247.3,442.4h0.7M356.9,591.9h0.9M237.5,558.2h0.8M199,445h1M255.1,565.4h0.9M386.1,517.8h0.8M306.7,563.1h0.6M391.7,526.4h0.8M211.7,447.1h0.9M156.3,493h0.8M404.1,467h1.1M248.6,417.7h0.9M212.4,458.3h0.9M326.9,531.4h0.7M195.2,413.2h0.6M394.2,460.7h0.7M189.8,593.6h0.6M307.4,407.2h1M395.2,536h0.6M224.1,614.7h0.7M175.6,538.4h0.7M389.8,545.3h1.1M265.1,619h0.7M223.4,503.8h1.1M379.8,444.9h1M188.7,460.7h0.8M156,584.2h1M347.4,575.1h1M295.5,620.7h1M225.3,457.9h0.6M370.3,404.9h0.6M309.3,537.5h0.8M238.3,417.1h0.6M303.7,524.2h0.8M178.4,507.7h0.9M300.5,600.6h0.8M247,519h0.9M250.7,585.3h0.9M348.6,389.2h0.9M244.5,524.3h0.5M257.6,504.4h0.9M231.1,380.7h0.5M338.1,585h1M262.7,464.4h1M256.2,543.9h0.9M380.4,601.8h1M285.2,467.4h0.7M190.1,586.5h0.6M305,381.6h1.1M265.9,451.3h0.9M246,385.3h0.6M213.2,381h1.1M354.1,602.2h1M263.1,486.4h0.6M362.1,478.3h0.7M270.8,578.5h0.6M398.7,476.6h0.8M353.2,397.6h0.9M261.2,462.2h0.7M204.4,541h0.9M210,553.8h0.7M159.2,478.2h0.5M202.3,430.8h0.7M342.5,483.2h1M379.8,598h1M275.1,474.6h1M163.7,563.9h1M159.2,407.5h1.1M296.2,574h0.7M377.4,387h0.7M206,610.7h0.8M365.4,388h0.7M213.6,399.1h0.6M244.7,438.2h0.8M219.6,394.8h0.9M281.2,627.3h0.6M341.8,377.5h0.9M250.9,423.8h0.6M170.6,506.7h0.9M171.2,519.5h0.7M363,440.1h0.9M285.3,521.5h0.8M361.2,375h0.7M164.2,383.2h0.8M312.9,461.7h1M350.5,401.5h0.9M295.8,509.7h0.7M278.2,389h0.8M305.5,419.7h0.6M320.2,548.6h0.8M243.2,516.8h0.6M212.6,400h0.8M257.1,520.9h0.9M245.6,388.8h0.9M334,618.1h1.1M256.1,499.4h1M202.5,408.8h0.8M302.6,440.2h0.6M219.8,603h1M170.4,475.2h0.9M326.5,517.1h0.6M293.8,432.9h0.7M394.7,557.2h0.6M165.9,466.2h0.7M337.9,442.5h1M308.1,628.8h0.7M247.5,457.4h0.9M252.6,629.4h0.6M398.8,421.2h0.9M165,513.4h0.8M337.1,601.8h0.7M387.1,463.1h0.6M350.3,438.7h0.9M245.1,518.1h0.6M216.9,452.5h1M380.4,461.3h1.1M275.3,430.1h0.7M258.9,541.3h0.7M172.5,492.5h0.8M271.9,464.4h0.8M259,449.4h0.8M298.2,422.4h0.8M362.6,504.9h0.7M164.5,472.2h0.9M244.9,622.9h1M187.5,547.5h0.6M156.7,614h0.8M325.8,401.7h1M265.8,547h0.8M264.9,445.4h1M394.9,535.5h1.1M306.1,403h0.9M326.1,472.1h0.7M286,485.9h0.7M267.5,606.1h0.7M158.6,374.5h0.7M196.5,576.1h1M259.7,601.6h0.8M391.9,495.9h1M377.5,403.7h0.8M201.3,576.8h0.9M225.6,542.3h1.1M217.5,610.8h1M196.8,584.1h0.6M320.9,376.6h0.9M289.8,458.1h1M336.3,450.8h0.7M283.3,392.3h0.6M249.9,628.5h1.1M162.7,560.9h0.9M307.5,619.3h1.1M287.7,543.4h1M187.3,496.6h1M151.9,465.2h0.7M194.7,480.8h0.7M209.6,617.4h1M204.3,544.3h0.9M235.4,502h0.7M357.3,551.6h1M275.3,492.5h0.7M223.8,599.2h0.7M377.9,589.6h1.1M295.5,567.1h1.1M266.3,496.3h1.1M189.6,487.3h1M396.5,410.5h0.7M257.7,388.1h0.5M207.5,532.9h0.7M224,527.3h0.8M274.2,579.8h0.9M333.7,621.4h0.5M287.6,476.1h0.9M186.7,549.8h0.8M235.9,597.8h0.9M374,530.1h0.6M282.4,438.8h1M355.8,451.7h1M184,515.2h0.9M370.5,376.2h1.1M373.6,478.5h0.9M158.2,455.1h0.9M391.9,450.1h0.6M302,552h0.8M275.9,446.5h1M242.1,501h0.5M170,488.1h0.5M306.4,578h1.1M254.2,435.5h0.6M404.6,494.5h1M170.9,502.5h0.5M258.4,557.6h1.1M326.2,598.9h0.7M226.2,514.7h0.8M238.3,476.3h0.8M161.1,599.6h0.9M311.8,405.4h0.7M246.2,512.3h0.8M370.7,494h0.6M334.9,608.7h1.1M323.5,411.5h0.5M218.5,553.5h0.9M166.8,486.9h0.7M253.3,568.6h0.8M342.4,511.4h1M404.5,523.8h0.7M156.4,393.7h0.9M354.7,501h0.8M272.9,427.5h1.1M366.5,539.7h0.6M326.4,545.2h0.9M227.6,404.3h0.9M344.4,521.5h1.1M374.2,473.4h0.8M345.7,434.6h0.5M218.6,593h0.9M211.3,409.6h0.7M363.5,608.9h0.7M357.3,490.8h0.8M176.9,442.4h0.6M156.1,483.6h0.5M383.1,514.7h0.7M213,430h0.8M197.8,387.2h0.6M389.4,526.4h1M172.8,427.7h0.9M192.5,409h0.7M203.6,501.8h0.8M241.6,509h0.6M329.4,602.6h0.9M283.4,447.5h1M377.4,512.9h0.6M212.2,461.7h0.9M392.1,514.3h0.7M319.1,449.4h0.8M251.3,549.3h0.7M353.6,493.2h1.1M308.4,495.2h0.9M329,483.2h0.6M222.5,413.8h0.9M316.6,614.6h0.7M224.1,499.1h0.9M306.9,496.9h0.8M399.1,624.5h0.6M281.3,427.8h0.6M279.2,430.5h0.8M383.1,536.7h0.8M317,607.5h0.9M243.3,437.4h0.9M216.2,602.7h0.7M335.3,449.4h1M390.4,395.5h1.1M267.1,611.7h0.7M159.8,620h0.6M273.3,528h1M243,480.8h0.6M394.9,613.8h0.9M156.8,495.9h0.9M336.4,385.2h0.9M195.6,450.6h0.7M263.6,514.6h0.7M377.4,397.7h1M347,594.9h0.9M326.7,456.7h0.8M265.3,388.4h0.8M277.4,442h1M264.5,498.7h0.8M403.7,616h0.9M336.4,589h0.6M393.5,491.6h0.7M213,614.9h0.8M223,444.6h0.5M246.2,398.8h0.7M203.2,524.2h0.8M404.7,504h0.6M342,617.4h0.6M170,470.5h0.9M242,527.8h0.8M343,609.2h0.6M249.8,467.7h0.6M226.2,439.3h0.8M397.1,520.6h0.8M262.2,416.5h0.9M395.5,543.4h0.8M363.7,429h0.7M220.8,598.4h0.7M211,523.8h1M347.7,473.5h0.6M395.9,524.5h0.5M219.6,461.9h0.6M338.6,540.9h1.1M201.3,454.3h0.6M338.3,568.9h0.8M241,581.9h0.6M154.4,424h0.7M195,547.2h0.9M201.9,445.6h0.7M368,513.8h0.7M318.6,614.7h0.9M202.9,455.1h0.7M261,561.9h0.5M247.6,601.4h1.1M372.8,582.1h0.9M315,415.4h1M296,545.6h0.7M174.1,467.1h0.7M205.1,620.1h0.7M379.3,592h0.6M387,410h1.1M209.2,617.4h1M223.3,533.5h0.6M306.6,426.9h0.6M216.6,579.7h0.9M293.9,443.3h0.9M398.9,488.6h0.8M301.8,558.3h0.9M334.1,595.6h0.6M393.9,406.9h0.6M360.9,500.6h0.7M186.6,578.6h0.8M191.4,409.2h0.5M199.7,575.2h0.6M216,420.5h0.7M211,402h0.7M398.7,377.7h0.6M312.4,481.5h0.7M244.1,462.7h0.5M230.8,384.9h0.6M387.9,476.7h0.5M205,405.9h0.8M211.5,616h0.7M210.9,516.2h1M284.1,453.8h0.9M401.5,513.5h1M310,518.1h0.7M298.1,488.6h0.7M285.5,557.1h0.7M354.9,373.4h1M291.8,473.8h0.8M359.2,607.9h0.5M154,413.5h0.8M334.5,402.3h0.6M160.2,467.6h0.8M337.7,507.6h1M288.7,435.9h0.7M295.8,418.7h0.9M291.5,563.5h0.8M390.1,613.9h0.9M194.6,623.2h0.9M185.4,443.3h1M199.7,386.7h0.7M293.5,487.8h1M228.7,566.5h1M319.6,401.9h0.9M327.1,387.1h0.9M330.9,455.1h1M331.1,433.5h0.5M345.6,487.1h0.8M204.1,512.7h0.6M249.3,542.6h1M382.7,621h1.1M170.6,578h0.7M178.8,531h0.9M171.7,471.9h0.7M193.4,613.9h0.9M388.1,628h1M195,541.5h0.7M305.4,590.3h1.1M295.9,553.5h0.8M251,590.7h0.8M404.3,438.6h0.5M224.8,599.1h0.8M242,442.3h0.6M289,422.8h1M364.4,577.4h0.7M315,378.3h1M244.8,471.8h0.6M384.7,562.2h0.5M388,447.2h1.1M317.6,423.7h0.5M229.2,566.8h1M365.1,484.5h1M225.2,511.5h0.9M156,442.9h0.7M364.8,408.7h0.6M224.6,470.2h1.1M401.3,425.6h0.8M264.4,512.2h0.9M169.1,447.7h0.7M283.7,598.5h0.8M381,612.7h1M243.9,381h1M321.7,457.6h0.6M163.7,402.2h1M391.4,577.7h1.1M353.7,618.8h0.6M365.5,558.6h1.1M342.3,498.4h1M163.2,507.7h0.9M173,438.6h0.7M404.7,621.4h0.6M174.3,415.5h0.7M262.6,444.6h0.7M187.8,486.8h1.1M374.8,513.7h0.6M401.5,488.5h1M391.3,562.5h1M316.3,453h0.8M285.8,427.8h0.9M261.8,376.2h0.7M212.4,532h0.9M296.5,598.1h0.7M207.1,545.3h0.6M260.4,443.4h0.5M274.4,629.4h0.9M208.6,607.5h0.9M332.5,506.7h0.6M350,459.7h1.1M269,399.6h0.8M252.1,378.8h0.7M400.6,381.9h0.7M187.8,605.3h0.7M307.9,466.2h0.9M176.9,377h0.6M244.4,455.7h0.7M164.9,562.7h0.6M274.7,534h0.9M309.3,488.8h0.9M288.3,579.4h0.6M230.8,426.1h0.7M206.8,378.1h0.6M352.4,373.5h0.7M294.1,626h1.1M230.4,581.1h0.8M229.5,502.9h0.8M179,532.7h0.9M294.9,461.5h0.7M251.4,601.7h0.9M307.5,507.5h1M330.3,526.9h0.7M273.4,511.7h0.8M352.3,535h0.9M249.6,565.6h0.5M328,440.1h0.6M390.1,427.1h1M318.4,506.6h0.6M318.2,377.1h1M222.3,465.2h0.6M342.7,590h0.6M282.2,513.4h0.7M381.2,605.3h0.8M218.9,486.9h0.8M285.8,443.1h0.7M197,549.6h1M230.4,604.6h0.6M362.7,493.4h0.6M204,434.3h0.9M387.1,576.3h0.8M263,397h0.6M166.4,431.6h0.8M224.2,451.3h0.7M251.4,538.6h0.6M181.3,463.9h0.5M319,402h0.5M243.2,502.6h0.6M376.4,398h0.9M390.8,398.5h0.9M402.5,421.8h0.9M276.2,475.1h0.8M362,553.3h0.9M252.4,606.2h0.6M387.1,398.7h0.7M234.6,427.5h0.8M213.5,481.3h0.6M290.1,608.9h1M388.8,447.5h1M259.6,598.2h0.7M239.7,409.2h0.8M220.1,543.2h0.9M192.4,494.3h0.9M395.7,596h0.8M382.9,378.2h0.6M384.7,567.3h0.6M317.3,526.1h0.7M296,518.1h1M203.7,480.2h1M376.2,537.3h0.7M312.1,612.3h0.8M175.8,610.9h0.5M243.6,504.7h0.8M398.6,400.7h0.7M234,453.4h0.8M214.8,385.1h0.8M315.4,443.9h1M354.1,422.6h1.1M371,554.1h0.9M336.2,412.5h0.9M294.2,611.2h0.7M282.2,571.3h1M163.5,458.2h0.5M328.1,462.9h1M239.1,586.9h0.9M387.7,451.3h0.6M189.2,384.9h1.1M233.7,536.4h1M158.6,446.8h0.9M220.8,584.7h0.9M329.9,492.7h0.8M237.2,423h1.1M219.4,625.1h0.9M403.5,484h1.1M247.2,518.2h0.7M156.8,592.4h0.6M257.3,563.9h0.5M223.8,450.6h0.9M173.8,564h0.6M260.1,462.9h0.7M325.4,444.4h0.9M253.3,553.6h0.5M266.2,536.5h0.7M283.7,394.4h1M359.3,611.8h1M218.2,438.7h0.6M170.7,558.9h0.9M158.9,417.5h0.8M277,544.5h0.7M378.2,432.4h0.7M393.7,504.6h0.5M311.5,405.4h0.8M259.9,436.7h0.6M232,581.8h0.7M367,404h1M209.1,410.1h1M351.7,544.9h0.7M161.2,579.2h0.7M229.1,480.2h0.6M242.6,535.4h0.9M161.7,601.8h0.9M269.5,527.5h0.9M313.5,412.6h0.5M355.9,578.9h0.9M152.4,533.1h0.8M370.2,534.9h0.7M209.1,430.8h0.9M188,429h1M259.6,553.9h0.9M337.2,543.7h0.7M331.6,406.3h0.6M315.6,412.3h0.6M219,526.7h0.6M355.6,494.9h0.7M351,560.6h0.5M378.2,409.9h0.9M352.7,602.4h0.7M189.2,423.4h0.8M216.5,387.2h1.1M279.5,595.6h0.6M163.2,435.9h0.6M402.3,387.2h0.9M222,493.5h0.9M265.8,450h0.8M269.4,568.7h0.7M263.2,538.2h0.7M329.5,442.3h0.6M281.7,457.7h0.9M366.2,455.4h0.5M198.1,401.2h0.7M183.8,435.7h0.8M311,558h0.6M361.9,471.4h0.5M398,629.4h0.7M374.7,386.3h0.7M403,532.1h0.8M360.6,601.6h0.6M319.2,620.7h0.5M251.9,448.9h0.8M260.5,496.8h1.1M377.1,505h1M391.9,375.1h0.9M156,509.2h0.7M218.4,531.5h0.9M329,492.1h1M390.3,578.3h1M348.3,570.2h0.5M174.1,471.7h1M191.7,556.8h0.6M319,389.1h0.7M232.5,535.6h0.6M313.6,419.6h0.7M263.9,522.8h0.6M351.9,476.2h0.6M384,488.9h0.8M382.3,503.1h1M207.9,567h1M263.5,480.6h0.8M379.9,382.8h1M318.9,476.7h0.6M371.1,549.4h0.8M370.8,530.1h0.6M393.2,559h0.6M365.3,556h0.8M368.7,477.7h0.6M216.9,559.3h0.5M224.9,379.3h1.1M323.1,562.3h0.7M263.9,405.4h0.5M283.7,590.8h0.6M320.6,606.7h0.9M300.5,571.9h0.6M360.3,549.2h0.7M347.2,474.7h0.8M295.7,469.8h0.7M184.9,402.5h1M157.1,454.3h0.8M323.5,466.4h0.8M384.3,602.9h0.9M337,570.4h1M288.1,534.9h1M235.2,601.9h1M378.9,563.7h0.9M200,618h0.8M301.4,378.8h0.5M362.7,447h1M225.3,531.3h1.1M233.6,454.7h0.6M345.1,527.8h0.9M306.3,497.4h1M211.2,591.9h0.7M354.7,596.3h1.1M386.3,543.9h0.9M302.6,409h1M155.5,396.5h0.6M355.8,599.1h0.5M306.4,584.8h0.6M365,489.1h1M252.3,443.5h0.8M245.8,429.4h0.8M204.3,456.4h1.1M401.7,565.6h0.5M244.5,606.6h0.6M246,472.2h1M322.1,611.1h0.8M196.5,403.9h0.8M277.2,554.3h0.7M393.4,373.6h0.7M319,521.1h0.7M187.2,406.5h0.9M176.2,480.2h1M209.3,468.3h0.9M230.1,436.4h0.7M244.1,465.2h0.6M376,388.4h0.6M218.3,513.8h0.7M371.1,413h0.8M252.1,529.9h0.7M306.5,562.9h1.1M240.3,593.7h0.9M256.7,458.2h0.7M234.6,534.2h0.9M311.1,597.1h1M252.3,568.9h0.9M369.4,436.2h1M158.3,443.8h0.8M295.5,607.1h1M331.7,443.1h0.7M212.3,461.2h0.6M262.1,412.1h1M303.7,621.7h0.6M367.1,479.7h1M156.8,625.7h0.7M186,471.8h1M177.5,380.4h1M291,530.9h0.9M254.3,414.3h0.8M233,388.8h0.5M174.8,591.7h0.8M261,498.9h0.6M239.9,597.4h0.8M322.3,465.1h0.8M397.2,409.8h0.6M387.4,376.2h1.1M326.9,446.9h1M242.5,378.6h1M239,412.2h0.5M191,584.2h0.6M262,474.6h0.7M272.9,531.6h0.8M266.5,491.8h0.7M360,540.1h0.7M319.3,534.2h0.7M204.4,546.7h0.6M232.7,404.5h0.9M185,396.8h0.5M221.3,607.2h0.8M303.7,442h0.6M320.7,568.1h0.8M222.5,524.7h0.8M399.7,465.5h0.9M323.9,575.2h0.7M351.3,560h0.9M152.4,442.7h0.5M216.8,459.6h0.8M295.5,623.7h0.6M317.5,566.4h0.8M347.9,390.8h0.7M286.2,567.9h0.6M371.4,392.1h0.9M314.6,624.1h1.1M266.9,489.7h0.9M256,584.3h0.8M271.5,620.7h0.9M220.7,538.8h0.7M390.4,557.9h0.7M168,431.7h1.1M262.1,548.2h0.9M252.6,407.8h0.8M321.6,551.6h0.6M270.4,389.8h0.8M377.1,548.6h0.9M387.7,395.8h0.6M168.5,444.3h0.8M384.6,389.1h0.8M204.1,496h0.7M277.7,503.8h0.9M364,468.8h0.9M153.7,560.4h0.8M260.8,506.2h0.8M376.3,397.9h0.6M393.2,430.3h0.9M313.6,427.2h0.6M325.2,587.8h0.6M354.9,589.2h0.9M308.1,559.9h0.6M307.5,560.9h0.9M174.3,594.6h0.8M390.3,556.4h0.6M223.7,422.8h0.9M155.6,427.3h0.9M285,579.7h1M379.5,411.3h1M396.4,571.7h1M284.1,456.4h1M281.4,421.1h0.8M378.5,461.1h1M180.1,612h0.9M293.4,385.5h0.7M189.6,516.7h0.5M288.1,462.7h0.8M398.9,526.5h0.9M362.1,420.7h0.9M333.3,436.9h0.9M387.4,600.8h0.9M209.3,426.3h0.5M188.5,583.3h0.8M209.3,459.3h0.8M206.5,615.4h0.9M302,540h0.8M287.2,528.3h1.1M328.5,463.1h0.8M259.8,529.2h0.7M366.8,604.7h1M291.6,481h1M220,512.4h0.7M321.5,427.9h0.8M174.6,373.2h0.8M317.4,519.8h0.5M186.8,396.2h0.6M271.1,500.1h1.1M347.9,533h0.7M224.2,483.5h1.1M386.8,464.7h0.6M170.9,408.7h0.5M232.5,424.5h0.9M268.5,600.3h1.1M169.8,595.5h0.8M246.7,473.9h0.6M396.3,618.4h0.5M328.3,516.5h1M172.3,589.2h0.8M319.4,501.8h0.5M194.4,479.9h0.5M246.7,399h0.6M336.1,529.8h0.7M167.8,544.8h1.1M295.5,538.8h0.7M253.5,510.2h1.1M350.9,516.8h1M306.4,479.7h0.5M343.2,484.5h0.6M177,603.2h1M303.8,585.7h0.8M262.9,484.9h0.7M342,450.8h0.6M272.3,477.4h1.1M188.4,547.4h0.9M367.2,468.1h0.7M236.3,448.8h0.5M231.8,453.4h1.1M258.1,458h0.9M214.3,555.3h0.7M181.8,491.3h0.7M172.2,546.3h0.5M193.1,435.8h0.5M330.1,515.4h0.7M216.8,455.5h0.9M216.7,487.9h0.6M342.7,506.3h0.8M266.5,418.1h0.6M319.6,560.7h0.7M361.8,593.5h0.6M359.7,508.9h0.8M372.4,400.2h0.8M248,406h1M365.2,489.1h0.6M403.4,611.5h1M283.5,516h0.8M217.2,620h0.6M371.8,568.9h0.9M382.5,549.6h1M304.6,454.9h0.8M224.6,434.3h0.5M204.4,403.1h0.7M335,505.4h1M301.3,617.9h0.5M244.5,574h0.8M237.1,421.5h0.8M300.6,489.1h0.5M283.6,392h1M168.8,451.9h0.6M230.7,509.3h0.9M275.8,425.3h0.8M276.8,606.7h0.5M221.4,460h1M362.5,391.8h0.8M320,467.6h0.7M235,426.4h0.8M327.9,474.2h1M328.1,530.8h0.8M299.5,605.7h0.9M397.1,451.6h1.1M337.9,481.4h0.8M174.8,540.9h1.1M383.2,618h0.5M382.6,378.8h1M173.1,526.2h0.9M214.2,628h1M296.6,399h0.9M326,427.4h0.7M187.1,484.3h1M199.9,492.3h0.8M399.2,494.4h0.9M378.7,502.5h0.7M167.8,620.6h1.1M342.1,407.8h0.7M222.9,462.4h1.1M325.8,609.7h1M207.1,393h1M321.7,558.8h0.9M329.4,374.5h0.9M300.5,449.2h0.8M333.5,434.9h1.1M246,579.9h0.9M261.9,463.8h0.5M167.8,577.9h1M259.7,535.9h1M205.1,495.2h0.9M397.7,616.8h0.5" stroke="#7d86d6" stroke-opacity="0.6" stroke-width="0.8" fill="none"/>
<path d="M322.7,517.1h2.3M251.7,517.3h1.7M234.3,515.7h1.5M399.3,519.2h0.7M322.2,518.1h0.8M297.5,515.9h1.5M281.9,516.7h1.3M365.6,518.2h1.8M234.2,516.2h2.1M351.2,517h1.5M367.8,517.6h1.4M235.7,516.5h2.2M365.5,518h1.2M244.3,515.9h2.1M353.1,516.4h1.6M295.7,515.7h2.4M330.5,516.3h1.2M152.3,516.2h1.5M294.1,519.2h1.5M172,519h1.3M174.5,518.6h1.7M177.6,518.7h1.5M294.1,516.2h1M155.1,518.8h2.3M155,516.2h1.2M194.3,518h1.6M385.1,519.2h1.9M363.8,517.1h2.1M206.7,517h2M252.8,518.6h2.4M240.1,517.4h0.9M244.4,517.2h1.3M176.7,517.2h2.4M239.9,517.8h0.6M259.6,517.8h1.6M293.5,519h1.7M261.4,519.3h1.4M342.3,516.9h2.2M177.1,518.5h2.2M347.8,516.6h1.7M261.5,516.7h0.7M267.5,516.6h2.3M326.7,516.1h2M320.7,518.1h0.8M278.3,516.5h1.9M155.3,518.4h1M312.7,517.6h1.2M284.3,517h2.1M344.3,516.9h1.4M336.2,517.8h0.6M180.6,516.3h2.5M174.9,517.4h1.2M283.1,516.5h0.7M283.6,517.2h2.4M254.5,517.7h2.4M354,516h0.8M362.5,515.7h0.8M177.1,516.8h0.8M228.6,519.5h1M364,518.4h0.9M212.6,518.8h1.9M274.7,516.5h1.5M378,518.9h1.6M198.5,516.7h2M304.1,518.3h1M168,516.9h1.8M403.3,519.1h1.1M271.2,516.9h1.1M344.2,515.6h2.3M173.9,515.6h2M238,515.8h1M359.1,517.6h1M291.6,518.3h1.9M373.5,518.5h2.4M165.3,516h0.7M238.1,518.6h1.2M401.6,515.7h1.3M379.8,515.8h2.2M208.9,515.5h1.6M187.3,515.7h2M236.9,518.1h2.2M212.4,517.9h1M332.6,516.6h1.6M208,516.6h1.7M379.8,517.8h0.8M152,517.8h1.6M234.3,518.4h0.7M400.8,516.5h1.2M323,518.7h2.4M237.5,516.1h0.9" stroke="#7d86d6" stroke-opacity="0.6" stroke-width="0.8" fill="none"/>
<path d="M242.5,533.6h1.8M279.4,532.7h0.6M240.6,535.3h1.1M287.3,534.4h2.4M289.8,532.2h2.3M249.7,534.8h1.3M231.2,534.3h1.5M280.9,532.9h2.5M252.2,534.5h2.3M236.8,535.3h2.1M271.1,535.2h2.4M288.1,532.4h1.7M238.4,534.4h1.4M275.7,534.4h2M266.2,532.3h0.7M242.9,533.2h1.5M276.5,533.1h1M238.5,533.1h0.6M231.4,534.2h1.6M250.5,535.8h0.7M274.7,533.5h2.5M248.7,533.4h2.1M230.5,535.1h1.7M274.9,535.7h2.4M235.6,534.2h0.9" stroke="#7d86d6" stroke-opacity="0.6" stroke-width="0.8" fill="none"/>
<path d="M268.9,638v3.3M231.3,631.9v1.1M386.1,637.1v1.3M218.4,636.4v2.7M297,633.8v1.5M266.1,630.8v2.2M394.6,632.1v3M379.6,634v1.5M345.9,632.8v1.8M375.3,637v1.3M296,636v1.9M198.9,638.1v2.3M179.2,637.6v3.2M327.1,630.1v1.7M287.2,631.7v1.7M238.7,631.2v2.8M163.6,633.5v1.8M227.9,637.6v3.4M245,631.4v2.3M324.3,630.3v2.2M211.4,634.8v3.3M256.1,630.6v2.9M273.7,631.8v1.6M348.8,634.3v1M381.6,635.6v1.3M356.3,630.7v1.4M245.1,632.1v1.4M345.1,632.4v2.5M270,629.7v3.2M183.8,630.2v1.1M178.9,630.8v2.1M238.8,631.2v1.3M235.9,630.6v2.7M314.8,632.9v1.3M195,636.3v1.9M266.6,631.1v3.2M211.6,631.8v2.3M282.4,633.5v2.9M284,633.4v1.2M315,630.6v1.7M157.8,635.2v2.5M357.3,637.7v1.5M401.1,638.5v3.4M230.9,635.5v1.3M214.1,636.1v2.2M156.2,631.7v1.6M194.7,635v1.3M269.6,635.6v3.1M383.9,634.2v1.2M176.3,636.7v2.5M327.6,635.7v1.2M290.5,632.1v1.9M348.5,630.7v3.4M319.7,630.1v2.1M380.5,630.6v1.7M283,636.1v1.7M266,629.9v1.2M314.7,634.8v3.3M260,638.7v3.3M366.8,632.2v2.7M400,634.1v3M246.1,632.7v1.2M282.7,633.8v2.5M240,633.1v2.6M317.8,630.9v1.7M335.6,632.9v2.9M175.5,637.8v1.4M271.5,630.6v2.8M166.4,630.3v3.3M223.1,639.1v2M390,637.9v1.4M321,639.4v2.8M162.5,635.4v1.6M394.9,636.8v2.9M358.8,631.6v3.2M212.7,633.2v2.7M295.6,637.1v2.9M177.3,631.2v2.8M351.8,632.1v1.3M294.3,635.1v3.1M371.2,637v2.3M218,632v3.2M223,632.2v2.7M283.4,630.6v1.2M182.5,633.2v2.8M400.7,632.8v1.6M169.8,631.8v3.3M309,639.3v3.5M155.1,637.4v3.4M344.4,634.9v2.8M157.7,633.5v2.1M245.8,633.4v1.4M386.5,635.1v2.2M367.2,633.6v3.1M222.8,637.7v3.1M240.5,639.4v3M350.1,634v2.8M386.8,629.7v3.3M184.9,630.8v3.3M221.8,635.5v1.7M274.6,635.9v3M186.6,634.7v3.3M231.3,631v2.6M245.3,633.8v3M171.5,636.5v3.1M210.7,639.3v1M288.7,635.8v2.5M217.4,630.3v3.4M288,629.7v3.5M239.2,633v2.9M329.1,630.1v2.7M271.2,635.2v3.1M352.1,632.3v1.5M194.2,633.6v3.1M400.3,634.6v1.8M311.8,635.2v2.2M240.7,636.1v1.4M194.2,637.6v3M248.1,633.6v2.6M214.8,638.5v2.2M350.2,631.2v1.4M326.8,632.1v2.9M225.5,639.2v1.5M305.9,633.9v2.8M315.9,638.3v3.3M366,638.9v2.2M306.2,634v1.8M210.5,631.2v1.9M348.9,638.2v3M237.6,637.1v2.1M270.4,637.2v1.6M375.7,639.3v2.8M192.4,634.5v2.1M339.5,638.6v3.2M248.4,634.3v1.1M287.1,636.7v1.3M242,632.4v3.5M191.3,632.8v1.3M323.8,630.2v3.3M264.4,631.4v2.2M298.8,639.2v2.6M262.6,635.7v2.1M297,632v1.1M163.9,639.4v3.2M305.8,636.4v1.3M308.4,635.2v1.9M282.1,639.3v2.5M167.5,636.1v1M370.1,636.1v3.1M331.3,636.9v2.6" stroke="#7f8ad8" stroke-opacity="0.5" stroke-width="0.6" fill="none"/>
<path d="M296.3,450.1v1.7M250.6,453.4v3.4M338,618.1v2.7M373.4,512.1v4.6M223.7,570.5v3.2M345.7,446.6v2.1M316.3,570.7v2.1M175.9,472.6v2.6M320.8,429.5v1.6M339.5,507.1v4.8M293.9,504.5v2.4M371.6,481.2v4.9M359.7,431.2v3.7M206.7,394.1v2.2M314.9,424.9v3.8M218.1,621.7v3.1M271,575.5v3.6M310.8,556.2v3.2M278.7,437.2v4.5M262.5,608.5v3.4M363.6,412v4.8M220.7,616.3v3.9M353.5,486.9v4.7M206.8,544.4v4.8M272.8,375.6v2.1M336.6,584.1v2.9M178.8,520.5v2.9M363.9,555.5v2.6M378.5,568.1v3.9M180.7,541.9v4.1M290,539v4.3M199.5,619.2v4.2M395.5,403.6v3.7M186.1,621.7v4.5M265.4,403.9v2.9M315.4,377.4v1.6M353.5,416.1v3.7M294.3,592.2v2.1M301.2,616v3.9M361.3,433.4v3.2M211.4,399.4v3.2M331.8,515.5v2.9M354.6,455.3v3.8M195.2,555.4v4.6M177.3,622.1v2.2M258.3,418.6v2.2M398.8,520.2v1.6M271.8,506.9v2.8M334.5,488.7v3.7M198.8,417v4.1" stroke="#8f98dc" stroke-opacity="0.45" stroke-width="0.6" fill="none"/>
<rect x="151.4" y="358.09999999999997" width="2.6" height="1.7" fill="#3d52b4"/>
<path d="M183,358.7 H190.3 Q192.3,358.7 192.3,360.9 V497.2 Q192.3,499.8 195.3,499.8 H201.60000000000002 M195.3,499.8 Q192.3,499.8 192.3,502.40000000000003 V638.5 Q192.3,640.7 190.3,640.7 H183" stroke="#0a0a0a" stroke-width="1.35" fill="none" stroke-linejoin="round"/>
<path d="M366.3,359.9 H373.6 Q375.6,359.9 375.6,362.09999999999997 V497.2 Q375.6,499.8 378.6,499.8 H384.90000000000003 M378.6,499.8 Q375.6,499.8 375.6,502.40000000000003 V638.5 Q375.6,640.7 373.6,640.7 H366.3" stroke="#0a0a0a" stroke-width="1.35" fill="none" stroke-linejoin="round"/>
<text x="204.4" y="503.7" font-size="13.2" fill="#111">1q+</text>
<text x="391.8" y="503.7" font-size="13.5" fill="#111">16q-</text>
<rect x="143.6" y="323.5" width="6" height="34.4" fill="#4fa4d9" stroke="#1a1a1a" stroke-width="0.9"/>
<rect x="143.6" y="357.9" width="6" height="283.1" fill="#f97d74" stroke="#1a1a1a" stroke-width="0.9"/>
<path d="M136,325 H112.3 V360.3 H131 M131,358.8 Q129.6,360.4 131,362.3 M131,358.8 H136 M131,362.3 H135" stroke="#333" stroke-width="0.7" fill="none"/>
<path d="M135.5,324.6 L143.4,324.6 L143.4,357.5 C141.6,350 142.2,332 139.5,327 C138.6,325.6 137,325.2 135.5,324.6Z" fill="#111"/>
<path d="M133.5,358.5 L143.4,358.5 L143.4,640.5 L141.4,640.5 L140.9,420 C140.6,395 139.6,378 137.8,370 C136.5,364.5 135,361 133.5,358.5Z" fill="#141414"/>
<path d="M136.4,363 V431" stroke="#888" stroke-width="0.5" fill="none"/>
<path d="M137.4,366 V634" stroke="#555" stroke-width="0.6" fill="none"/>
<path d="M139.3,372 V410" stroke="#666" stroke-width="0.5" fill="none"/>
<path d="M141.9,424 L142.5,470 L142.1,470 Z M142,500 L142.6,560 L142.2,560 Z M141.8,580 L142.4,625 L142,625Z" fill="#fff" opacity="0.7"/>
<path d="M137.4,634 H140 V638.5 H137.4Z" stroke="#333" stroke-width="0.5" fill="#fff"/>
<rect x="413.7" y="324.4" width="6.1" height="75.6" fill="url(#vg)"/>
<rect x="413.7" y="406.4" width="6.1" height="5.9" fill="#3a4fb2"/>
<text x="413.2" y="322.2" font-size="6.5" fill="#111">chr</text>
<text x="421.3" y="332.7" font-size="6.4" fill="#111">15</text>
<text x="421.3" y="359.5" font-size="6.4" fill="#111">10</text>
<text x="421.3" y="387.6" font-size="6.4" fill="#111">5</text>
<text x="421.3" y="415.3" font-size="6.4" fill="#111">0</text>
<text x="430.6" y="328.6" font-size="6.5" fill="#111">chr</text>
<rect x="430.6" y="330.70" width="8.1" height="8.53" fill="#e1301f"/>
<text x="440.3" y="337.40" font-size="6.4" fill="#111" transform="rotate(0.03 440.3 337.40)">chr1</text>
<rect x="430.6" y="339.13" width="8.1" height="8.53" fill="#e8481b"/>
<text x="440.3" y="345.83" font-size="6.4" fill="#111" transform="rotate(0.03 440.3 345.83)">chr2</text>
<rect x="430.6" y="347.56" width="8.1" height="8.53" fill="#f57f20"/>
<text x="440.3" y="354.26" font-size="6.4" fill="#111" transform="rotate(0.03 440.3 354.26)">chr3</text>
<rect x="430.6" y="355.99" width="8.1" height="8.53" fill="#f6a727"/>
<text x="440.3" y="362.69" font-size="6.4" fill="#111" transform="rotate(0.03 440.3 362.69)">chr4</text>
<rect x="430.6" y="364.42" width="8.1" height="8.53" fill="#f1e143"/>
<text x="440.3" y="371.12" font-size="6.4" fill="#111" transform="rotate(0.03 440.3 371.12)">chr5</text>
<rect x="430.6" y="372.85" width="8.1" height="8.53" fill="#c6dc33"/>
<text x="440.3" y="379.55" font-size="6.4" fill="#111" transform="rotate(0.03 440.3 379.55)">chr6</text>
<rect x="430.6" y="381.28" width="8.1" height="8.53" fill="#9bce1f"/>
<text x="440.3" y="387.98" font-size="6.4" fill="#111" transform="rotate(0.03 440.3 387.98)">chr7</text>
<rect x="430.6" y="389.71" width="8.1" height="8.53" fill="#7cc510"/>
<text x="440.3" y="396.41" font-size="6.4" fill="#111" transform="rotate(0.03 440.3 396.41)">chr8</text>
<rect x="430.6" y="398.14" width="8.1" height="8.53" fill="#76c31c"/>
<text x="440.3" y="404.84" font-size="6.4" fill="#111" transform="rotate(0.03 440.3 404.84)">chr9</text>
<rect x="430.6" y="406.57" width="8.1" height="8.53" fill="#7ecb4c"/>
<text x="440.3" y="413.27" font-size="6.4" fill="#111" transform="rotate(0.03 440.3 413.27)">chr10</text>
<rect x="430.6" y="415.00" width="8.1" height="8.53" fill="#84d679"/>
<text x="440.3" y="421.70" font-size="6.4" fill="#111" transform="rotate(0.03 440.3 421.70)">chr11</text>
<rect x="430.6" y="423.43" width="8.1" height="8.53" fill="#85dcc0"/>
<text x="440.3" y="430.13" font-size="6.4" fill="#111" transform="rotate(0.03 440.3 430.13)">chr12</text>
<rect x="430.6" y="431.86" width="8.1" height="8.53" fill="#89d8e4"/>
<text x="440.3" y="438.56" font-size="6.4" fill="#111" transform="rotate(0.03 440.3 438.56)">chr13</text>
<rect x="430.6" y="440.29" width="8.1" height="8.53" fill="#58b1dc"/>
<text x="440.3" y="446.99" font-size="6.4" fill="#111" transform="rotate(0.03 440.3 446.99)">chr14</text>
<rect x="430.6" y="448.72" width="8.1" height="8.53" fill="#4281c4"/>
<text x="440.3" y="455.42" font-size="6.4" fill="#111" transform="rotate(0.03 440.3 455.42)">chr15</text>
<rect x="430.6" y="457.15" width="8.1" height="8.53" fill="#3455ac"/>
<text x="440.3" y="463.85" font-size="6.4" fill="#111" transform="rotate(0.03 440.3 463.85)">chr16</text>
<rect x="430.6" y="465.58" width="8.1" height="8.53" fill="#3748a5"/>
<text x="440.3" y="472.28" font-size="6.4" fill="#111" transform="rotate(0.03 440.3 472.28)">chr17</text>
<rect x="430.6" y="474.01" width="8.1" height="8.53" fill="#4a44a8"/>
<text x="440.3" y="480.71" font-size="6.4" fill="#111" transform="rotate(0.03 440.3 480.71)">chr18</text>
<rect x="430.6" y="482.44" width="8.1" height="8.53" fill="#7a3fb0"/>
<text x="440.3" y="489.14" font-size="6.4" fill="#111" transform="rotate(0.03 440.3 489.14)">chr19</text>
<rect x="430.6" y="490.87" width="8.1" height="8.53" fill="#9a44b8"/>
<text x="440.3" y="497.57" font-size="6.4" fill="#111" transform="rotate(0.03 440.3 497.57)">chr20</text>
<rect x="430.6" y="499.30" width="8.1" height="8.53" fill="#b94fb8"/>
<text x="440.3" y="506.00" font-size="6.4" fill="#111" transform="rotate(0.03 440.3 506.00)">chr21</text>
<rect x="430.6" y="507.73" width="8.1" height="8.53" fill="#cf3fa4"/>
<text x="440.3" y="514.43" font-size="6.4" fill="#111" transform="rotate(0.03 440.3 514.43)">chr22</text>
<rect x="430.6" y="516.16" width="8.1" height="8.53" fill="#e5287c"/>
<text x="440.3" y="522.86" font-size="6.4" fill="#111" transform="rotate(0.03 440.3 522.86)">chrX</text>
<rect x="430.6" y="524.59" width="8.1" height="8.53" fill="#e3214a"/>
<text x="440.3" y="531.29" font-size="6.4" fill="#111" transform="rotate(0.03 440.3 531.29)">chrY</text>
<text x="427.3" y="577" font-size="12.4" fill="#111">Cluster</text>
<rect x="428.6" y="582.8" width="14.2" height="13.4" fill="#4fa4d9" stroke="#222" stroke-width="0.7"/>
<text x="446.5" y="593.8" font-size="12.5" fill="#111">NC (64 cells)</text>
<rect x="428.6" y="603.8" width="14.2" height="13.4" fill="#f97d74" stroke="#222" stroke-width="0.7"/>
<text x="446.5" y="615.4" font-size="12.5" fill="#111">A (542 cells)</text>
</g>
<g id="net1" fill="none"><path d="M537,228.4Q520.6,213.5 514.5,192.2M526.8,239.6Q514.8,217.4 514.5,192.2M537.2,242.4Q524.1,218.1 514.5,192.2M517.1,276.9Q516.9,234.5 514.5,192.2M537,228.4Q531.2,206.2 536,183.7M526.8,239.6Q525.6,210.7 536,183.7M517.1,276.9Q520.1,229 536,183.7M514,253.9Q534,221 548.7,185.5M537,228.4Q549.7,210.3 563,192.7M526.8,239.6Q552.2,221.8 563,192.7M523.2,248.1Q539.1,217.5 563,192.7M526.8,239.6Q514,223.8 503.3,206.5M537.2,242.4Q519.4,225.3 503.3,206.5M523.2,248.1Q510.3,228.7 503.3,206.5M510.4,261.6Q497.9,235.2 503.3,206.5M537,228.4Q531.2,216 524.7,203.9M526.8,239.6Q523.7,221.9 524.7,203.9M523.2,248.1Q522.6,225.9 524.7,203.9M514,253.9Q521.8,229.4 524.7,203.9M526.8,239.6Q537.2,222.6 546.2,204.7M523.2,248.1Q527.8,222.7 546.2,204.7M514,253.9Q534.8,232.4 546.2,204.7M517.1,276.9Q527.2,239 546.2,204.7M537,228.4Q547.9,217.9 559.4,208M526.8,239.6Q545.4,226.1 559.4,208M517.1,276.9Q533,239.2 559.4,208M537.2,242.4Q558.8,235.1 572.2,216.7M517.1,276.9Q543.4,245.7 572.2,216.7M537,228.4Q516.7,222.4 497.7,213.1M537.2,242.4Q512.3,234.8 497.7,213.1M523.2,248.1Q506.3,233.6 497.7,213.1M537,228.4Q538.7,219.3 534.4,211M526.8,239.6Q527.6,224.5 534.4,211M537.2,242.4Q530.8,227.2 534.4,211M523.2,248.1Q531.2,230.3 534.4,211M514,253.9Q517.1,229.1 534.4,211M517.1,276.9Q537.6,247.1 534.4,211M537,228.4Q516,224 494.9,220.5M537.2,242.4Q519.9,224 494.9,220.5M523.2,248.1Q506.5,236.9 494.9,220.5M510.4,261.6Q501.5,241.5 494.9,220.5M517.1,276.9Q513.9,245.6 494.9,220.5M526.8,239.6Q515.4,233.2 510.2,221.3M537.2,242.4Q521.8,234.4 510.2,221.3M523.2,248.1Q514.1,235.9 510.2,221.3M510.4,261.6Q503.8,241.5 510.2,221.3M537,228.4Q530.2,221.6 520.7,220.5M526.8,239.6Q526.5,229.2 520.7,220.5M517.1,276.9Q513,248.3 520.7,220.5M523.2,248.1Q543.4,236.4 560.5,220.5M537,228.4Q556.2,230.2 575.3,227.6M537.2,242.4Q558.5,240.8 575.3,227.6M514,253.9Q549.1,251.2 575.3,227.6M523.2,248.1Q509.8,240.3 495.6,234M510.4,261.6Q498.1,250.4 495.6,234M537,228.4Q522.2,229.4 508.9,236.1M537.2,242.4Q522.7,241 508.9,236.1M523.2,248.1Q515.9,242.2 508.9,236.1M514,253.9Q508.5,245.8 508.9,236.1M510.4,261.6Q513,248.6 508.9,236.1M517.1,276.9Q511,256.9 508.9,236.1M537,228.4Q545.7,230.4 551.3,237.3M523.2,248.1Q537.4,243.1 551.3,237.3M537,228.4Q550.8,234.3 564.6,240.4M537.2,242.4Q550.6,237.6 564.6,240.4M537.2,242.4Q557,249.1 577.3,244.7M523.2,248.1Q550,242.5 577.3,244.7M537.2,242.4Q512.2,233.9 486.5,240.1M523.2,248.1Q504.3,246.6 486.5,240.1M510.4,261.6Q496.5,253.1 486.5,240.1M517.1,276.9Q505.3,255.6 486.5,240.1M537,228.4Q515.9,232.7 496.7,242.2M523.2,248.1Q510.7,241.6 496.7,242.2M510.4,261.6Q502.6,252.6 496.7,242.2M537,228.4Q515.5,244.9 489,250.4M514,253.9Q536,255.5 557.9,254.4M537.2,242.4Q516.2,249.1 497.4,260.8M510.4,261.6Q504,260.7 497.4,260.8M537,228.4Q539,245.6 544.1,262.1M523.2,248.1Q534.2,254.3 544.1,262.1M537,228.4Q551,243.9 556.9,263.9M526.8,239.6Q540.2,253.9 556.9,263.9M523.2,248.1Q537.5,261.4 556.9,263.9M510.4,261.6Q534,255.5 556.9,263.9M523.2,248.1Q530.9,256.1 534.9,266.4M537,228.4Q511.4,245.8 491,269.2M514,253.9Q505,265.2 491,269.2M510.4,261.6Q499.7,262.7 491,269.2M517.1,276.9Q504.5,271.6 491,269.2M537,228.4Q518.6,249.3 507.6,274.9M526.8,239.6Q514.4,255.7 507.6,274.9M537.2,242.4Q526.5,262.3 507.6,274.9M510.4,261.6Q509.6,268.3 507.6,274.9M537,228.4Q548.5,250.8 556.1,274.9M526.8,239.6Q547.4,252.3 556.1,274.9M523.2,248.1Q535.2,266.9 556.1,274.9M514,253.9Q537.7,259.2 556.1,274.9M526.8,239.6Q514.9,264.3 493.6,281.5M523.2,248.1Q503.3,260.3 493.6,281.5M514,253.9Q500.4,265.2 493.6,281.5M510.4,261.6Q504.8,273.9 493.6,281.5M537,228.4Q530.3,255.3 529.3,283M526.8,239.6Q535.3,260.9 529.3,283M537.2,242.4Q528.1,261.7 529.3,283M523.2,248.1Q521.3,266.4 529.3,283M514,253.9Q518.2,270.3 529.3,283M523.2,248.1Q528.9,267 545.2,278.2M510.4,261.6Q526.5,272.5 545.2,278.2M526.8,239.6Q521.7,268.6 501.3,289.7M523.2,248.1Q518,271.9 501.3,289.7M510.4,261.6Q504.6,275.2 501.3,289.7M526.8,239.6Q529.1,265.1 540.1,288.1M537.2,242.4Q540.5,265.2 540.1,288.1M523.2,248.1Q532.9,267.6 540.1,288.1M510.4,261.6Q522.5,277.9 540.1,288.1M526.8,239.6Q523.5,267.5 516.6,294.8M537.2,242.4Q530.3,269.9 516.6,294.8M514,253.9Q518.4,274.1 516.6,294.8M510.4,261.6Q522.4,277.2 528.1,296M537,228.4Q518.7,261.6 508.4,298.1M537.2,242.4Q532.3,275.2 508.4,298.1M514,253.9Q513.9,276.4 508.4,298.1M510.4,261.6Q511.2,279.9 508.4,298.1M517.1,276.9Q514.9,288.4 508.4,298.1M494.9,220.5Q498.8,231.1 508.9,236.1M494.9,220.5Q502.2,240.3 497.4,260.8M494.9,220.5Q515.4,243 534.9,266.4M494.9,220.5Q518.6,253.9 516.6,294.8M494.9,220.5Q521.4,253.9 528.1,296M510.2,221.3Q515.5,221.5 520.7,220.5M510.2,221.3Q501.8,237.4 489,250.4M510.2,221.3Q533.3,238 534.9,266.4M510.2,221.3Q492.8,242.1 491,269.2M510.2,221.3Q512.3,256.3 501.3,289.7M510.2,221.3Q523.8,257.5 528.1,296M520.7,220.5Q508.2,238.4 486.5,240.1M520.7,220.5Q532.5,242 534.9,266.4M520.7,220.5Q526.5,255.4 540.1,288.1M495.6,234Q502.3,234.6 508.9,236.1M495.6,234Q498,237.9 496.7,242.2M495.6,234Q494.1,242.9 489,250.4M495.6,234Q504.8,253.5 507.6,274.9M508.9,236.1Q503.5,248.6 497.4,260.8M508.9,236.1Q516.1,256.2 534.9,266.4M508.9,236.1Q496.5,257.2 493.6,281.5M508.9,236.1Q496.5,261.6 501.3,289.7M508.9,236.1Q499.8,267.1 516.6,294.8M486.5,240.1Q492.2,250.3 497.4,260.8M486.5,240.1Q489.1,254.6 491,269.2M486.5,240.1Q506.4,268.7 528.1,296M496.7,242.2Q497.7,251.5 497.4,260.8M496.7,242.2Q516.7,252.9 534.9,266.4M496.7,242.2Q508.7,274.2 540.1,288.1M496.7,242.2Q516.4,267.2 508.4,298.1M489,250.4Q496.6,263.9 507.6,274.9M489,250.4Q510,272 528.1,296M489,250.4Q508.2,270.4 508.4,298.1M497.4,260.8Q497.3,275.5 501.3,289.7M497.4,260.8Q512.5,284.2 540.1,288.1M497.4,260.8Q502.5,280.4 516.6,294.8M534.9,266.4Q531.8,281.3 528.1,296M491,269.2Q491.5,281.8 501.3,289.7M507.6,274.9Q518,285.3 528.1,296M529.3,283Q535.7,283.4 540.1,288.1M529.3,283Q531.9,289.8 528.1,296M501.3,289.7Q520.8,291.9 540.1,288.1M497.7,213.1Q497.6,217.3 494.9,220.5M494.9,220.5Q495.3,227.3 495.6,234M495.6,234Q492.1,238.7 486.5,240.1M486.5,240.1Q489.6,244.8 489,250.4M489,250.4Q495.3,253.9 497.4,260.8M497.4,260.8Q493.8,264.7 491,269.2M491,269.2Q493.4,275.1 493.6,281.5M493.6,281.5Q497.6,285.5 501.3,289.7M501.3,289.7Q505.3,293.4 508.4,298.1M508.4,298.1Q512.6,296.8 516.6,294.8M516.6,294.8Q522.5,294.1 528.1,296M528.1,296Q533.2,290.7 540.1,288.1M540.1,288.1Q542.3,283 545.2,278.2M545.2,278.2Q550,274.3 556.1,274.9M556.1,274.9Q555.3,269.3 556.9,263.9M556.9,263.9Q557.3,259.1 557.9,254.4M503.3,206.5Q509.3,199.6 514.5,192.2M503.3,206.5Q514,205.1 524.7,203.9M503.3,206.5Q518.1,214.2 534.4,211M514.5,192.2Q519.9,197.8 524.7,203.9M514.5,192.2Q522.7,203.4 534.4,211M524.7,203.9Q529.9,207.1 534.4,211M445.6,170.2Q456.4,184.2 473.7,188.1M493.1,166.9Q502.1,185.7 503.3,206.5M577.1,272.8Q567.7,252.5 551.3,237.3M473.7,188.1Q495,181.7 514.5,192.2M473.7,188.1Q489.5,195.6 503.3,206.5M473.7,188.1Q501.5,188.6 524.7,203.9M473.7,188.1Q514.9,193.3 537,228.4M473.7,188.1Q488.4,198 497.7,213.1M473.7,188.1Q509.9,203.9 526.8,239.6" stroke="#303030" stroke-opacity="0.68" stroke-width="0.32"/><path d="M537,228.4Q515.5,225.3 495.6,234M537.2,242.4Q515.1,244.8 495.6,234M517.1,276.9Q512.2,252.6 495.6,234M526.8,239.6Q518.3,235.4 508.9,236.1M537,228.4Q510.1,227.5 486.5,240.1M526.8,239.6Q506.6,240 486.5,240.1M514,253.9Q501.3,244.9 486.5,240.1M526.8,239.6Q511.3,236.4 496.7,242.2M514,253.9Q505.1,248.4 496.7,242.2M517.1,276.9Q501.7,262.6 496.7,242.2M526.8,239.6Q507.6,244 489,250.4M537.2,242.4Q514.3,253.5 489,250.4M514,253.9Q501.7,250.7 489,250.4M510.4,261.6Q497.8,259.6 489,250.4M526.8,239.6Q508.5,245.3 497.4,260.8M523.2,248.1Q508.8,251.4 497.4,260.8M517.1,276.9Q506.2,270.2 497.4,260.8M537.2,242.4Q537.7,254.6 534.9,266.4M510.4,261.6Q523.3,260.9 534.9,266.4M517.1,276.9Q527.7,274.5 534.9,266.4M537.2,242.4Q513.9,255.4 491,269.2M523.2,248.1Q510.7,264.1 491,269.2M523.2,248.1Q519.6,263.9 507.6,274.9M537,228.4Q514.3,254.1 493.6,281.5M537,228.4Q517,257.8 501.3,289.7M514,253.9Q507.5,271.7 501.3,289.7M517.1,276.9Q508.1,281.9 501.3,289.7M537,228.4Q546.2,257.9 540.1,288.1M514,253.9Q522.6,274.4 540.1,288.1M517.1,276.9Q529.9,279.8 540.1,288.1M537,228.4Q516.5,258.4 516.6,294.8M523.2,248.1Q519.7,271.4 516.6,294.8M510.4,261.6Q510.4,278.7 516.6,294.8M537,228.4Q542.5,263.5 528.1,296M537.2,242.4Q525.1,267.9 528.1,296M523.2,248.1Q528.4,271.8 528.1,296M517.1,276.9Q519.3,288.3 528.1,296M526.8,239.6Q510.3,266.6 508.4,298.1M523.2,248.1Q521.1,274.6 508.4,298.1" stroke="#222" stroke-opacity="0.75" stroke-width="0.45"/><path d="M537,228.4Q532,234.1 526.8,239.6M537,228.4Q536.3,235.4 537.2,242.4M537,228.4Q528.9,237.4 523.2,248.1M537,228.4Q523.2,239 514,253.9M537,228.4Q525.2,246.2 510.4,261.6M537,228.4Q525.1,251.8 517.1,276.9M526.8,239.6Q531.7,242 537.2,242.4M526.8,239.6Q525.2,243.9 523.2,248.1M526.8,239.6Q519,245.5 514,253.9M526.8,239.6Q520.7,252.2 510.4,261.6M526.8,239.6Q518.2,257.3 517.1,276.9M537.2,242.4Q529.7,244 523.2,248.1M537.2,242.4Q524.3,245.5 514,253.9M537.2,242.4Q522.3,249.9 510.4,261.6M537.2,242.4Q525.4,258.6 517.1,276.9M523.2,248.1Q518.7,251.1 514,253.9M523.2,248.1Q516.1,254.2 510.4,261.6M523.2,248.1Q517.5,261.9 517.1,276.9M514,253.9Q512.1,257.7 510.4,261.6M514,253.9Q514.9,265.5 517.1,276.9M510.4,261.6Q512.2,269.9 517.1,276.9M526.8,239.6Q518.4,257.9 507.6,274.9M523.2,248.1Q513.4,260.3 507.6,274.9M523.2,248.1Q522.8,271.8 516.6,294.8M537.2,242.4Q523,267 516.6,294.8M526.8,239.6Q514.8,265 501.3,289.7M523.2,248.1Q509.4,267.3 501.3,289.7M537.2,242.4Q515.8,263.4 501.3,289.7M526.8,239.6Q526.3,261.4 529.3,283M537.2,242.4Q531.3,262.3 529.3,283M526.8,239.6Q513.6,252.3 497.4,260.8M523.2,248.1Q510.9,255.6 497.4,260.8M526.8,239.6Q518,237.3 508.9,236.1" stroke="#111" stroke-opacity="0.9" stroke-width="0.75"/><g fill="#c9a8e0" fill-opacity="0.6"><ellipse cx="445.6" cy="170.2" rx="1.9" ry="0.9"/><ellipse cx="493.1" cy="166.9" rx="1.9" ry="0.9"/><ellipse cx="577.1" cy="272.8" rx="1.9" ry="0.9"/><ellipse cx="536" cy="183.7" rx="1.9" ry="0.9"/><ellipse cx="548.7" cy="185.5" rx="1.9" ry="0.9"/><ellipse cx="563" cy="192.7" rx="1.9" ry="0.9"/><ellipse cx="572.2" cy="216.7" rx="1.9" ry="0.9"/><ellipse cx="575.3" cy="227.6" rx="1.9" ry="0.9"/><ellipse cx="494.9" cy="220.5" rx="1.9" ry="0.9"/></g><g fill="#8a2aa8"><circle cx="514.5" cy="192.2" r="1.65"/><circle cx="536" cy="183.7" r="1.65"/><circle cx="548.7" cy="185.5" r="1.65"/><circle cx="563" cy="192.7" r="1.65"/><circle cx="503.3" cy="206.5" r="1.65"/><circle cx="524.7" cy="203.9" r="1.65"/><circle cx="546.2" cy="204.7" r="1.65"/><circle cx="559.4" cy="208" r="1.65"/><circle cx="572.2" cy="216.7" r="1.65"/><circle cx="497.7" cy="213.1" r="1.65"/><circle cx="534.4" cy="211" r="1.65"/><circle cx="494.9" cy="220.5" r="1.65"/><circle cx="510.2" cy="221.3" r="1.65"/><circle cx="520.7" cy="220.5" r="1.65"/><circle cx="560.5" cy="220.5" r="1.65"/><circle cx="575.3" cy="227.6" r="1.65"/><circle cx="495.6" cy="234" r="1.65"/><circle cx="508.9" cy="236.1" r="1.65"/><circle cx="551.3" cy="237.3" r="1.65"/><circle cx="564.6" cy="240.4" r="1.65"/><circle cx="577.3" cy="244.7" r="1.65"/><circle cx="486.5" cy="240.1" r="1.65"/><circle cx="496.7" cy="242.2" r="1.65"/><circle cx="489" cy="250.4" r="1.65"/><circle cx="557.9" cy="254.4" r="1.65"/><circle cx="497.4" cy="260.8" r="1.65"/><circle cx="544.1" cy="262.1" r="1.65"/><circle cx="556.9" cy="263.9" r="1.65"/><circle cx="534.9" cy="266.4" r="1.65"/><circle cx="491" cy="269.2" r="1.65"/><circle cx="507.6" cy="274.9" r="1.65"/><circle cx="556.1" cy="274.9" r="1.65"/><circle cx="493.6" cy="281.5" r="1.65"/><circle cx="529.3" cy="283" r="1.65"/><circle cx="545.2" cy="278.2" r="1.65"/><circle cx="501.3" cy="289.7" r="1.65"/><circle cx="540.1" cy="288.1" r="1.65"/><circle cx="516.6" cy="294.8" r="1.65"/><circle cx="528.1" cy="296" r="1.65"/><circle cx="508.4" cy="298.1" r="1.65"/><circle cx="473.7" cy="188.1" r="1.65"/></g><g fill="#4d4a5c"><circle cx="514" cy="253.9" r="1.8"/><circle cx="510.4" cy="261.6" r="1.8"/><circle cx="517.1" cy="276.9" r="1.8"/></g><g fill="#58b82e"><circle cx="537" cy="228.4" r="2.05"/><circle cx="526.8" cy="239.6" r="2.05"/><circle cx="537.2" cy="242.4" r="2.05"/><circle cx="523.2" cy="248.1" r="2.05"/></g><g fill="#8a2aa8"><circle cx="445.6" cy="170.2" r="0.9"/><circle cx="493.1" cy="166.9" r="0.9"/><circle cx="577.1" cy="272.8" r="0.9"/></g></g>
<text x="491" y="315.7" font-size="10.5" fill="#111">*1 Module1</text>
<g id="net2" fill="none"><path d="M502.1,354Q523.1,355.1 542.1,364.2M502.1,354Q515.4,392.4 522.9,432.2M521.3,355Q532.8,357 542.1,364.2M521.3,355Q524,364.4 529.8,372.3M521.3,355Q537.5,363.9 551.3,376.2M565.9,336.5Q537.8,357 517.8,385.5M542.1,364.2Q546.4,370.5 551.3,376.2M542.1,364.2Q513.2,378.5 492.4,403.1M542.1,364.2Q548.5,386.2 540.5,407.7M542.1,364.2Q530.5,375.4 517.8,385.5M529.8,372.3Q521,401.6 522.9,432.2M529.8,372.3Q536.3,357.1 542.1,341.6M551.3,376.2Q559.8,375 568,372.3M551.3,376.2Q558.3,400.8 567.1,424.8M551.3,376.2Q535.9,384.2 528.9,400.1M551.3,376.2Q544.3,391.4 540.5,407.7M551.3,376.2Q532.9,374.7 517.8,385.5M568,372.3Q543.4,404.6 509.7,427.1M568,372.3Q524.8,374.5 492.4,403.1M568,372.3Q560.8,398.4 567.1,424.8M568,372.3Q550.3,360.9 542.1,341.6M568,372.3Q544,383.1 517.8,385.5M509.7,427.1Q516.8,428.5 522.9,432.2M509.7,427.1Q524.5,430.6 538.2,437.3M509.7,427.1Q503.8,413.1 492.4,403.1M509.7,427.1Q538.2,420.2 567.1,424.8M509.7,427.1Q531.2,386.3 542.1,341.6M522.9,432.2Q545.3,430.4 567.1,424.8M522.9,432.2Q525.4,416 528.9,400.1M522.9,432.2Q536.4,387.7 542.1,341.6M538.2,437.3Q554.7,435.9 567.1,424.8M538.2,437.3Q543.2,422.8 540.5,407.7M492.4,403.1Q533.1,402.4 567.1,424.8M492.4,403.1Q522.7,402.7 552.9,405.6M567.1,424.8Q561.8,413.9 552.9,405.6M567.1,424.8Q548.4,397.6 517.8,385.5M528.9,400.1Q534.5,404.2 540.5,407.7M552.9,405.6Q538.6,390 517.8,385.5M502.1,354Q520.8,343.8 542.1,341.6M542.1,341.6Q553.6,337.1 565.9,336.5M492.4,403.1Q508.4,429.3 538.2,437.3M538.2,437.3Q554.1,434.5 567.1,424.8M466.9,409.3Q480.6,410 492.4,403.1" stroke="#2a2a2a" stroke-opacity="0.7" stroke-width="0.33"/><path d="M502.1,354Q511.5,358.1 521.3,355M502.1,354Q514.9,364.8 529.8,372.3M502.1,354Q526.7,365 551.3,376.2M502.1,354Q513.7,389.8 509.7,427.1M502.1,354Q533,390.1 538.2,437.3M502.1,354Q531.2,392.5 567.1,424.8M502.1,354Q517.2,383.8 540.5,407.7M502.1,354Q514.4,367.5 517.8,385.5M521.3,355Q542.8,368.6 568,372.3M521.3,355Q500.2,375 492.4,403.1M521.3,355Q524.9,377.5 528.9,400.1M521.3,355Q533,382.8 552.9,405.6M521.3,355Q529.1,344.2 542.1,341.6M521.3,355Q520.5,370.3 517.8,385.5M565.9,336.5Q560.3,357 551.3,376.2M565.9,336.5Q534.2,379.8 522.9,432.2M565.9,336.5Q541.4,383.9 538.2,437.3M565.9,336.5Q537.9,379.5 492.4,403.1M565.9,336.5Q576,380.5 567.1,424.8M565.9,336.5Q549.5,369.5 528.9,400.1M565.9,336.5Q564.7,376.2 540.5,407.7M565.9,336.5Q558.8,370.9 552.9,405.6M542.1,364.2Q537.5,370.6 529.8,372.3M542.1,364.2Q553.5,373.1 568,372.3M542.1,364.2Q522.3,395.3 522.9,432.2M542.1,364.2Q548,384.8 552.9,405.6M542.1,364.2Q542.8,352.9 542.1,341.6M529.8,372.3Q548.9,370.7 568,372.3M529.8,372.3Q526.4,402.1 509.7,427.1M529.8,372.3Q517,394.8 492.4,403.1M529.8,372.3Q538.7,390.9 552.9,405.6M551.3,376.2Q551.5,357.6 542.1,341.6M568,372.3Q549.2,387.3 528.9,400.1M568,372.3Q549.4,386.3 540.5,407.7M568,372.3Q557.4,387.6 552.9,405.6M509.7,427.1Q522.9,416.1 528.9,400.1M538.2,437.3Q533.2,389.1 542.1,341.6M538.2,437.3Q524.4,412.8 517.8,385.5M492.4,403.1Q516.9,400.7 540.5,407.7M567.1,424.8Q550.7,421 540.5,407.7M528.9,400.1Q522.3,393.5 517.8,385.5M540.5,407.7Q546.9,408 552.9,405.6M540.5,407.7Q530.1,395.6 517.8,385.5M502.1,354Q489.4,377 492.4,403.1M565.9,336.5Q573.5,380.5 567.1,424.8M568,372.3Q571.2,398.6 567.1,424.8" stroke="#222" stroke-opacity="0.8" stroke-width="0.45"/><path d="M502.1,354Q487.6,376.6 492.4,403.1M521.3,355Q552.6,384.3 567.1,424.8M542.1,364.2Q552.6,395.3 567.1,424.8M529.8,372.3Q549.9,397.5 567.1,424.8M551.3,376.2Q524.8,396.2 492.4,403.1M522.9,432.2Q511,414.1 492.4,403.1M538.2,437.3Q512.8,423.5 492.4,403.1M492.4,403.1Q510.5,399.3 528.9,400.1M492.4,403.1Q507.4,364.4 542.1,341.6M492.4,403.1Q503.6,392.2 517.8,385.5M567.1,424.8Q550.4,408.6 528.9,400.1M567.1,424.8Q556.5,382.6 542.1,341.6" stroke="#111" stroke-opacity="0.9" stroke-width="0.7"/><g fill="#8a2aa8"><circle cx="502.1" cy="354" r="1.4"/><circle cx="521.3" cy="355" r="1.4"/><circle cx="565.9" cy="336.5" r="1.4"/><circle cx="542.1" cy="364.2" r="1.4"/><circle cx="529.8" cy="372.3" r="1.4"/><circle cx="551.3" cy="376.2" r="1.4"/><circle cx="568" cy="372.3" r="1.4"/><circle cx="509.7" cy="427.1" r="1.4"/><circle cx="522.9" cy="432.2" r="1.4"/><circle cx="538.2" cy="437.3" r="1.4"/></g><g fill="#4d4a5c"><circle cx="542.1" cy="341.6" r="1.5"/><circle cx="517.8" cy="385.5" r="1.5"/></g><g fill="#58b82e"><circle cx="492.4" cy="403.1" r="1.7"/><circle cx="567.1" cy="424.8" r="1.7"/><circle cx="528.9" cy="400.1" r="1.7"/><circle cx="540.5" cy="407.7" r="1.7"/><circle cx="552.9" cy="405.6" r="1.7"/></g><ellipse cx="466.9" cy="409.3" rx="1.8" ry="0.8" fill="#c9a8e0" fill-opacity="0.6"/><circle cx="466.9" cy="409.3" r="0.8" fill="#8a2aa8"/></g>
<text x="490.8" y="460.6" font-size="10.5" fill="#111">*2 Module2</text>
<g font-size="10.9" font-weight="bold" fill="#000" stroke="#000" stroke-width="0.35"><text x="8.3" y="660.7" textLength="16.2" lengthAdjust="spacingAndGlyphs">Fig.</text> <text x="27.8" y="660.7" textLength="5.1" lengthAdjust="spacingAndGlyphs">5</text> <text x="36.7" y="660.7" textLength="46.8" lengthAdjust="spacingAndGlyphs">Integrated</text> <text x="87.3" y="660.7" textLength="30.3" lengthAdjust="spacingAndGlyphs">spatial</text> <text x="121.4" y="660.7" textLength="64.3" lengthAdjust="spacingAndGlyphs">transcriptome</text> <text x="189.7" y="660.7" textLength="14.4" lengthAdjust="spacingAndGlyphs">and</text> <text x="207.4" y="660.7" textLength="46.1" lengthAdjust="spacingAndGlyphs">single-cell</text> <text x="257.3" y="660.7" textLength="20.9" lengthAdjust="spacingAndGlyphs">DNA</text> <text x="282.5" y="660.7" textLength="49.4" lengthAdjust="spacingAndGlyphs">sequencing</text> <text x="335.7" y="660.7" textLength="36.7" lengthAdjust="spacingAndGlyphs">analysis</text> <text x="376.2" y="660.7" textLength="8.8" lengthAdjust="spacingAndGlyphs">of</text> <text x="388.6" y="660.7" textLength="4.5" lengthAdjust="spacingAndGlyphs">a</text> <text x="396.9" y="660.7" textLength="32.1" lengthAdjust="spacingAndGlyphs">patient</text> <text x="432.8" y="660.7" textLength="18.5" lengthAdjust="spacingAndGlyphs">with</text> <text x="455.1" y="660.7" textLength="33.6" lengthAdjust="spacingAndGlyphs" font-style="italic">PIK3CA</text> <text x="491.7" y="660.7" textLength="80.9" lengthAdjust="spacingAndGlyphs">mutation-positive</text> <text x="576.4" y="660.7" textLength="27.3" lengthAdjust="spacingAndGlyphs">ductal</text> <text x="607.5" y="660.7" textLength="44.8" lengthAdjust="spacingAndGlyphs">carcinoma</text> <text x="656.1" y="660.7" textLength="7.6" lengthAdjust="spacingAndGlyphs">in</text> <text x="667.5" y="660.7" textLength="17.7" lengthAdjust="spacingAndGlyphs">situ</text> </g>
</svg>
</body></html>
